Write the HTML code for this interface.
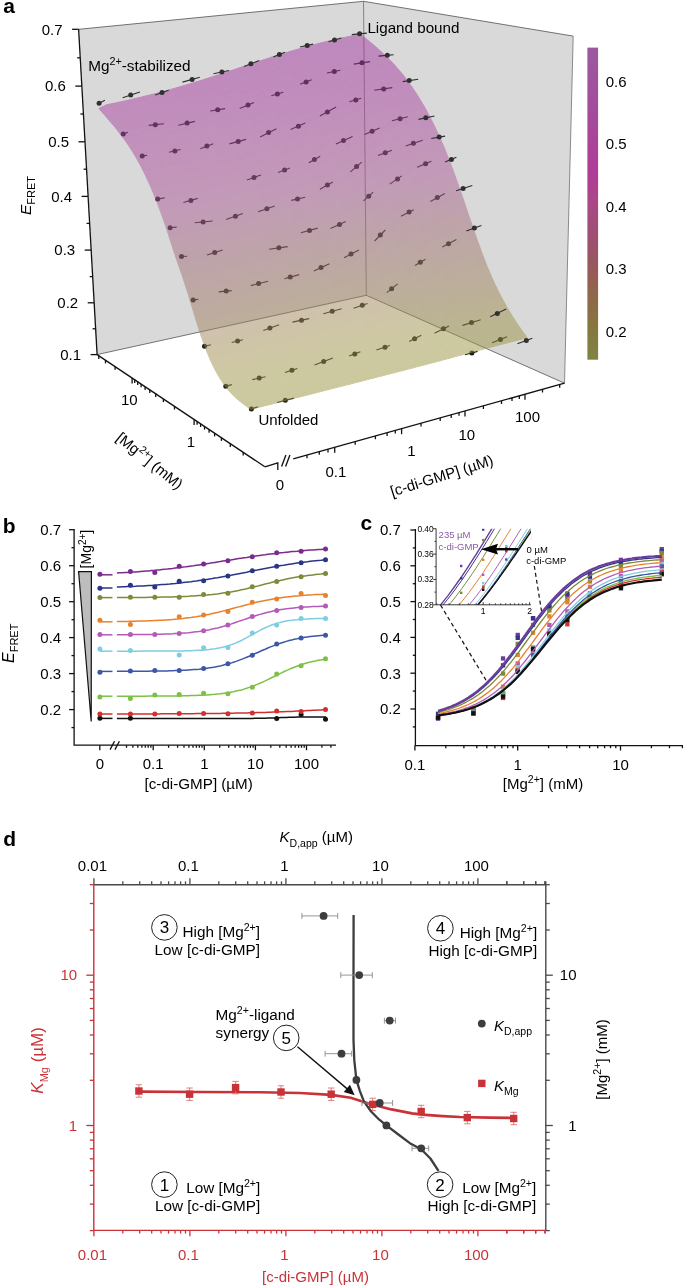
<!DOCTYPE html>
<html><head><meta charset="utf-8"><style>
html,body{margin:0;padding:0;background:#fff;}
svg{display:block;will-change:transform;}
</style></head><body>
<svg width="685" height="1286" viewBox="0 0 685 1286">
<rect width="685" height="1286" fill="#fff"/>
<polygon points="97.1,354.6 366.3,295.3 363.5,1.3 78.6,29.3" fill="#d9d9d9"/>
<polygon points="366.3,295.3 564.5,383.2 573.2,36.1 363.5,1.3" fill="#d9d9d9"/>
<polyline points="78.6,29.3 363.5,1.3 573.2,36.1" stroke="#4a4a4a" stroke-width="0.75" fill="none"/>
<polyline points="573.2,36.1 564.5,383.2" stroke="#6a6a6a" stroke-width="0.75" fill="none"/>
<polyline points="363.5,1.3 366.3,295.3" stroke="#5a5a5a" stroke-width="0.7" fill="none"/>
<polyline points="97.1,354.6 366.3,295.3 564.5,383.2" stroke="#4a4a4a" stroke-width="0.75" fill="none"/>
<line x1="97.1" y1="354.6" x2="78.6" y2="29.3" stroke="#111" stroke-width="1.3" fill="none"/>
<line x1="90.6" y1="354.6" x2="97.1" y2="354.6" stroke="#111" stroke-width="1.3" fill="none"/>
<text x="81.1" y="359.9" text-anchor="end" font-size="15" font-family="Liberation Sans, sans-serif">0.1</text>
<line x1="92.6" y1="328.8" x2="95.6" y2="328.8" stroke="#111" stroke-width="1.3" fill="none"/>
<line x1="87.7" y1="302.8" x2="94.2" y2="302.8" stroke="#111" stroke-width="1.3" fill="none"/>
<text x="78.2" y="308.1" text-anchor="end" font-size="15" font-family="Liberation Sans, sans-serif">0.2</text>
<line x1="89.7" y1="276.6" x2="92.7" y2="276.6" stroke="#111" stroke-width="1.3" fill="none"/>
<line x1="84.7" y1="250.1" x2="91.2" y2="250.1" stroke="#111" stroke-width="1.3" fill="none"/>
<text x="75.2" y="255.4" text-anchor="end" font-size="15" font-family="Liberation Sans, sans-serif">0.3</text>
<line x1="86.6" y1="223.4" x2="89.6" y2="223.4" stroke="#111" stroke-width="1.3" fill="none"/>
<line x1="81.6" y1="196.4" x2="88.1" y2="196.4" stroke="#111" stroke-width="1.3" fill="none"/>
<text x="72.1" y="201.7" text-anchor="end" font-size="15" font-family="Liberation Sans, sans-serif">0.4</text>
<line x1="83.6" y1="169.2" x2="86.6" y2="169.2" stroke="#111" stroke-width="1.3" fill="none"/>
<line x1="78.5" y1="141.8" x2="85.0" y2="141.8" stroke="#111" stroke-width="1.3" fill="none"/>
<text x="69.0" y="147.1" text-anchor="end" font-size="15" font-family="Liberation Sans, sans-serif">0.5</text>
<line x1="80.4" y1="114.0" x2="83.4" y2="114.0" stroke="#111" stroke-width="1.3" fill="none"/>
<line x1="75.3" y1="86.1" x2="81.8" y2="86.1" stroke="#111" stroke-width="1.3" fill="none"/>
<text x="65.8" y="91.4" text-anchor="end" font-size="15" font-family="Liberation Sans, sans-serif">0.6</text>
<line x1="77.2" y1="57.8" x2="80.2" y2="57.8" stroke="#111" stroke-width="1.3" fill="none"/>
<line x1="72.1" y1="29.3" x2="78.6" y2="29.3" stroke="#111" stroke-width="1.3" fill="none"/>
<text x="62.6" y="34.6" text-anchor="end" font-size="15" font-family="Liberation Sans, sans-serif">0.7</text>
<line x1="97.1" y1="354.6" x2="264.9" y2="466.8" stroke="#111" stroke-width="1.3" fill="none"/>
<line x1="243.2" y1="452.3" x2="243.2" y2="455.5" stroke="#111" stroke-width="1.3" fill="none"/>
<line x1="230.3" y1="443.7" x2="230.3" y2="446.9" stroke="#111" stroke-width="1.3" fill="none"/>
<line x1="221.4" y1="437.7" x2="221.4" y2="440.9" stroke="#111" stroke-width="1.3" fill="none"/>
<line x1="214.6" y1="433.2" x2="214.6" y2="436.4" stroke="#111" stroke-width="1.3" fill="none"/>
<line x1="209.1" y1="429.5" x2="209.1" y2="432.7" stroke="#111" stroke-width="1.3" fill="none"/>
<line x1="204.5" y1="426.4" x2="204.5" y2="429.6" stroke="#111" stroke-width="1.3" fill="none"/>
<line x1="200.6" y1="423.8" x2="200.6" y2="427.0" stroke="#111" stroke-width="1.3" fill="none"/>
<line x1="197.1" y1="421.5" x2="197.1" y2="424.7" stroke="#111" stroke-width="1.3" fill="none"/>
<line x1="194.1" y1="419.4" x2="194.1" y2="424.9" stroke="#111" stroke-width="1.3" fill="none"/>
<line x1="174.5" y1="406.3" x2="174.5" y2="409.5" stroke="#111" stroke-width="1.3" fill="none"/>
<line x1="163.4" y1="398.9" x2="163.4" y2="402.1" stroke="#111" stroke-width="1.3" fill="none"/>
<line x1="155.7" y1="393.8" x2="155.7" y2="397.0" stroke="#111" stroke-width="1.3" fill="none"/>
<line x1="149.8" y1="389.8" x2="149.8" y2="393.0" stroke="#111" stroke-width="1.3" fill="none"/>
<line x1="145.1" y1="386.7" x2="145.1" y2="389.9" stroke="#111" stroke-width="1.3" fill="none"/>
<line x1="141.1" y1="384.0" x2="141.1" y2="387.2" stroke="#111" stroke-width="1.3" fill="none"/>
<line x1="137.7" y1="381.8" x2="137.7" y2="385.0" stroke="#111" stroke-width="1.3" fill="none"/>
<line x1="134.7" y1="379.8" x2="134.7" y2="383.0" stroke="#111" stroke-width="1.3" fill="none"/>
<line x1="132.1" y1="378.0" x2="132.1" y2="383.5" stroke="#111" stroke-width="1.3" fill="none"/>
<line x1="115.1" y1="366.6" x2="115.1" y2="369.8" stroke="#111" stroke-width="1.3" fill="none"/>
<line x1="105.5" y1="360.2" x2="105.5" y2="363.4" stroke="#111" stroke-width="1.3" fill="none"/>
<line x1="98.8" y1="355.7" x2="98.8" y2="358.9" stroke="#111" stroke-width="1.3" fill="none"/>
<polyline points="264.9,466.8 277.8,462.9 277.8,470" stroke="#111" stroke-width="1.3" fill="none" stroke-linejoin="miter"/>
<polyline points="293.2,458.9 564.5,383.2" stroke="#111" stroke-width="1.3" fill="none"/>
<line x1="281.6" y1="466.4" x2="285.9" y2="455" stroke="#111" stroke-width="1.3" fill="none"/>
<line x1="285.6" y1="466.4" x2="289.9" y2="455" stroke="#111" stroke-width="1.3" fill="none"/>
<line x1="307.0" y1="455.1" x2="307.0" y2="458.3" stroke="#111" stroke-width="1.3" fill="none"/>
<line x1="319.3" y1="451.6" x2="319.3" y2="454.8" stroke="#111" stroke-width="1.3" fill="none"/>
<line x1="328.0" y1="449.2" x2="328.0" y2="452.4" stroke="#111" stroke-width="1.3" fill="none"/>
<line x1="334.7" y1="447.3" x2="334.7" y2="452.8" stroke="#111" stroke-width="1.3" fill="none"/>
<line x1="355.2" y1="441.6" x2="355.2" y2="444.8" stroke="#111" stroke-width="1.3" fill="none"/>
<line x1="375.4" y1="436.0" x2="375.4" y2="439.2" stroke="#111" stroke-width="1.3" fill="none"/>
<line x1="387.1" y1="432.7" x2="387.1" y2="435.9" stroke="#111" stroke-width="1.3" fill="none"/>
<line x1="395.3" y1="430.4" x2="395.3" y2="433.6" stroke="#111" stroke-width="1.3" fill="none"/>
<line x1="401.6" y1="428.7" x2="401.6" y2="434.2" stroke="#111" stroke-width="1.3" fill="none"/>
<line x1="421.0" y1="423.2" x2="421.0" y2="426.4" stroke="#111" stroke-width="1.3" fill="none"/>
<line x1="440.2" y1="417.9" x2="440.2" y2="421.1" stroke="#111" stroke-width="1.3" fill="none"/>
<line x1="451.2" y1="414.8" x2="451.2" y2="418.0" stroke="#111" stroke-width="1.3" fill="none"/>
<line x1="459.0" y1="412.6" x2="459.0" y2="415.8" stroke="#111" stroke-width="1.3" fill="none"/>
<line x1="465.0" y1="411.0" x2="465.0" y2="416.5" stroke="#111" stroke-width="1.3" fill="none"/>
<line x1="483.4" y1="405.8" x2="483.4" y2="409.0" stroke="#111" stroke-width="1.3" fill="none"/>
<line x1="501.5" y1="400.8" x2="501.5" y2="404.0" stroke="#111" stroke-width="1.3" fill="none"/>
<line x1="512.0" y1="397.8" x2="512.0" y2="401.0" stroke="#111" stroke-width="1.3" fill="none"/>
<line x1="519.3" y1="395.8" x2="519.3" y2="399.0" stroke="#111" stroke-width="1.3" fill="none"/>
<line x1="525.0" y1="394.2" x2="525.0" y2="399.7" stroke="#111" stroke-width="1.3" fill="none"/>
<line x1="542.5" y1="389.3" x2="542.5" y2="392.5" stroke="#111" stroke-width="1.3" fill="none"/>
<line x1="559.7" y1="384.5" x2="559.7" y2="387.7" stroke="#111" stroke-width="1.3" fill="none"/>
<text x="129.3" y="405" font-size="15" font-family="Liberation Sans, sans-serif" text-anchor="middle">10</text>
<text x="191" y="447.2" font-size="15" font-family="Liberation Sans, sans-serif" text-anchor="middle">1</text>
<text x="279.9" y="489.6" font-size="15" font-family="Liberation Sans, sans-serif" text-anchor="middle">0</text>
<text x="335.9" y="476.5" font-size="15" font-family="Liberation Sans, sans-serif" text-anchor="middle">0.1</text>
<text x="411.4" y="456.4" font-size="15" font-family="Liberation Sans, sans-serif" text-anchor="middle">1</text>
<text x="466.8" y="440" font-size="15" font-family="Liberation Sans, sans-serif" text-anchor="middle">10</text>
<text x="527.5" y="422.3" font-size="15" font-family="Liberation Sans, sans-serif" text-anchor="middle">100</text>
<text transform="translate(149.6,461) rotate(39)" text-anchor="middle" dy="5" font-size="15" font-family="Liberation Sans, sans-serif">[Mg<tspan font-size="10.6" dy="-6">2+</tspan><tspan dy="6">] (mM)</tspan></text>
<text transform="translate(441.8,475.9) rotate(-17.5)" text-anchor="middle" dy="5" font-size="15" font-family="Liberation Sans, sans-serif">[c-di-GMP] (µM)</text>
<text transform="translate(30.6,215) rotate(-90)" font-size="15.5" font-family="Liberation Sans, sans-serif"><tspan font-style="italic">E</tspan><tspan font-size="11" dy="4.2">FRET</tspan></text>
<line x1="251.4" y1="409.0" x2="257.9" y2="406.8" stroke="#1e1e1e" stroke-width="1.1"/>
<circle cx="251.4" cy="409.0" r="2.5" fill="#1e1e1e"/>
<line x1="277.1" y1="402.5" x2="293.9" y2="398.1" stroke="#1e1e1e" stroke-width="1.1"/>
<circle cx="285.3" cy="400.3" r="2.5" fill="#1e1e1e"/>
<line x1="465.0" y1="354.7" x2="477.6" y2="351.4" stroke="#1e1e1e" stroke-width="1.1"/>
<circle cx="471.9" cy="352.9" r="2.5" fill="#1e1e1e"/>
<line x1="492.1" y1="342.8" x2="507.1" y2="336.8" stroke="#1e1e1e" stroke-width="1.1"/>
<circle cx="500.4" cy="339.5" r="2.5" fill="#1e1e1e"/>
<line x1="225.8" y1="386.3" x2="231.8" y2="384.6" stroke="#1e1e1e" stroke-width="1.1"/>
<circle cx="225.8" cy="386.3" r="2.5" fill="#1e1e1e"/>
<line x1="252.3" y1="379.6" x2="265.5" y2="376.8" stroke="#1e1e1e" stroke-width="1.1"/>
<circle cx="259.2" cy="378.1" r="2.5" fill="#1e1e1e"/>
<line x1="285.0" y1="372.4" x2="297.3" y2="368.4" stroke="#1e1e1e" stroke-width="1.1"/>
<circle cx="291.9" cy="370.2" r="2.5" fill="#1e1e1e"/>
<line x1="314.5" y1="364.9" x2="332.9" y2="358.1" stroke="#1e1e1e" stroke-width="1.1"/>
<circle cx="323.7" cy="361.5" r="2.5" fill="#1e1e1e"/>
<line x1="349.1" y1="356.1" x2="360.4" y2="351.7" stroke="#1e1e1e" stroke-width="1.1"/>
<circle cx="354.8" cy="353.9" r="2.5" fill="#1e1e1e"/>
<line x1="376.4" y1="349.9" x2="389.9" y2="345.6" stroke="#1e1e1e" stroke-width="1.1"/>
<circle cx="385.0" cy="347.2" r="2.5" fill="#1e1e1e"/>
<line x1="409.2" y1="341.4" x2="421.3" y2="335.3" stroke="#1e1e1e" stroke-width="1.1"/>
<circle cx="414.6" cy="338.7" r="2.5" fill="#1e1e1e"/>
<line x1="434.5" y1="333.3" x2="449.0" y2="326.0" stroke="#1e1e1e" stroke-width="1.1"/>
<circle cx="443.4" cy="328.8" r="2.5" fill="#1e1e1e"/>
<line x1="462.5" y1="325.4" x2="480.7" y2="319.8" stroke="#1e1e1e" stroke-width="1.1"/>
<circle cx="471.5" cy="322.6" r="2.5" fill="#1e1e1e"/>
<line x1="204.5" y1="346.3" x2="210.8" y2="344.7" stroke="#1e1e1e" stroke-width="1.1"/>
<circle cx="204.5" cy="346.3" r="2.5" fill="#1e1e1e"/>
<line x1="231.7" y1="342.5" x2="242.9" y2="339.8" stroke="#1e1e1e" stroke-width="1.1"/>
<circle cx="237.6" cy="341.1" r="2.5" fill="#1e1e1e"/>
<line x1="263.3" y1="330.5" x2="279.1" y2="324.8" stroke="#1e1e1e" stroke-width="1.1"/>
<circle cx="269.9" cy="328.1" r="2.5" fill="#1e1e1e"/>
<line x1="292.4" y1="322.1" x2="309.1" y2="318.6" stroke="#1e1e1e" stroke-width="1.1"/>
<circle cx="301.5" cy="320.2" r="2.5" fill="#1e1e1e"/>
<line x1="323.3" y1="313.7" x2="341.6" y2="308.8" stroke="#1e1e1e" stroke-width="1.1"/>
<circle cx="332.2" cy="311.3" r="2.5" fill="#1e1e1e"/>
<line x1="353.5" y1="308.3" x2="367.5" y2="303.6" stroke="#1e1e1e" stroke-width="1.1"/>
<circle cx="362.3" cy="305.3" r="2.5" fill="#1e1e1e"/>
<line x1="386.8" y1="292.6" x2="397.7" y2="283.9" stroke="#1e1e1e" stroke-width="1.1"/>
<circle cx="391.6" cy="288.8" r="2.5" fill="#1e1e1e"/>
<line x1="415.0" y1="265.5" x2="425.4" y2="259.2" stroke="#1e1e1e" stroke-width="1.1"/>
<circle cx="420.3" cy="262.3" r="2.5" fill="#1e1e1e"/>
<line x1="442.3" y1="247.0" x2="456.4" y2="239.5" stroke="#1e1e1e" stroke-width="1.1"/>
<circle cx="448.5" cy="243.7" r="2.5" fill="#1e1e1e"/>
<line x1="193.1" y1="300.1" x2="198.3" y2="299.2" stroke="#1e1e1e" stroke-width="1.1"/>
<circle cx="193.1" cy="300.1" r="2.5" fill="#1e1e1e"/>
<line x1="218.8" y1="291.9" x2="231.6" y2="290.6" stroke="#1e1e1e" stroke-width="1.1"/>
<circle cx="226.2" cy="291.1" r="2.5" fill="#1e1e1e"/>
<line x1="250.8" y1="285.6" x2="268.1" y2="281.2" stroke="#1e1e1e" stroke-width="1.1"/>
<circle cx="258.6" cy="283.6" r="2.5" fill="#1e1e1e"/>
<line x1="284.4" y1="278.8" x2="299.2" y2="274.6" stroke="#1e1e1e" stroke-width="1.1"/>
<circle cx="290.2" cy="277.1" r="2.5" fill="#1e1e1e"/>
<line x1="313.8" y1="270.9" x2="329.4" y2="263.8" stroke="#1e1e1e" stroke-width="1.1"/>
<circle cx="321.0" cy="267.6" r="2.5" fill="#1e1e1e"/>
<line x1="344.1" y1="257.7" x2="359.0" y2="250.0" stroke="#1e1e1e" stroke-width="1.1"/>
<circle cx="351.0" cy="254.1" r="2.5" fill="#1e1e1e"/>
<line x1="374.6" y1="241.0" x2="385.3" y2="230.0" stroke="#1e1e1e" stroke-width="1.1"/>
<circle cx="380.3" cy="235.0" r="2.5" fill="#1e1e1e"/>
<line x1="400.9" y1="216.3" x2="413.8" y2="209.7" stroke="#1e1e1e" stroke-width="1.1"/>
<circle cx="409.1" cy="212.1" r="2.5" fill="#1e1e1e"/>
<line x1="430.4" y1="201.4" x2="444.8" y2="193.5" stroke="#1e1e1e" stroke-width="1.1"/>
<circle cx="437.3" cy="197.6" r="2.5" fill="#1e1e1e"/>
<line x1="181.5" y1="256.5" x2="187.2" y2="256.2" stroke="#1e1e1e" stroke-width="1.1"/>
<circle cx="181.5" cy="256.5" r="2.5" fill="#1e1e1e"/>
<line x1="207.0" y1="255.1" x2="222.6" y2="249.9" stroke="#1e1e1e" stroke-width="1.1"/>
<circle cx="214.7" cy="252.5" r="2.5" fill="#1e1e1e"/>
<line x1="269.1" y1="249.2" x2="287.7" y2="246.6" stroke="#1e1e1e" stroke-width="1.1"/>
<circle cx="278.9" cy="247.8" r="2.5" fill="#1e1e1e"/>
<line x1="300.9" y1="232.7" x2="317.7" y2="228.1" stroke="#1e1e1e" stroke-width="1.1"/>
<circle cx="309.5" cy="230.4" r="2.5" fill="#1e1e1e"/>
<line x1="330.5" y1="228.5" x2="345.8" y2="221.5" stroke="#1e1e1e" stroke-width="1.1"/>
<circle cx="339.5" cy="224.4" r="2.5" fill="#1e1e1e"/>
<line x1="363.6" y1="200.9" x2="373.2" y2="192.1" stroke="#1e1e1e" stroke-width="1.1"/>
<circle cx="368.7" cy="196.2" r="2.5" fill="#1e1e1e"/>
<line x1="389.8" y1="184.1" x2="401.8" y2="175.9" stroke="#1e1e1e" stroke-width="1.1"/>
<circle cx="397.5" cy="178.9" r="2.5" fill="#1e1e1e"/>
<line x1="417.1" y1="167.3" x2="431.4" y2="161.3" stroke="#1e1e1e" stroke-width="1.1"/>
<circle cx="425.6" cy="163.7" r="2.5" fill="#1e1e1e"/>
<line x1="170.1" y1="227.8" x2="176.7" y2="227.1" stroke="#1e1e1e" stroke-width="1.1"/>
<circle cx="170.1" cy="227.8" r="2.5" fill="#1e1e1e"/>
<line x1="194.8" y1="222.8" x2="212.6" y2="221.0" stroke="#1e1e1e" stroke-width="1.1"/>
<circle cx="203.1" cy="221.9" r="2.5" fill="#1e1e1e"/>
<line x1="226.1" y1="219.6" x2="242.8" y2="213.5" stroke="#1e1e1e" stroke-width="1.1"/>
<circle cx="235.4" cy="216.2" r="2.5" fill="#1e1e1e"/>
<line x1="258.1" y1="211.7" x2="274.7" y2="206.0" stroke="#1e1e1e" stroke-width="1.1"/>
<circle cx="266.9" cy="208.7" r="2.5" fill="#1e1e1e"/>
<line x1="291.3" y1="200.4" x2="305.2" y2="197.2" stroke="#1e1e1e" stroke-width="1.1"/>
<circle cx="297.5" cy="199.0" r="2.5" fill="#1e1e1e"/>
<line x1="319.9" y1="189.2" x2="332.8" y2="181.9" stroke="#1e1e1e" stroke-width="1.1"/>
<circle cx="327.4" cy="185.0" r="2.5" fill="#1e1e1e"/>
<line x1="350.4" y1="171.9" x2="361.8" y2="162.2" stroke="#1e1e1e" stroke-width="1.1"/>
<circle cx="356.6" cy="166.6" r="2.5" fill="#1e1e1e"/>
<line x1="378.0" y1="155.6" x2="391.9" y2="150.2" stroke="#1e1e1e" stroke-width="1.1"/>
<circle cx="385.3" cy="152.8" r="2.5" fill="#1e1e1e"/>
<line x1="405.7" y1="145.9" x2="422.7" y2="140.3" stroke="#1e1e1e" stroke-width="1.1"/>
<circle cx="413.4" cy="143.3" r="2.5" fill="#1e1e1e"/>
<line x1="157.7" y1="199.0" x2="164.6" y2="197.9" stroke="#1e1e1e" stroke-width="1.1"/>
<circle cx="157.7" cy="199.0" r="2.5" fill="#1e1e1e"/>
<line x1="183.4" y1="202.5" x2="197.7" y2="198.4" stroke="#1e1e1e" stroke-width="1.1"/>
<circle cx="190.9" cy="200.4" r="2.5" fill="#1e1e1e"/>
<line x1="247.0" y1="179.9" x2="261.0" y2="175.0" stroke="#1e1e1e" stroke-width="1.1"/>
<circle cx="254.0" cy="177.5" r="2.5" fill="#1e1e1e"/>
<line x1="278.0" y1="172.4" x2="289.9" y2="167.9" stroke="#1e1e1e" stroke-width="1.1"/>
<circle cx="284.6" cy="169.9" r="2.5" fill="#1e1e1e"/>
<line x1="308.8" y1="162.7" x2="320.2" y2="156.2" stroke="#1e1e1e" stroke-width="1.1"/>
<circle cx="314.4" cy="159.5" r="2.5" fill="#1e1e1e"/>
<line x1="335.9" y1="144.1" x2="352.6" y2="136.5" stroke="#1e1e1e" stroke-width="1.1"/>
<circle cx="343.5" cy="140.6" r="2.5" fill="#1e1e1e"/>
<line x1="364.6" y1="134.5" x2="379.7" y2="128.1" stroke="#1e1e1e" stroke-width="1.1"/>
<circle cx="372.1" cy="131.3" r="2.5" fill="#1e1e1e"/>
<line x1="391.9" y1="120.7" x2="407.8" y2="116.7" stroke="#1e1e1e" stroke-width="1.1"/>
<circle cx="400.1" cy="118.7" r="2.5" fill="#1e1e1e"/>
<line x1="142.2" y1="156.1" x2="147.2" y2="155.2" stroke="#1e1e1e" stroke-width="1.1"/>
<circle cx="142.2" cy="156.1" r="2.5" fill="#1e1e1e"/>
<line x1="169.0" y1="152.3" x2="180.5" y2="149.5" stroke="#1e1e1e" stroke-width="1.1"/>
<circle cx="174.9" cy="150.9" r="2.5" fill="#1e1e1e"/>
<line x1="200.3" y1="148.7" x2="213.2" y2="143.7" stroke="#1e1e1e" stroke-width="1.1"/>
<circle cx="206.9" cy="146.1" r="2.5" fill="#1e1e1e"/>
<line x1="229.4" y1="143.9" x2="246.1" y2="139.4" stroke="#1e1e1e" stroke-width="1.1"/>
<circle cx="238.2" cy="141.5" r="2.5" fill="#1e1e1e"/>
<line x1="260.1" y1="136.9" x2="276.4" y2="128.7" stroke="#1e1e1e" stroke-width="1.1"/>
<circle cx="268.6" cy="132.6" r="2.5" fill="#1e1e1e"/>
<line x1="290.6" y1="129.6" x2="305.3" y2="123.1" stroke="#1e1e1e" stroke-width="1.1"/>
<circle cx="298.4" cy="126.2" r="2.5" fill="#1e1e1e"/>
<line x1="319.9" y1="116.1" x2="336.1" y2="107.1" stroke="#1e1e1e" stroke-width="1.1"/>
<circle cx="327.4" cy="112.0" r="2.5" fill="#1e1e1e"/>
<line x1="349.4" y1="101.7" x2="361.2" y2="98.3" stroke="#1e1e1e" stroke-width="1.1"/>
<circle cx="355.8" cy="99.9" r="2.5" fill="#1e1e1e"/>
<line x1="374.2" y1="90.3" x2="392.3" y2="87.6" stroke="#1e1e1e" stroke-width="1.1"/>
<circle cx="383.7" cy="88.9" r="2.5" fill="#1e1e1e"/>
<line x1="123.2" y1="134.0" x2="127.9" y2="132.2" stroke="#1e1e1e" stroke-width="1.1"/>
<circle cx="123.2" cy="134.0" r="2.5" fill="#1e1e1e"/>
<line x1="148.7" y1="125.4" x2="163.9" y2="123.8" stroke="#1e1e1e" stroke-width="1.1"/>
<circle cx="155.3" cy="124.7" r="2.5" fill="#1e1e1e"/>
<line x1="178.3" y1="125.2" x2="194.9" y2="121.4" stroke="#1e1e1e" stroke-width="1.1"/>
<circle cx="187.1" cy="123.1" r="2.5" fill="#1e1e1e"/>
<line x1="210.3" y1="111.0" x2="225.1" y2="108.6" stroke="#1e1e1e" stroke-width="1.1"/>
<circle cx="217.7" cy="109.8" r="2.5" fill="#1e1e1e"/>
<line x1="239.7" y1="108.6" x2="254.0" y2="102.6" stroke="#1e1e1e" stroke-width="1.1"/>
<circle cx="248.0" cy="105.1" r="2.5" fill="#1e1e1e"/>
<line x1="271.3" y1="95.7" x2="283.3" y2="92.3" stroke="#1e1e1e" stroke-width="1.1"/>
<circle cx="277.4" cy="93.9" r="2.5" fill="#1e1e1e"/>
<line x1="300.1" y1="84.3" x2="311.7" y2="79.8" stroke="#1e1e1e" stroke-width="1.1"/>
<circle cx="306.1" cy="81.9" r="2.5" fill="#1e1e1e"/>
<line x1="327.0" y1="73.0" x2="340.3" y2="70.3" stroke="#1e1e1e" stroke-width="1.1"/>
<circle cx="334.3" cy="71.5" r="2.5" fill="#1e1e1e"/>
<line x1="353.7" y1="64.1" x2="370.0" y2="61.6" stroke="#1e1e1e" stroke-width="1.1"/>
<circle cx="362.0" cy="62.8" r="2.5" fill="#1e1e1e"/>
<g opacity="0.5">
<polygon points="357.9,38.8 364.5,37.5 360.4,34.1 353.8,35.5" fill="#a33ca0" stroke="#a33ca0" stroke-width="1.0" stroke-linejoin="round"/>
<polygon points="351.2,40.2 357.9,38.8 353.8,35.5 347.1,36.9" fill="#a33ca0" stroke="#a33ca0" stroke-width="1.0" stroke-linejoin="round"/>
<polygon points="362.0,42.2 368.7,40.9 364.5,37.5 357.9,38.8" fill="#a33ca0" stroke="#a33ca0" stroke-width="1.0" stroke-linejoin="round"/>
<polygon points="344.5,41.7 351.2,40.2 347.1,36.9 340.4,38.3" fill="#a33ca0" stroke="#a33ca0" stroke-width="1.0" stroke-linejoin="round"/>
<polygon points="355.4,43.7 362.0,42.2 357.9,38.8 351.2,40.2" fill="#a33ca0" stroke="#a33ca0" stroke-width="1.0" stroke-linejoin="round"/>
<polygon points="366.2,45.8 372.9,44.4 368.7,40.9 362.0,42.2" fill="#a43ca1" stroke="#a43ca1" stroke-width="1.0" stroke-linejoin="round"/>
<polygon points="337.8,43.3 344.5,41.7 340.4,38.3 333.7,39.8" fill="#a33ca0" stroke="#a33ca0" stroke-width="1.0" stroke-linejoin="round"/>
<polygon points="348.6,45.2 355.4,43.7 351.2,40.2 344.5,41.7" fill="#a33ca0" stroke="#a33ca0" stroke-width="1.0" stroke-linejoin="round"/>
<polygon points="359.5,47.2 366.2,45.8 362.0,42.2 355.4,43.7" fill="#a43ca1" stroke="#a43ca1" stroke-width="1.0" stroke-linejoin="round"/>
<polygon points="370.4,49.4 377.1,48.0 372.9,44.4 366.2,45.8" fill="#a43ca1" stroke="#a43ca1" stroke-width="1.0" stroke-linejoin="round"/>
<polygon points="331.0,44.9 337.8,43.3 333.7,39.8 326.9,41.5" fill="#a33ca0" stroke="#a33ca0" stroke-width="1.0" stroke-linejoin="round"/>
<polygon points="341.9,46.8 348.6,45.2 344.5,41.7 337.8,43.3" fill="#a43ca1" stroke="#a43ca1" stroke-width="1.0" stroke-linejoin="round"/>
<polygon points="352.8,48.8 359.5,47.2 355.4,43.7 348.6,45.2" fill="#a43ca1" stroke="#a43ca1" stroke-width="1.0" stroke-linejoin="round"/>
<polygon points="363.7,50.9 370.4,49.4 366.2,45.8 359.5,47.2" fill="#a43ca1" stroke="#a43ca1" stroke-width="1.0" stroke-linejoin="round"/>
<polygon points="324.2,46.6 331.0,44.9 326.9,41.5 320.1,43.1" fill="#a33ca0" stroke="#a33ca0" stroke-width="1.0" stroke-linejoin="round"/>
<polygon points="374.7,53.3 381.4,51.9 377.1,48.0 370.4,49.4" fill="#a53ca1" stroke="#a53ca1" stroke-width="1.0" stroke-linejoin="round"/>
<polygon points="335.1,48.4 341.9,46.8 337.8,43.3 331.0,44.9" fill="#a43ca1" stroke="#a43ca1" stroke-width="1.0" stroke-linejoin="round"/>
<polygon points="346.0,50.4 352.8,48.8 348.6,45.2 341.9,46.8" fill="#a43ca1" stroke="#a43ca1" stroke-width="1.0" stroke-linejoin="round"/>
<polygon points="317.3,48.5 324.2,46.6 320.1,43.1 313.3,44.9" fill="#a43ca1" stroke="#a43ca1" stroke-width="1.0" stroke-linejoin="round"/>
<polygon points="357.0,52.5 363.7,50.9 359.5,47.2 352.8,48.8" fill="#a43ca1" stroke="#a43ca1" stroke-width="1.0" stroke-linejoin="round"/>
<polygon points="368.0,54.8 374.7,53.3 370.4,49.4 363.7,50.9" fill="#a53ca1" stroke="#a53ca1" stroke-width="1.0" stroke-linejoin="round"/>
<polygon points="328.3,50.2 335.1,48.4 331.0,44.9 324.2,46.6" fill="#a43ca1" stroke="#a43ca1" stroke-width="1.0" stroke-linejoin="round"/>
<polygon points="379.0,57.3 385.7,55.9 381.4,51.9 374.7,53.3" fill="#a53ca1" stroke="#a53ca1" stroke-width="1.0" stroke-linejoin="round"/>
<polygon points="339.2,52.1 346.0,50.4 341.9,46.8 335.1,48.4" fill="#a43ca1" stroke="#a43ca1" stroke-width="1.0" stroke-linejoin="round"/>
<polygon points="310.5,50.3 317.3,48.5 313.3,44.9 306.4,46.8" fill="#a43ca1" stroke="#a43ca1" stroke-width="1.0" stroke-linejoin="round"/>
<polygon points="350.2,54.1 357.0,52.5 352.8,48.8 346.0,50.4" fill="#a53ca1" stroke="#a53ca1" stroke-width="1.0" stroke-linejoin="round"/>
<polygon points="361.2,56.4 368.0,54.8 363.7,50.9 357.0,52.5" fill="#a53ca1" stroke="#a53ca1" stroke-width="1.0" stroke-linejoin="round"/>
<polygon points="321.4,52.1 328.3,50.2 324.2,46.6 317.3,48.5" fill="#a43ca1" stroke="#a43ca1" stroke-width="1.0" stroke-linejoin="round"/>
<polygon points="372.2,58.9 379.0,57.3 374.7,53.3 368.0,54.8" fill="#a53ca1" stroke="#a53ca1" stroke-width="1.0" stroke-linejoin="round"/>
<polygon points="332.4,53.9 339.2,52.1 335.1,48.4 328.3,50.2" fill="#a43ca1" stroke="#a43ca1" stroke-width="1.0" stroke-linejoin="round"/>
<polygon points="383.3,61.7 390.0,60.2 385.7,55.9 379.0,57.3" fill="#a63ca1" stroke="#a63ca1" stroke-width="1.0" stroke-linejoin="round"/>
<polygon points="303.6,52.3 310.5,50.3 306.4,46.8 299.5,48.7" fill="#a43ca1" stroke="#a43ca1" stroke-width="1.0" stroke-linejoin="round"/>
<polygon points="343.4,55.8 350.2,54.1 346.0,50.4 339.2,52.1" fill="#a53ca1" stroke="#a53ca1" stroke-width="1.0" stroke-linejoin="round"/>
<polygon points="314.5,54.0 321.4,52.1 317.3,48.5 310.5,50.3" fill="#a43ca1" stroke="#a43ca1" stroke-width="1.0" stroke-linejoin="round"/>
<polygon points="354.4,58.0 361.2,56.4 357.0,52.5 350.2,54.1" fill="#a53ca1" stroke="#a53ca1" stroke-width="1.0" stroke-linejoin="round"/>
<polygon points="365.5,60.5 372.2,58.9 368.0,54.8 361.2,56.4" fill="#a63ca1" stroke="#a63ca1" stroke-width="1.0" stroke-linejoin="round"/>
<polygon points="325.5,55.8 332.4,53.9 328.3,50.2 321.4,52.1" fill="#a53ca1" stroke="#a53ca1" stroke-width="1.0" stroke-linejoin="round"/>
<polygon points="376.6,63.2 383.3,61.7 379.0,57.3 372.2,58.9" fill="#a63ca1" stroke="#a63ca1" stroke-width="1.0" stroke-linejoin="round"/>
<polygon points="296.6,54.4 303.6,52.3 299.5,48.7 292.6,50.7" fill="#a43ca1" stroke="#a43ca1" stroke-width="1.0" stroke-linejoin="round"/>
<polygon points="336.6,57.7 343.4,55.8 339.2,52.1 332.4,53.9" fill="#a53ca1" stroke="#a53ca1" stroke-width="1.0" stroke-linejoin="round"/>
<polygon points="387.6,66.3 394.4,64.8 390.0,60.2 383.3,61.7" fill="#a73ca1" stroke="#a73ca1" stroke-width="1.0" stroke-linejoin="round"/>
<polygon points="307.6,56.0 314.5,54.0 310.5,50.3 303.6,52.3" fill="#a53ca1" stroke="#a53ca1" stroke-width="1.0" stroke-linejoin="round"/>
<polygon points="347.6,59.8 354.4,58.0 350.2,54.1 343.4,55.8" fill="#a53ca1" stroke="#a53ca1" stroke-width="1.0" stroke-linejoin="round"/>
<polygon points="358.7,62.2 365.5,60.5 361.2,56.4 354.4,58.0" fill="#a63ca1" stroke="#a63ca1" stroke-width="1.0" stroke-linejoin="round"/>
<polygon points="318.6,57.7 325.5,55.8 321.4,52.1 314.5,54.0" fill="#a53ca1" stroke="#a53ca1" stroke-width="1.0" stroke-linejoin="round"/>
<polygon points="289.6,56.5 296.6,54.4 292.6,50.7 285.6,52.8" fill="#a43ca1" stroke="#a43ca1" stroke-width="1.0" stroke-linejoin="round"/>
<polygon points="369.8,64.9 376.6,63.2 372.2,58.9 365.5,60.5" fill="#a63ca1" stroke="#a63ca1" stroke-width="1.0" stroke-linejoin="round"/>
<polygon points="329.7,59.6 336.6,57.7 332.4,53.9 325.5,55.8" fill="#a53ca1" stroke="#a53ca1" stroke-width="1.0" stroke-linejoin="round"/>
<polygon points="380.9,67.9 387.6,66.3 383.3,61.7 376.6,63.2" fill="#a73ca1" stroke="#a73ca1" stroke-width="1.0" stroke-linejoin="round"/>
<polygon points="300.7,58.1 307.6,56.0 303.6,52.3 296.6,54.4" fill="#a53ca1" stroke="#a53ca1" stroke-width="1.0" stroke-linejoin="round"/>
<polygon points="340.8,61.7 347.6,59.8 343.4,55.8 336.6,57.7" fill="#a63ca1" stroke="#a63ca1" stroke-width="1.0" stroke-linejoin="round"/>
<polygon points="392.0,71.3 398.7,69.8 394.4,64.8 387.6,66.3" fill="#a73da1" stroke="#a73da1" stroke-width="1.0" stroke-linejoin="round"/>
<polygon points="311.7,59.8 318.6,57.7 314.5,54.0 307.6,56.0" fill="#a53ca1" stroke="#a53ca1" stroke-width="1.0" stroke-linejoin="round"/>
<polygon points="351.8,64.0 358.7,62.2 354.4,58.0 347.6,59.8" fill="#a63ca1" stroke="#a63ca1" stroke-width="1.0" stroke-linejoin="round"/>
<polygon points="282.6,58.7 289.6,56.5 285.6,52.8 278.6,55.0" fill="#a53ca1" stroke="#a53ca1" stroke-width="1.0" stroke-linejoin="round"/>
<polygon points="363.0,66.6 369.8,64.9 365.5,60.5 358.7,62.2" fill="#a63ca1" stroke="#a63ca1" stroke-width="1.0" stroke-linejoin="round"/>
<polygon points="322.8,61.6 329.7,59.6 325.5,55.8 318.6,57.7" fill="#a53ca1" stroke="#a53ca1" stroke-width="1.0" stroke-linejoin="round"/>
<polygon points="374.1,69.6 380.9,67.9 376.6,63.2 369.8,64.9" fill="#a73ca1" stroke="#a73ca1" stroke-width="1.0" stroke-linejoin="round"/>
<polygon points="293.7,60.3 300.7,58.1 296.6,54.4 289.6,56.5" fill="#a53ca1" stroke="#a53ca1" stroke-width="1.0" stroke-linejoin="round"/>
<polygon points="333.9,63.6 340.8,61.7 336.6,57.7 329.7,59.6" fill="#a63ca1" stroke="#a63ca1" stroke-width="1.0" stroke-linejoin="round"/>
<polygon points="385.2,72.9 392.0,71.3 387.6,66.3 380.9,67.9" fill="#a73da1" stroke="#a73da1" stroke-width="1.0" stroke-linejoin="round"/>
<polygon points="304.7,62.0 311.7,59.8 307.6,56.0 300.7,58.1" fill="#a53ca1" stroke="#a53ca1" stroke-width="1.0" stroke-linejoin="round"/>
<polygon points="345.0,65.9 351.8,64.0 347.6,59.8 340.8,61.7" fill="#a63ca1" stroke="#a63ca1" stroke-width="1.0" stroke-linejoin="round"/>
<polygon points="396.4,76.7 403.2,75.1 398.7,69.8 392.0,71.3" fill="#a83ea1" stroke="#a83ea1" stroke-width="1.0" stroke-linejoin="round"/>
<polygon points="275.6,61.0 282.6,58.7 278.6,55.0 271.6,57.2" fill="#a53ca1" stroke="#a53ca1" stroke-width="1.0" stroke-linejoin="round"/>
<polygon points="356.1,68.4 363.0,66.6 358.7,62.2 351.8,64.0" fill="#a73ca1" stroke="#a73ca1" stroke-width="1.0" stroke-linejoin="round"/>
<polygon points="315.8,63.8 322.8,61.6 318.6,57.7 311.7,59.8" fill="#a63ca1" stroke="#a63ca1" stroke-width="1.0" stroke-linejoin="round"/>
<polygon points="367.3,71.3 374.1,69.6 369.8,64.9 363.0,66.6" fill="#a73ca1" stroke="#a73ca1" stroke-width="1.0" stroke-linejoin="round"/>
<polygon points="286.6,62.6 293.7,60.3 289.6,56.5 282.6,58.7" fill="#a53ca1" stroke="#a53ca1" stroke-width="1.0" stroke-linejoin="round"/>
<polygon points="326.9,65.7 333.9,63.6 329.7,59.6 322.8,61.6" fill="#a63ca1" stroke="#a63ca1" stroke-width="1.0" stroke-linejoin="round"/>
<polygon points="378.4,74.6 385.2,72.9 380.9,67.9 374.1,69.6" fill="#a73da1" stroke="#a73da1" stroke-width="1.0" stroke-linejoin="round"/>
<polygon points="297.7,64.2 304.7,62.0 300.7,58.1 293.7,60.3" fill="#a63ca1" stroke="#a63ca1" stroke-width="1.0" stroke-linejoin="round"/>
<polygon points="338.1,67.9 345.0,65.9 340.8,61.7 333.9,63.6" fill="#a63ca1" stroke="#a63ca1" stroke-width="1.0" stroke-linejoin="round"/>
<polygon points="389.6,78.3 396.4,76.7 392.0,71.3 385.2,72.9" fill="#a83ea1" stroke="#a83ea1" stroke-width="1.0" stroke-linejoin="round"/>
<polygon points="268.5,63.4 275.6,61.0 271.6,57.2 264.5,59.5" fill="#a53ca1" stroke="#a53ca1" stroke-width="1.0" stroke-linejoin="round"/>
<polygon points="349.2,70.4 356.1,68.4 351.8,64.0 345.0,65.9" fill="#a73ca1" stroke="#a73ca1" stroke-width="1.0" stroke-linejoin="round"/>
<polygon points="400.9,82.5 407.6,80.9 403.2,75.1 396.4,76.7" fill="#a840a0" stroke="#a840a0" stroke-width="1.0" stroke-linejoin="round"/>
<polygon points="308.8,66.0 315.8,63.8 311.7,59.8 304.7,62.0" fill="#a63ca1" stroke="#a63ca1" stroke-width="1.0" stroke-linejoin="round"/>
<polygon points="279.6,64.9 286.6,62.6 282.6,58.7 275.6,61.0" fill="#a63ca1" stroke="#a63ca1" stroke-width="1.0" stroke-linejoin="round"/>
<polygon points="360.4,73.2 367.3,71.3 363.0,66.6 356.1,68.4" fill="#a73ca1" stroke="#a73ca1" stroke-width="1.0" stroke-linejoin="round"/>
<polygon points="320.0,67.9 326.9,65.7 322.8,61.6 315.8,63.8" fill="#a63ca1" stroke="#a63ca1" stroke-width="1.0" stroke-linejoin="round"/>
<polygon points="371.6,76.4 378.4,74.6 374.1,69.6 367.3,71.3" fill="#a73da1" stroke="#a73da1" stroke-width="1.0" stroke-linejoin="round"/>
<polygon points="290.7,66.6 297.7,64.2 293.7,60.3 286.6,62.6" fill="#a63ca1" stroke="#a63ca1" stroke-width="1.0" stroke-linejoin="round"/>
<polygon points="331.1,70.0 338.1,67.9 333.9,63.6 326.9,65.7" fill="#a73ca1" stroke="#a73ca1" stroke-width="1.0" stroke-linejoin="round"/>
<polygon points="382.8,80.0 389.6,78.3 385.2,72.9 378.4,74.6" fill="#a83ea1" stroke="#a83ea1" stroke-width="1.0" stroke-linejoin="round"/>
<polygon points="261.4,65.8 268.5,63.4 264.5,59.5 257.4,61.8" fill="#a63ca1" stroke="#a63ca1" stroke-width="1.0" stroke-linejoin="round"/>
<polygon points="301.8,68.3 308.8,66.0 304.7,62.0 297.7,64.2" fill="#a63ca1" stroke="#a63ca1" stroke-width="1.0" stroke-linejoin="round"/>
<polygon points="342.3,72.5 349.2,70.4 345.0,65.9 338.1,67.9" fill="#a73ca1" stroke="#a73ca1" stroke-width="1.0" stroke-linejoin="round"/>
<polygon points="394.1,84.1 400.9,82.5 396.4,76.7 389.6,78.3" fill="#a840a0" stroke="#a840a0" stroke-width="1.0" stroke-linejoin="round"/>
<polygon points="405.3,88.8 412.1,87.2 407.6,80.9 400.9,82.5" fill="#a841a0" stroke="#a841a0" stroke-width="1.0" stroke-linejoin="round"/>
<polygon points="272.5,67.3 279.6,64.9 275.6,61.0 268.5,63.4" fill="#a63ca1" stroke="#a63ca1" stroke-width="1.0" stroke-linejoin="round"/>
<polygon points="353.5,75.2 360.4,73.2 356.1,68.4 349.2,70.4" fill="#a73da1" stroke="#a73da1" stroke-width="1.0" stroke-linejoin="round"/>
<polygon points="313.0,70.2 320.0,67.9 315.8,63.8 308.8,66.0" fill="#a63ca1" stroke="#a63ca1" stroke-width="1.0" stroke-linejoin="round"/>
<polygon points="364.7,78.4 371.6,76.4 367.3,71.3 360.4,73.2" fill="#a73ea1" stroke="#a73ea1" stroke-width="1.0" stroke-linejoin="round"/>
<polygon points="283.6,69.0 290.7,66.6 286.6,62.6 279.6,64.9" fill="#a63ca1" stroke="#a63ca1" stroke-width="1.0" stroke-linejoin="round"/>
<polygon points="324.1,72.3 331.1,70.0 326.9,65.7 320.0,67.9" fill="#a73ca1" stroke="#a73ca1" stroke-width="1.0" stroke-linejoin="round"/>
<polygon points="376.0,81.9 382.8,80.0 378.4,74.6 371.6,76.4" fill="#a83fa1" stroke="#a83fa1" stroke-width="1.0" stroke-linejoin="round"/>
<polygon points="254.2,68.2 261.4,65.8 257.4,61.8 250.3,64.2" fill="#a63ca1" stroke="#a63ca1" stroke-width="1.0" stroke-linejoin="round"/>
<polygon points="294.7,70.7 301.8,68.3 297.7,64.2 290.7,66.6" fill="#a63ca1" stroke="#a63ca1" stroke-width="1.0" stroke-linejoin="round"/>
<polygon points="335.4,74.7 342.3,72.5 338.1,67.9 331.1,70.0" fill="#a73ca1" stroke="#a73ca1" stroke-width="1.0" stroke-linejoin="round"/>
<polygon points="387.2,85.9 394.1,84.1 389.6,78.3 382.8,80.0" fill="#a840a0" stroke="#a840a0" stroke-width="1.0" stroke-linejoin="round"/>
<polygon points="265.3,69.8 272.5,67.3 268.5,63.4 261.4,65.8" fill="#a63ca1" stroke="#a63ca1" stroke-width="1.0" stroke-linejoin="round"/>
<polygon points="398.5,90.5 405.3,88.8 400.9,82.5 394.1,84.1" fill="#a941a0" stroke="#a941a0" stroke-width="1.0" stroke-linejoin="round"/>
<polygon points="346.6,77.4 353.5,75.2 349.2,70.4 342.3,72.5" fill="#a73da1" stroke="#a73da1" stroke-width="1.0" stroke-linejoin="round"/>
<polygon points="305.9,72.5 313.0,70.2 308.8,66.0 301.8,68.3" fill="#a73ca1" stroke="#a73ca1" stroke-width="1.0" stroke-linejoin="round"/>
<polygon points="409.8,95.5 416.6,93.9 412.1,87.2 405.3,88.8" fill="#a943a0" stroke="#a943a0" stroke-width="1.0" stroke-linejoin="round"/>
<polygon points="357.8,80.4 364.7,78.4 360.4,73.2 353.5,75.2" fill="#a83ea1" stroke="#a83ea1" stroke-width="1.0" stroke-linejoin="round"/>
<polygon points="276.5,71.4 283.6,69.0 279.6,64.9 272.5,67.3" fill="#a63ca1" stroke="#a63ca1" stroke-width="1.0" stroke-linejoin="round"/>
<polygon points="317.1,74.6 324.1,72.3 320.0,67.9 313.0,70.2" fill="#a73ca1" stroke="#a73ca1" stroke-width="1.0" stroke-linejoin="round"/>
<polygon points="247.0,70.7 254.2,68.2 250.3,64.2 243.1,66.6" fill="#a63ca1" stroke="#a63ca1" stroke-width="1.0" stroke-linejoin="round"/>
<polygon points="369.1,83.9 376.0,81.9 371.6,76.4 364.7,78.4" fill="#a83fa0" stroke="#a83fa0" stroke-width="1.0" stroke-linejoin="round"/>
<polygon points="287.7,73.1 294.7,70.7 290.7,66.6 283.6,69.0" fill="#a73ca1" stroke="#a73ca1" stroke-width="1.0" stroke-linejoin="round"/>
<polygon points="328.4,77.0 335.4,74.7 331.1,70.0 324.1,72.3" fill="#a73da1" stroke="#a73da1" stroke-width="1.0" stroke-linejoin="round"/>
<polygon points="380.4,87.8 387.2,85.9 382.8,80.0 376.0,81.9" fill="#a840a0" stroke="#a840a0" stroke-width="1.0" stroke-linejoin="round"/>
<polygon points="258.2,72.3 265.3,69.8 261.4,65.8 254.2,68.2" fill="#a63ca1" stroke="#a63ca1" stroke-width="1.0" stroke-linejoin="round"/>
<polygon points="391.7,92.3 398.5,90.5 394.1,84.1 387.2,85.9" fill="#a942a0" stroke="#a942a0" stroke-width="1.0" stroke-linejoin="round"/>
<polygon points="339.6,79.6 346.6,77.4 342.3,72.5 335.4,74.7" fill="#a73ea1" stroke="#a73ea1" stroke-width="1.0" stroke-linejoin="round"/>
<polygon points="298.9,75.0 305.9,72.5 301.8,68.3 294.7,70.7" fill="#a73ca1" stroke="#a73ca1" stroke-width="1.0" stroke-linejoin="round"/>
<polygon points="403.0,97.3 409.8,95.5 405.3,88.8 398.5,90.5" fill="#a943a0" stroke="#a943a0" stroke-width="1.0" stroke-linejoin="round"/>
<polygon points="269.3,73.9 276.5,71.4 272.5,67.3 265.3,69.8" fill="#a73ca1" stroke="#a73ca1" stroke-width="1.0" stroke-linejoin="round"/>
<polygon points="414.3,102.9 421.1,101.2 416.6,93.9 409.8,95.5" fill="#a945a0" stroke="#a945a0" stroke-width="1.0" stroke-linejoin="round"/>
<polygon points="350.9,82.6 357.8,80.4 353.5,75.2 346.6,77.4" fill="#a83ea1" stroke="#a83ea1" stroke-width="1.0" stroke-linejoin="round"/>
<polygon points="310.1,77.1 317.1,74.6 313.0,70.2 305.9,72.5" fill="#a73da1" stroke="#a73da1" stroke-width="1.0" stroke-linejoin="round"/>
<polygon points="239.8,73.1 247.0,70.7 243.1,66.6 235.9,69.0" fill="#a63ca1" stroke="#a63ca1" stroke-width="1.0" stroke-linejoin="round"/>
<polygon points="362.2,86.0 369.1,83.9 364.7,78.4 357.8,80.4" fill="#a83fa0" stroke="#a83fa0" stroke-width="1.0" stroke-linejoin="round"/>
<polygon points="280.5,75.7 287.7,73.1 283.6,69.0 276.5,71.4" fill="#a73ca1" stroke="#a73ca1" stroke-width="1.0" stroke-linejoin="round"/>
<polygon points="321.3,79.4 328.4,77.0 324.1,72.3 317.1,74.6" fill="#a73da1" stroke="#a73da1" stroke-width="1.0" stroke-linejoin="round"/>
<polygon points="373.5,89.9 380.4,87.8 376.0,81.9 369.1,83.9" fill="#a841a0" stroke="#a841a0" stroke-width="1.0" stroke-linejoin="round"/>
<polygon points="250.9,74.8 258.2,72.3 254.2,68.2 247.0,70.7" fill="#a73ca1" stroke="#a73ca1" stroke-width="1.0" stroke-linejoin="round"/>
<polygon points="291.8,77.5 298.9,75.0 294.7,70.7 287.7,73.1" fill="#a73ca1" stroke="#a73ca1" stroke-width="1.0" stroke-linejoin="round"/>
<polygon points="384.8,94.3 391.7,92.3 387.2,85.9 380.4,87.8" fill="#a942a0" stroke="#a942a0" stroke-width="1.0" stroke-linejoin="round"/>
<polygon points="332.6,82.0 339.6,79.6 335.4,74.7 328.4,77.0" fill="#a83ea1" stroke="#a83ea1" stroke-width="1.0" stroke-linejoin="round"/>
<polygon points="396.2,99.2 403.0,97.3 398.5,90.5 391.7,92.3" fill="#a944a0" stroke="#a944a0" stroke-width="1.0" stroke-linejoin="round"/>
<polygon points="262.1,76.5 269.3,73.9 265.3,69.8 258.2,72.3" fill="#a73ca1" stroke="#a73ca1" stroke-width="1.0" stroke-linejoin="round"/>
<polygon points="343.9,84.9 350.9,82.6 346.6,77.4 339.6,79.6" fill="#a83fa1" stroke="#a83fa1" stroke-width="1.0" stroke-linejoin="round"/>
<polygon points="407.5,104.7 414.3,102.9 409.8,95.5 403.0,97.3" fill="#aa459f" stroke="#aa459f" stroke-width="1.0" stroke-linejoin="round"/>
<polygon points="303.0,79.6 310.1,77.1 305.9,72.5 298.9,75.0" fill="#a73da1" stroke="#a73da1" stroke-width="1.0" stroke-linejoin="round"/>
<polygon points="418.9,110.9 425.7,109.1 421.1,101.2 414.3,102.9" fill="#aa479f" stroke="#aa479f" stroke-width="1.0" stroke-linejoin="round"/>
<polygon points="232.5,75.6 239.8,73.1 235.9,69.0 228.6,71.4" fill="#a73ca1" stroke="#a73ca1" stroke-width="1.0" stroke-linejoin="round"/>
<polygon points="355.2,88.3 362.2,86.0 357.8,80.4 350.9,82.6" fill="#a840a0" stroke="#a840a0" stroke-width="1.0" stroke-linejoin="round"/>
<polygon points="273.4,78.2 280.5,75.7 276.5,71.4 269.3,73.9" fill="#a73ca1" stroke="#a73ca1" stroke-width="1.0" stroke-linejoin="round"/>
<polygon points="314.3,81.9 321.3,79.4 317.1,74.6 310.1,77.1" fill="#a73ea1" stroke="#a73ea1" stroke-width="1.0" stroke-linejoin="round"/>
<polygon points="366.6,92.1 373.5,89.9 369.1,83.9 362.2,86.0" fill="#a841a0" stroke="#a841a0" stroke-width="1.0" stroke-linejoin="round"/>
<polygon points="243.7,77.3 250.9,74.8 247.0,70.7 239.8,73.1" fill="#a73ca1" stroke="#a73ca1" stroke-width="1.0" stroke-linejoin="round"/>
<polygon points="284.6,80.1 291.8,77.5 287.7,73.1 280.5,75.7" fill="#a73da1" stroke="#a73da1" stroke-width="1.0" stroke-linejoin="round"/>
<polygon points="325.6,84.5 332.6,82.0 328.4,77.0 321.3,79.4" fill="#a83ea1" stroke="#a83ea1" stroke-width="1.0" stroke-linejoin="round"/>
<polygon points="377.9,96.4 384.8,94.3 380.4,87.8 373.5,89.9" fill="#a942a0" stroke="#a942a0" stroke-width="1.0" stroke-linejoin="round"/>
<polygon points="389.3,101.2 396.2,99.2 391.7,92.3 384.8,94.3" fill="#a944a0" stroke="#a944a0" stroke-width="1.0" stroke-linejoin="round"/>
<polygon points="254.9,79.1 262.1,76.5 258.2,72.3 250.9,74.8" fill="#a73ca1" stroke="#a73ca1" stroke-width="1.0" stroke-linejoin="round"/>
<polygon points="336.9,87.4 343.9,84.9 339.6,79.6 332.6,82.0" fill="#a83fa0" stroke="#a83fa0" stroke-width="1.0" stroke-linejoin="round"/>
<polygon points="295.9,82.2 303.0,79.6 298.9,75.0 291.8,77.5" fill="#a73ea1" stroke="#a73ea1" stroke-width="1.0" stroke-linejoin="round"/>
<polygon points="400.7,106.6 407.5,104.7 403.0,97.3 396.2,99.2" fill="#aa469f" stroke="#aa469f" stroke-width="1.0" stroke-linejoin="round"/>
<polygon points="412.1,112.7 418.9,110.9 414.3,102.9 407.5,104.7" fill="#aa479f" stroke="#aa479f" stroke-width="1.0" stroke-linejoin="round"/>
<polygon points="225.2,78.1 232.5,75.6 228.6,71.4 221.3,73.9" fill="#a73ca1" stroke="#a73ca1" stroke-width="1.0" stroke-linejoin="round"/>
<polygon points="423.5,119.5 430.3,117.7 425.7,109.1 418.9,110.9" fill="#ab499f" stroke="#ab499f" stroke-width="1.0" stroke-linejoin="round"/>
<polygon points="348.2,90.7 355.2,88.3 350.9,82.6 343.9,84.9" fill="#a840a0" stroke="#a840a0" stroke-width="1.0" stroke-linejoin="round"/>
<polygon points="266.2,80.9 273.4,78.2 269.3,73.9 262.1,76.5" fill="#a73da1" stroke="#a73da1" stroke-width="1.0" stroke-linejoin="round"/>
<polygon points="307.2,84.5 314.3,81.9 310.1,77.1 303.0,79.6" fill="#a83ea1" stroke="#a83ea1" stroke-width="1.0" stroke-linejoin="round"/>
<polygon points="359.6,94.4 366.6,92.1 362.2,86.0 355.2,88.3" fill="#a941a0" stroke="#a941a0" stroke-width="1.0" stroke-linejoin="round"/>
<polygon points="236.4,79.9 243.7,77.3 239.8,73.1 232.5,75.6" fill="#a73ca1" stroke="#a73ca1" stroke-width="1.0" stroke-linejoin="round"/>
<polygon points="277.4,82.8 284.6,80.1 280.5,75.7 273.4,78.2" fill="#a73ea1" stroke="#a73ea1" stroke-width="1.0" stroke-linejoin="round"/>
<polygon points="318.5,87.1 325.6,84.5 321.3,79.4 314.3,81.9" fill="#a83fa1" stroke="#a83fa1" stroke-width="1.0" stroke-linejoin="round"/>
<polygon points="371.0,98.7 377.9,96.4 373.5,89.9 366.6,92.1" fill="#a943a0" stroke="#a943a0" stroke-width="1.0" stroke-linejoin="round"/>
<polygon points="382.4,103.4 389.3,101.2 384.8,94.3 377.9,96.4" fill="#a944a0" stroke="#a944a0" stroke-width="1.0" stroke-linejoin="round"/>
<polygon points="247.7,81.6 254.9,79.1 250.9,74.8 243.7,77.3" fill="#a73da1" stroke="#a73da1" stroke-width="1.0" stroke-linejoin="round"/>
<polygon points="329.8,90.0 336.9,87.4 332.6,82.0 325.6,84.5" fill="#a840a0" stroke="#a840a0" stroke-width="1.0" stroke-linejoin="round"/>
<polygon points="288.7,84.9 295.9,82.2 291.8,77.5 284.6,80.1" fill="#a83ea1" stroke="#a83ea1" stroke-width="1.0" stroke-linejoin="round"/>
<polygon points="393.8,108.8 400.7,106.6 396.2,99.2 389.3,101.2" fill="#aa469f" stroke="#aa469f" stroke-width="1.0" stroke-linejoin="round"/>
<polygon points="405.2,114.7 412.1,112.7 407.5,104.7 400.7,106.6" fill="#aa489f" stroke="#aa489f" stroke-width="1.0" stroke-linejoin="round"/>
<polygon points="217.8,80.5 225.2,78.1 221.3,73.9 214.0,76.3" fill="#a73ca1" stroke="#a73ca1" stroke-width="1.0" stroke-linejoin="round"/>
<polygon points="416.6,121.4 423.5,119.5 418.9,110.9 412.1,112.7" fill="#ab4a9f" stroke="#ab4a9f" stroke-width="1.0" stroke-linejoin="round"/>
<polygon points="341.2,93.2 348.2,90.7 343.9,84.9 336.9,87.4" fill="#a841a0" stroke="#a841a0" stroke-width="1.0" stroke-linejoin="round"/>
<polygon points="428.1,128.7 434.9,126.9 430.3,117.7 423.5,119.5" fill="#ab4c9e" stroke="#ab4c9e" stroke-width="1.0" stroke-linejoin="round"/>
<polygon points="258.9,83.5 266.2,80.9 262.1,76.5 254.9,79.1" fill="#a73da1" stroke="#a73da1" stroke-width="1.0" stroke-linejoin="round"/>
<polygon points="300.0,87.2 307.2,84.5 303.0,79.6 295.9,82.2" fill="#a83fa1" stroke="#a83fa1" stroke-width="1.0" stroke-linejoin="round"/>
<polygon points="352.6,96.9 359.6,94.4 355.2,88.3 348.2,90.7" fill="#a942a0" stroke="#a942a0" stroke-width="1.0" stroke-linejoin="round"/>
<polygon points="229.1,82.4 236.4,79.9 232.5,75.6 225.2,78.1" fill="#a73da1" stroke="#a73da1" stroke-width="1.0" stroke-linejoin="round"/>
<polygon points="270.2,85.4 277.4,82.8 273.4,78.2 266.2,80.9" fill="#a83ea1" stroke="#a83ea1" stroke-width="1.0" stroke-linejoin="round"/>
<polygon points="311.4,89.7 318.5,87.1 314.3,81.9 307.2,84.5" fill="#a840a0" stroke="#a840a0" stroke-width="1.0" stroke-linejoin="round"/>
<polygon points="364.0,101.1 371.0,98.7 366.6,92.1 359.6,94.4" fill="#a943a0" stroke="#a943a0" stroke-width="1.0" stroke-linejoin="round"/>
<polygon points="240.4,84.2 247.7,81.6 243.7,77.3 236.4,79.9" fill="#a73da1" stroke="#a73da1" stroke-width="1.0" stroke-linejoin="round"/>
<polygon points="375.4,105.8 382.4,103.4 377.9,96.4 371.0,98.7" fill="#a945a0" stroke="#a945a0" stroke-width="1.0" stroke-linejoin="round"/>
<polygon points="322.8,92.6 329.8,90.0 325.6,84.5 318.5,87.1" fill="#a840a0" stroke="#a840a0" stroke-width="1.0" stroke-linejoin="round"/>
<polygon points="281.5,87.6 288.7,84.9 284.6,80.1 277.4,82.8" fill="#a83fa1" stroke="#a83fa1" stroke-width="1.0" stroke-linejoin="round"/>
<polygon points="386.9,111.0 393.8,108.8 389.3,101.2 382.4,103.4" fill="#aa469f" stroke="#aa469f" stroke-width="1.0" stroke-linejoin="round"/>
<polygon points="210.4,82.9 217.8,80.5 214.0,76.3 206.6,78.6" fill="#a73da1" stroke="#a73da1" stroke-width="1.0" stroke-linejoin="round"/>
<polygon points="398.3,116.9 405.2,114.7 400.7,106.6 393.8,108.8" fill="#aa489f" stroke="#aa489f" stroke-width="1.0" stroke-linejoin="round"/>
<polygon points="334.2,95.9 341.2,93.2 336.9,87.4 329.8,90.0" fill="#a841a0" stroke="#a841a0" stroke-width="1.0" stroke-linejoin="round"/>
<polygon points="251.6,86.1 258.9,83.5 254.9,79.1 247.7,81.6" fill="#a83ea1" stroke="#a83ea1" stroke-width="1.0" stroke-linejoin="round"/>
<polygon points="409.8,123.5 416.6,121.4 412.1,112.7 405.2,114.7" fill="#ab4a9f" stroke="#ab4a9f" stroke-width="1.0" stroke-linejoin="round"/>
<polygon points="432.7,138.8 439.5,136.9 434.9,126.9 428.1,128.7" fill="#ac4f9e" stroke="#ac4f9e" stroke-width="1.0" stroke-linejoin="round"/>
<polygon points="421.2,130.7 428.1,128.7 423.5,119.5 416.6,121.4" fill="#ac4c9e" stroke="#ac4c9e" stroke-width="1.0" stroke-linejoin="round"/>
<polygon points="292.9,89.9 300.0,87.2 295.9,82.2 288.7,84.9" fill="#a83fa0" stroke="#a83fa0" stroke-width="1.0" stroke-linejoin="round"/>
<polygon points="345.6,99.6 352.6,96.9 348.2,90.7 341.2,93.2" fill="#a942a0" stroke="#a942a0" stroke-width="1.0" stroke-linejoin="round"/>
<polygon points="221.7,84.8 229.1,82.4 225.2,78.1 217.8,80.5" fill="#a73da1" stroke="#a73da1" stroke-width="1.0" stroke-linejoin="round"/>
<polygon points="263.0,88.1 270.2,85.4 266.2,80.9 258.9,83.5" fill="#a83fa1" stroke="#a83fa1" stroke-width="1.0" stroke-linejoin="round"/>
<polygon points="304.2,92.5 311.4,89.7 307.2,84.5 300.0,87.2" fill="#a840a0" stroke="#a840a0" stroke-width="1.0" stroke-linejoin="round"/>
<polygon points="357.0,103.7 364.0,101.1 359.6,94.4 352.6,96.9" fill="#a944a0" stroke="#a944a0" stroke-width="1.0" stroke-linejoin="round"/>
<polygon points="233.0,86.8 240.4,84.2 236.4,79.9 229.1,82.4" fill="#a83ea1" stroke="#a83ea1" stroke-width="1.0" stroke-linejoin="round"/>
<polygon points="368.5,108.3 375.4,105.8 371.0,98.7 364.0,101.1" fill="#aa459f" stroke="#aa459f" stroke-width="1.0" stroke-linejoin="round"/>
<polygon points="315.6,95.4 322.8,92.6 318.5,87.1 311.4,89.7" fill="#a841a0" stroke="#a841a0" stroke-width="1.0" stroke-linejoin="round"/>
<polygon points="274.3,90.3 281.5,87.6 277.4,82.8 270.2,85.4" fill="#a83fa0" stroke="#a83fa0" stroke-width="1.0" stroke-linejoin="round"/>
<polygon points="379.9,113.5 386.9,111.0 382.4,103.4 375.4,105.8" fill="#aa479f" stroke="#aa479f" stroke-width="1.0" stroke-linejoin="round"/>
<polygon points="203.0,85.3 210.4,82.9 206.6,78.6 199.2,81.0" fill="#a73da1" stroke="#a73da1" stroke-width="1.0" stroke-linejoin="round"/>
<polygon points="391.4,119.3 398.3,116.9 393.8,108.8 386.9,111.0" fill="#aa489f" stroke="#aa489f" stroke-width="1.0" stroke-linejoin="round"/>
<polygon points="327.1,98.7 334.2,95.9 329.8,90.0 322.8,92.6" fill="#a942a0" stroke="#a942a0" stroke-width="1.0" stroke-linejoin="round"/>
<polygon points="244.3,88.7 251.6,86.1 247.7,81.6 240.4,84.2" fill="#a83fa1" stroke="#a83fa1" stroke-width="1.0" stroke-linejoin="round"/>
<polygon points="437.4,149.5 444.2,147.6 439.5,136.9 432.7,138.8" fill="#ac539c" stroke="#ac539c" stroke-width="1.0" stroke-linejoin="round"/>
<polygon points="402.9,125.7 409.8,123.5 405.2,114.7 398.3,116.9" fill="#ab4a9f" stroke="#ab4a9f" stroke-width="1.0" stroke-linejoin="round"/>
<polygon points="285.7,92.7 292.9,89.9 288.7,84.9 281.5,87.6" fill="#a840a0" stroke="#a840a0" stroke-width="1.0" stroke-linejoin="round"/>
<polygon points="425.9,140.8 432.7,138.8 428.1,128.7 421.2,130.7" fill="#ac4f9d" stroke="#ac4f9d" stroke-width="1.0" stroke-linejoin="round"/>
<polygon points="414.4,132.9 421.2,130.7 416.6,121.4 409.8,123.5" fill="#ac4d9e" stroke="#ac4d9e" stroke-width="1.0" stroke-linejoin="round"/>
<polygon points="338.5,102.4 345.6,99.6 341.2,93.2 334.2,95.9" fill="#a943a0" stroke="#a943a0" stroke-width="1.0" stroke-linejoin="round"/>
<polygon points="214.3,87.3 221.7,84.8 217.8,80.5 210.4,82.9" fill="#a83ea1" stroke="#a83ea1" stroke-width="1.0" stroke-linejoin="round"/>
<polygon points="255.7,90.8 263.0,88.1 258.9,83.5 251.6,86.1" fill="#a83fa0" stroke="#a83fa0" stroke-width="1.0" stroke-linejoin="round"/>
<polygon points="297.1,95.3 304.2,92.5 300.0,87.2 292.9,89.9" fill="#a841a0" stroke="#a841a0" stroke-width="1.0" stroke-linejoin="round"/>
<polygon points="350.0,106.5 357.0,103.7 352.6,96.9 345.6,99.6" fill="#a944a0" stroke="#a944a0" stroke-width="1.0" stroke-linejoin="round"/>
<polygon points="225.6,89.3 233.0,86.8 229.1,82.4 221.7,84.8" fill="#a83fa1" stroke="#a83fa1" stroke-width="1.0" stroke-linejoin="round"/>
<polygon points="361.4,111.1 368.5,108.3 364.0,101.1 357.0,103.7" fill="#aa469f" stroke="#aa469f" stroke-width="1.0" stroke-linejoin="round"/>
<polygon points="308.5,98.3 315.6,95.4 311.4,89.7 304.2,92.5" fill="#a942a0" stroke="#a942a0" stroke-width="1.0" stroke-linejoin="round"/>
<polygon points="267.0,93.1 274.3,90.3 270.2,85.4 263.0,88.1" fill="#a840a0" stroke="#a840a0" stroke-width="1.0" stroke-linejoin="round"/>
<polygon points="372.9,116.2 379.9,113.5 375.4,105.8 368.5,108.3" fill="#aa479f" stroke="#aa479f" stroke-width="1.0" stroke-linejoin="round"/>
<polygon points="195.5,87.6 203.0,85.3 199.2,81.0 191.7,83.3" fill="#a83ea1" stroke="#a83ea1" stroke-width="1.0" stroke-linejoin="round"/>
<polygon points="319.9,101.6 327.1,98.7 322.8,92.6 315.6,95.4" fill="#a943a0" stroke="#a943a0" stroke-width="1.0" stroke-linejoin="round"/>
<polygon points="442.0,161.1 448.8,159.2 444.2,147.6 437.4,149.5" fill="#ac569a" stroke="#ac569a" stroke-width="1.0" stroke-linejoin="round"/>
<polygon points="384.4,121.9 391.4,119.3 386.9,111.0 379.9,113.5" fill="#ab499f" stroke="#ab499f" stroke-width="1.0" stroke-linejoin="round"/>
<polygon points="237.0,91.3 244.3,88.7 240.4,84.2 233.0,86.8" fill="#a83fa0" stroke="#a83fa0" stroke-width="1.0" stroke-linejoin="round"/>
<polygon points="278.4,95.5 285.7,92.7 281.5,87.6 274.3,90.3" fill="#a841a0" stroke="#a841a0" stroke-width="1.0" stroke-linejoin="round"/>
<polygon points="395.9,128.3 402.9,125.7 398.3,116.9 391.4,119.3" fill="#ab4b9f" stroke="#ab4b9f" stroke-width="1.0" stroke-linejoin="round"/>
<polygon points="430.5,151.7 437.4,149.5 432.7,138.8 425.9,140.8" fill="#ac539c" stroke="#ac539c" stroke-width="1.0" stroke-linejoin="round"/>
<polygon points="407.5,135.3 414.4,132.9 409.8,123.5 402.9,125.7" fill="#ac4d9e" stroke="#ac4d9e" stroke-width="1.0" stroke-linejoin="round"/>
<polygon points="419.0,143.1 425.9,140.8 421.2,130.7 414.4,132.9" fill="#ac509d" stroke="#ac509d" stroke-width="1.0" stroke-linejoin="round"/>
<polygon points="331.4,105.3 338.5,102.4 334.2,95.9 327.1,98.7" fill="#a944a0" stroke="#a944a0" stroke-width="1.0" stroke-linejoin="round"/>
<polygon points="206.9,89.7 214.3,87.3 210.4,82.9 203.0,85.3" fill="#a83ea1" stroke="#a83ea1" stroke-width="1.0" stroke-linejoin="round"/>
<polygon points="248.3,93.5 255.7,90.8 251.6,86.1 244.3,88.7" fill="#a840a0" stroke="#a840a0" stroke-width="1.0" stroke-linejoin="round"/>
<polygon points="289.9,98.2 297.1,95.3 292.9,89.9 285.7,92.7" fill="#a841a0" stroke="#a841a0" stroke-width="1.0" stroke-linejoin="round"/>
<polygon points="342.9,109.4 350.0,106.5 345.6,99.6 338.5,102.4" fill="#a945a0" stroke="#a945a0" stroke-width="1.0" stroke-linejoin="round"/>
<polygon points="218.2,91.7 225.6,89.3 221.7,84.8 214.3,87.3" fill="#a83fa0" stroke="#a83fa0" stroke-width="1.0" stroke-linejoin="round"/>
<polygon points="301.3,101.2 308.5,98.3 304.2,92.5 297.1,95.3" fill="#a942a0" stroke="#a942a0" stroke-width="1.0" stroke-linejoin="round"/>
<polygon points="354.4,114.0 361.4,111.1 357.0,103.7 350.0,106.5" fill="#aa469f" stroke="#aa469f" stroke-width="1.0" stroke-linejoin="round"/>
<polygon points="259.7,95.8 267.0,93.1 263.0,88.1 255.7,90.8" fill="#a840a0" stroke="#a840a0" stroke-width="1.0" stroke-linejoin="round"/>
<polygon points="365.9,119.1 372.9,116.2 368.5,108.3 361.4,111.1" fill="#aa489f" stroke="#aa489f" stroke-width="1.0" stroke-linejoin="round"/>
<polygon points="446.7,173.5 453.5,171.5 448.8,159.2 442.0,161.1" fill="#ac5a98" stroke="#ac5a98" stroke-width="1.0" stroke-linejoin="round"/>
<polygon points="312.8,104.6 319.9,101.6 315.6,95.4 308.5,98.3" fill="#a943a0" stroke="#a943a0" stroke-width="1.0" stroke-linejoin="round"/>
<polygon points="188.0,89.9 195.5,87.6 191.7,83.3 184.2,85.5" fill="#a83ea1" stroke="#a83ea1" stroke-width="1.0" stroke-linejoin="round"/>
<polygon points="377.4,124.7 384.4,121.9 379.9,113.5 372.9,116.2" fill="#ab499f" stroke="#ab499f" stroke-width="1.0" stroke-linejoin="round"/>
<polygon points="229.6,93.9 237.0,91.3 233.0,86.8 225.6,89.3" fill="#a840a0" stroke="#a840a0" stroke-width="1.0" stroke-linejoin="round"/>
<polygon points="435.2,163.3 442.0,161.1 437.4,149.5 430.5,151.7" fill="#ac579a" stroke="#ac579a" stroke-width="1.0" stroke-linejoin="round"/>
<polygon points="271.2,98.3 278.4,95.5 274.3,90.3 267.0,93.1" fill="#a841a0" stroke="#a841a0" stroke-width="1.0" stroke-linejoin="round"/>
<polygon points="389.0,131.0 395.9,128.3 391.4,119.3 384.4,121.9" fill="#ab4b9e" stroke="#ab4b9e" stroke-width="1.0" stroke-linejoin="round"/>
<polygon points="423.6,154.0 430.5,151.7 425.9,140.8 419.0,143.1" fill="#ac539c" stroke="#ac539c" stroke-width="1.0" stroke-linejoin="round"/>
<polygon points="400.5,137.9 407.5,135.3 402.9,125.7 395.9,128.3" fill="#ac4e9e" stroke="#ac4e9e" stroke-width="1.0" stroke-linejoin="round"/>
<polygon points="412.1,145.6 419.0,143.1 414.4,132.9 407.5,135.3" fill="#ac509d" stroke="#ac509d" stroke-width="1.0" stroke-linejoin="round"/>
<polygon points="324.2,108.3 331.4,105.3 327.1,98.7 319.9,101.6" fill="#a944a0" stroke="#a944a0" stroke-width="1.0" stroke-linejoin="round"/>
<polygon points="199.4,92.0 206.9,89.7 203.0,85.3 195.5,87.6" fill="#a83fa1" stroke="#a83fa1" stroke-width="1.0" stroke-linejoin="round"/>
<polygon points="282.6,101.1 289.9,98.2 285.7,92.7 278.4,95.5" fill="#a942a0" stroke="#a942a0" stroke-width="1.0" stroke-linejoin="round"/>
<polygon points="241.0,96.1 248.3,93.5 244.3,88.7 237.0,91.3" fill="#a840a0" stroke="#a840a0" stroke-width="1.0" stroke-linejoin="round"/>
<polygon points="335.8,112.4 342.9,109.4 338.5,102.4 331.4,105.3" fill="#aa459f" stroke="#aa459f" stroke-width="1.0" stroke-linejoin="round"/>
<polygon points="294.1,104.2 301.3,101.2 297.1,95.3 289.9,98.2" fill="#a943a0" stroke="#a943a0" stroke-width="1.0" stroke-linejoin="round"/>
<polygon points="347.3,117.0 354.4,114.0 350.0,106.5 342.9,109.4" fill="#aa479f" stroke="#aa479f" stroke-width="1.0" stroke-linejoin="round"/>
<polygon points="210.7,94.2 218.2,91.7 214.3,87.3 206.9,89.7" fill="#a840a0" stroke="#a840a0" stroke-width="1.0" stroke-linejoin="round"/>
<polygon points="252.4,98.5 259.7,95.8 255.7,90.8 248.3,93.5" fill="#a841a0" stroke="#a841a0" stroke-width="1.0" stroke-linejoin="round"/>
<polygon points="451.4,186.7 458.2,184.7 453.5,171.5 446.7,173.5" fill="#ac5f96" stroke="#ac5f96" stroke-width="1.0" stroke-linejoin="round"/>
<polygon points="358.8,122.1 365.9,119.1 361.4,111.1 354.4,114.0" fill="#aa489f" stroke="#aa489f" stroke-width="1.0" stroke-linejoin="round"/>
<polygon points="439.9,175.7 446.7,173.5 442.0,161.1 435.2,163.3" fill="#ac5b98" stroke="#ac5b98" stroke-width="1.0" stroke-linejoin="round"/>
<polygon points="305.6,107.6 312.8,104.6 308.5,98.3 301.3,101.2" fill="#a944a0" stroke="#a944a0" stroke-width="1.0" stroke-linejoin="round"/>
<polygon points="370.4,127.7 377.4,124.7 372.9,116.2 365.9,119.1" fill="#ab4a9f" stroke="#ab4a9f" stroke-width="1.0" stroke-linejoin="round"/>
<polygon points="180.5,92.1 188.0,89.9 184.2,85.5 176.7,87.7" fill="#a83fa1" stroke="#a83fa1" stroke-width="1.0" stroke-linejoin="round"/>
<polygon points="222.1,96.4 229.6,93.9 225.6,89.3 218.2,91.7" fill="#a840a0" stroke="#a840a0" stroke-width="1.0" stroke-linejoin="round"/>
<polygon points="263.8,101.1 271.2,98.3 267.0,93.1 259.7,95.8" fill="#a942a0" stroke="#a942a0" stroke-width="1.0" stroke-linejoin="round"/>
<polygon points="428.3,165.7 435.2,163.3 430.5,151.7 423.6,154.0" fill="#ac579a" stroke="#ac579a" stroke-width="1.0" stroke-linejoin="round"/>
<polygon points="382.0,134.0 389.0,131.0 384.4,121.9 377.4,124.7" fill="#ab4c9e" stroke="#ab4c9e" stroke-width="1.0" stroke-linejoin="round"/>
<polygon points="416.7,156.7 423.6,154.0 419.0,143.1 412.1,145.6" fill="#ac549b" stroke="#ac549b" stroke-width="1.0" stroke-linejoin="round"/>
<polygon points="393.5,140.8 400.5,137.9 395.9,128.3 389.0,131.0" fill="#ac4e9e" stroke="#ac4e9e" stroke-width="1.0" stroke-linejoin="round"/>
<polygon points="405.1,148.4 412.1,145.6 407.5,135.3 400.5,137.9" fill="#ac519d" stroke="#ac519d" stroke-width="1.0" stroke-linejoin="round"/>
<polygon points="317.1,111.4 324.2,108.3 319.9,101.6 312.8,104.6" fill="#a945a0" stroke="#a945a0" stroke-width="1.0" stroke-linejoin="round"/>
<polygon points="191.8,94.3 199.4,92.0 195.5,87.6 188.0,89.9" fill="#a83fa0" stroke="#a83fa0" stroke-width="1.0" stroke-linejoin="round"/>
<polygon points="275.3,104.0 282.6,101.1 278.4,95.5 271.2,98.3" fill="#a943a0" stroke="#a943a0" stroke-width="1.0" stroke-linejoin="round"/>
<polygon points="233.6,98.7 241.0,96.1 237.0,91.3 229.6,93.9" fill="#a841a0" stroke="#a841a0" stroke-width="1.0" stroke-linejoin="round"/>
<polygon points="328.6,115.6 335.8,112.4 331.4,105.3 324.2,108.3" fill="#aa469f" stroke="#aa469f" stroke-width="1.0" stroke-linejoin="round"/>
<polygon points="456.2,200.4 463.0,198.4 458.2,184.7 451.4,186.7" fill="#aa648e" stroke="#aa648e" stroke-width="1.0" stroke-linejoin="round"/>
<polygon points="340.2,120.2 347.3,117.0 342.9,109.4 335.8,112.4" fill="#aa479f" stroke="#aa479f" stroke-width="1.0" stroke-linejoin="round"/>
<polygon points="286.8,107.1 294.1,104.2 289.9,98.2 282.6,101.1" fill="#a943a0" stroke="#a943a0" stroke-width="1.0" stroke-linejoin="round"/>
<polygon points="203.2,96.5 210.7,94.2 206.9,89.7 199.4,92.0" fill="#a840a0" stroke="#a840a0" stroke-width="1.0" stroke-linejoin="round"/>
<polygon points="245.0,101.2 252.4,98.5 248.3,93.5 241.0,96.1" fill="#a942a0" stroke="#a942a0" stroke-width="1.0" stroke-linejoin="round"/>
<polygon points="444.6,188.9 451.4,186.7 446.7,173.5 439.9,175.7" fill="#ac5f96" stroke="#ac5f96" stroke-width="1.0" stroke-linejoin="round"/>
<polygon points="351.7,125.3 358.8,122.1 354.4,114.0 347.3,117.0" fill="#ab499f" stroke="#ab499f" stroke-width="1.0" stroke-linejoin="round"/>
<polygon points="298.3,110.6 305.6,107.6 301.3,101.2 294.1,104.2" fill="#a944a0" stroke="#a944a0" stroke-width="1.0" stroke-linejoin="round"/>
<polygon points="363.3,131.0 370.4,127.7 365.9,119.1 358.8,122.1" fill="#ab4b9f" stroke="#ab4b9f" stroke-width="1.0" stroke-linejoin="round"/>
<polygon points="433.0,178.1 439.9,175.7 435.2,163.3 428.3,165.7" fill="#ac5b98" stroke="#ac5b98" stroke-width="1.0" stroke-linejoin="round"/>
<polygon points="172.9,94.3 180.5,92.1 176.7,87.7 169.1,89.9" fill="#a83fa0" stroke="#a83fa0" stroke-width="1.0" stroke-linejoin="round"/>
<polygon points="256.5,103.9 263.8,101.1 259.7,95.8 252.4,98.5" fill="#a942a0" stroke="#a942a0" stroke-width="1.0" stroke-linejoin="round"/>
<polygon points="214.7,98.8 222.1,96.4 218.2,91.7 210.7,94.2" fill="#a841a0" stroke="#a841a0" stroke-width="1.0" stroke-linejoin="round"/>
<polygon points="374.9,137.2 382.0,134.0 377.4,124.7 370.4,127.7" fill="#ac4d9e" stroke="#ac4d9e" stroke-width="1.0" stroke-linejoin="round"/>
<polygon points="421.4,168.4 428.3,165.7 423.6,154.0 416.7,156.7" fill="#ac5899" stroke="#ac5899" stroke-width="1.0" stroke-linejoin="round"/>
<polygon points="386.5,144.0 393.5,140.8 389.0,131.0 382.0,134.0" fill="#ac4f9e" stroke="#ac4f9e" stroke-width="1.0" stroke-linejoin="round"/>
<polygon points="409.8,159.6 416.7,156.7 412.1,145.6 405.1,148.4" fill="#ac549b" stroke="#ac549b" stroke-width="1.0" stroke-linejoin="round"/>
<polygon points="398.1,151.5 405.1,148.4 400.5,137.9 393.5,140.8" fill="#ac519c" stroke="#ac519c" stroke-width="1.0" stroke-linejoin="round"/>
<polygon points="309.9,114.5 317.1,111.4 312.8,104.6 305.6,107.6" fill="#aa469f" stroke="#aa469f" stroke-width="1.0" stroke-linejoin="round"/>
<polygon points="460.9,214.5 467.7,212.4 463.0,198.4 456.2,200.4" fill="#a76985" stroke="#a76985" stroke-width="1.0" stroke-linejoin="round"/>
<polygon points="268.0,106.8 275.3,104.0 271.2,98.3 263.8,101.1" fill="#a943a0" stroke="#a943a0" stroke-width="1.0" stroke-linejoin="round"/>
<polygon points="184.3,96.5 191.8,94.3 188.0,89.9 180.5,92.1" fill="#a840a0" stroke="#a840a0" stroke-width="1.0" stroke-linejoin="round"/>
<polygon points="226.1,101.2 233.6,98.7 229.6,93.9 222.1,96.4" fill="#a841a0" stroke="#a841a0" stroke-width="1.0" stroke-linejoin="round"/>
<polygon points="321.4,118.8 328.6,115.6 324.2,108.3 317.1,111.4" fill="#aa479f" stroke="#aa479f" stroke-width="1.0" stroke-linejoin="round"/>
<polygon points="449.3,202.6 456.2,200.4 451.4,186.7 444.6,188.9" fill="#a9648d" stroke="#a9648d" stroke-width="1.0" stroke-linejoin="round"/>
<polygon points="333.0,123.5 340.2,120.2 335.8,112.4 328.6,115.6" fill="#aa489f" stroke="#aa489f" stroke-width="1.0" stroke-linejoin="round"/>
<polygon points="279.5,110.1 286.8,107.1 282.6,101.1 275.3,104.0" fill="#a944a0" stroke="#a944a0" stroke-width="1.0" stroke-linejoin="round"/>
<polygon points="237.6,103.8 245.0,101.2 241.0,96.1 233.6,98.7" fill="#a942a0" stroke="#a942a0" stroke-width="1.0" stroke-linejoin="round"/>
<polygon points="195.7,98.8 203.2,96.5 199.4,92.0 191.8,94.3" fill="#a840a0" stroke="#a840a0" stroke-width="1.0" stroke-linejoin="round"/>
<polygon points="344.6,128.7 351.7,125.3 347.3,117.0 340.2,120.2" fill="#ab4a9f" stroke="#ab4a9f" stroke-width="1.0" stroke-linejoin="round"/>
<polygon points="437.7,191.3 444.6,188.9 439.9,175.7 433.0,178.1" fill="#ac6095" stroke="#ac6095" stroke-width="1.0" stroke-linejoin="round"/>
<polygon points="291.0,113.7 298.3,110.6 294.1,104.2 286.8,107.1" fill="#aa459f" stroke="#aa459f" stroke-width="1.0" stroke-linejoin="round"/>
<polygon points="356.2,134.4 363.3,131.0 358.8,122.1 351.7,125.3" fill="#ab4b9e" stroke="#ab4b9e" stroke-width="1.0" stroke-linejoin="round"/>
<polygon points="426.1,180.9 433.0,178.1 428.3,165.7 421.4,168.4" fill="#ac5c98" stroke="#ac5c98" stroke-width="1.0" stroke-linejoin="round"/>
<polygon points="249.1,106.6 256.5,103.9 252.4,98.5 245.0,101.2" fill="#a943a0" stroke="#a943a0" stroke-width="1.0" stroke-linejoin="round"/>
<polygon points="367.8,140.6 374.9,137.2 370.4,127.7 363.3,131.0" fill="#ac4d9e" stroke="#ac4d9e" stroke-width="1.0" stroke-linejoin="round"/>
<polygon points="207.1,101.2 214.7,98.8 210.7,94.2 203.2,96.5" fill="#a841a0" stroke="#a841a0" stroke-width="1.0" stroke-linejoin="round"/>
<polygon points="165.2,96.3 172.9,94.3 169.1,89.9 161.5,92.0" fill="#a83fa0" stroke="#a83fa0" stroke-width="1.0" stroke-linejoin="round"/>
<polygon points="414.4,171.4 421.4,168.4 416.7,156.7 409.8,159.6" fill="#ac5899" stroke="#ac5899" stroke-width="1.0" stroke-linejoin="round"/>
<polygon points="465.7,228.6 472.5,226.4 467.7,212.4 460.9,214.5" fill="#a46e7c" stroke="#a46e7c" stroke-width="1.0" stroke-linejoin="round"/>
<polygon points="379.5,147.4 386.5,144.0 382.0,134.0 374.9,137.2" fill="#ac509d" stroke="#ac509d" stroke-width="1.0" stroke-linejoin="round"/>
<polygon points="402.8,162.9 409.8,159.6 405.1,148.4 398.1,151.5" fill="#ac559b" stroke="#ac559b" stroke-width="1.0" stroke-linejoin="round"/>
<polygon points="391.1,154.9 398.1,151.5 393.5,140.8 386.5,144.0" fill="#ac529c" stroke="#ac529c" stroke-width="1.0" stroke-linejoin="round"/>
<polygon points="302.6,117.7 309.9,114.5 305.6,107.6 298.3,110.6" fill="#aa469f" stroke="#aa469f" stroke-width="1.0" stroke-linejoin="round"/>
<polygon points="260.6,109.6 268.0,106.8 263.8,101.1 256.5,103.9" fill="#a944a0" stroke="#a944a0" stroke-width="1.0" stroke-linejoin="round"/>
<polygon points="454.1,216.8 460.9,214.5 456.2,200.4 449.3,202.6" fill="#a76984" stroke="#a76984" stroke-width="1.0" stroke-linejoin="round"/>
<polygon points="314.2,122.1 321.4,118.8 317.1,111.4 309.9,114.5" fill="#aa479f" stroke="#aa479f" stroke-width="1.0" stroke-linejoin="round"/>
<polygon points="218.6,103.6 226.1,101.2 222.1,96.4 214.7,98.8" fill="#a942a0" stroke="#a942a0" stroke-width="1.0" stroke-linejoin="round"/>
<polygon points="176.6,98.7 184.3,96.5 180.5,92.1 172.9,94.3" fill="#a840a0" stroke="#a840a0" stroke-width="1.0" stroke-linejoin="round"/>
<polygon points="325.8,126.9 333.0,123.5 328.6,115.6 321.4,118.8" fill="#ab499f" stroke="#ab499f" stroke-width="1.0" stroke-linejoin="round"/>
<polygon points="272.1,113.0 279.5,110.1 275.3,104.0 268.0,106.8" fill="#a945a0" stroke="#a945a0" stroke-width="1.0" stroke-linejoin="round"/>
<polygon points="442.4,205.1 449.3,202.6 444.6,188.9 437.7,191.3" fill="#a9658c" stroke="#a9658c" stroke-width="1.0" stroke-linejoin="round"/>
<polygon points="230.1,106.3 237.6,103.8 233.6,98.7 226.1,101.2" fill="#a943a0" stroke="#a943a0" stroke-width="1.0" stroke-linejoin="round"/>
<polygon points="188.1,101.0 195.7,98.8 191.8,94.3 184.3,96.5" fill="#a841a0" stroke="#a841a0" stroke-width="1.0" stroke-linejoin="round"/>
<polygon points="337.4,132.2 344.6,128.7 340.2,120.2 333.0,123.5" fill="#ab4a9f" stroke="#ab4a9f" stroke-width="1.0" stroke-linejoin="round"/>
<polygon points="430.8,194.2 437.7,191.3 433.0,178.1 426.1,180.9" fill="#ab6094" stroke="#ab6094" stroke-width="1.0" stroke-linejoin="round"/>
<polygon points="283.7,116.7 291.0,113.7 286.8,107.1 279.5,110.1" fill="#aa469f" stroke="#aa469f" stroke-width="1.0" stroke-linejoin="round"/>
<polygon points="349.1,138.0 356.2,134.4 351.7,125.3 344.6,128.7" fill="#ab4c9e" stroke="#ab4c9e" stroke-width="1.0" stroke-linejoin="round"/>
<polygon points="470.5,242.4 477.3,240.2 472.5,226.4 465.7,228.6" fill="#a37374" stroke="#a37374" stroke-width="1.0" stroke-linejoin="round"/>
<polygon points="419.1,184.0 426.1,180.9 421.4,168.4 414.4,171.4" fill="#ac5c97" stroke="#ac5c97" stroke-width="1.0" stroke-linejoin="round"/>
<polygon points="360.7,144.3 367.8,140.6 363.3,131.0 356.2,134.4" fill="#ac4e9e" stroke="#ac4e9e" stroke-width="1.0" stroke-linejoin="round"/>
<polygon points="241.6,109.2 249.1,106.6 245.0,101.2 237.6,103.8" fill="#a943a0" stroke="#a943a0" stroke-width="1.0" stroke-linejoin="round"/>
<polygon points="407.4,174.8 414.4,171.4 409.8,159.6 402.8,162.9" fill="#ac5999" stroke="#ac5999" stroke-width="1.0" stroke-linejoin="round"/>
<polygon points="372.4,151.1 379.5,147.4 374.9,137.2 367.8,140.6" fill="#ac509d" stroke="#ac509d" stroke-width="1.0" stroke-linejoin="round"/>
<polygon points="199.6,103.4 207.1,101.2 203.2,96.5 195.7,98.8" fill="#a942a0" stroke="#a942a0" stroke-width="1.0" stroke-linejoin="round"/>
<polygon points="395.8,166.5 402.8,162.9 398.1,151.5 391.1,154.9" fill="#ac569a" stroke="#ac569a" stroke-width="1.0" stroke-linejoin="round"/>
<polygon points="157.5,98.3 165.2,96.3 161.5,92.0 153.8,94.0" fill="#a840a0" stroke="#a840a0" stroke-width="1.0" stroke-linejoin="round"/>
<polygon points="384.1,158.6 391.1,154.9 386.5,144.0 379.5,147.4" fill="#ac539c" stroke="#ac539c" stroke-width="1.0" stroke-linejoin="round"/>
<polygon points="295.3,120.8 302.6,117.7 298.3,110.6 291.0,113.7" fill="#aa479f" stroke="#aa479f" stroke-width="1.0" stroke-linejoin="round"/>
<polygon points="458.8,231.0 465.7,228.6 460.9,214.5 454.1,216.8" fill="#a46e7b" stroke="#a46e7b" stroke-width="1.0" stroke-linejoin="round"/>
<polygon points="253.2,112.4 260.6,109.6 256.5,103.9 249.1,106.6" fill="#a944a0" stroke="#a944a0" stroke-width="1.0" stroke-linejoin="round"/>
<polygon points="306.9,125.4 314.2,122.1 309.9,114.5 302.6,117.7" fill="#aa489f" stroke="#aa489f" stroke-width="1.0" stroke-linejoin="round"/>
<polygon points="211.1,106.0 218.6,103.6 214.7,98.8 207.1,101.2" fill="#a942a0" stroke="#a942a0" stroke-width="1.0" stroke-linejoin="round"/>
<polygon points="447.2,219.4 454.1,216.8 449.3,202.6 442.4,205.1" fill="#a76a84" stroke="#a76a84" stroke-width="1.0" stroke-linejoin="round"/>
<polygon points="169.0,100.7 176.6,98.7 172.9,94.3 165.2,96.3" fill="#a841a0" stroke="#a841a0" stroke-width="1.0" stroke-linejoin="round"/>
<polygon points="318.6,130.3 325.8,126.9 321.4,118.8 314.2,122.1" fill="#ab4a9f" stroke="#ab4a9f" stroke-width="1.0" stroke-linejoin="round"/>
<polygon points="264.8,115.8 272.1,113.0 268.0,106.8 260.6,109.6" fill="#aa459f" stroke="#aa459f" stroke-width="1.0" stroke-linejoin="round"/>
<polygon points="435.5,208.0 442.4,205.1 437.7,191.3 430.8,194.2" fill="#a9658b" stroke="#a9658b" stroke-width="1.0" stroke-linejoin="round"/>
<polygon points="330.2,135.8 337.4,132.2 333.0,123.5 325.8,126.9" fill="#ab4b9e" stroke="#ab4b9e" stroke-width="1.0" stroke-linejoin="round"/>
<polygon points="475.3,255.7 482.1,253.4 477.3,240.2 470.5,242.4" fill="#a2786e" stroke="#a2786e" stroke-width="1.0" stroke-linejoin="round"/>
<polygon points="222.6,108.7 230.1,106.3 226.1,101.2 218.6,103.6" fill="#a943a0" stroke="#a943a0" stroke-width="1.0" stroke-linejoin="round"/>
<polygon points="180.5,103.1 188.1,101.0 184.3,96.5 176.6,98.7" fill="#a841a0" stroke="#a841a0" stroke-width="1.0" stroke-linejoin="round"/>
<polygon points="423.8,197.4 430.8,194.2 426.1,180.9 419.1,184.0" fill="#ab6193" stroke="#ab6193" stroke-width="1.0" stroke-linejoin="round"/>
<polygon points="341.9,141.7 349.1,138.0 344.6,128.7 337.4,132.2" fill="#ac4d9e" stroke="#ac4d9e" stroke-width="1.0" stroke-linejoin="round"/>
<polygon points="276.4,119.7 283.7,116.7 279.5,110.1 272.1,113.0" fill="#aa469f" stroke="#aa469f" stroke-width="1.0" stroke-linejoin="round"/>
<polygon points="463.6,244.9 470.5,242.4 465.7,228.6 458.8,231.0" fill="#a37474" stroke="#a37474" stroke-width="1.0" stroke-linejoin="round"/>
<polygon points="353.6,148.1 360.7,144.3 356.2,134.4 349.1,138.0" fill="#ac4f9e" stroke="#ac4f9e" stroke-width="1.0" stroke-linejoin="round"/>
<polygon points="412.1,187.5 419.1,184.0 414.4,171.4 407.4,174.8" fill="#ac5d97" stroke="#ac5d97" stroke-width="1.0" stroke-linejoin="round"/>
<polygon points="365.3,155.1 372.4,151.1 367.8,140.6 360.7,144.3" fill="#ac519c" stroke="#ac519c" stroke-width="1.0" stroke-linejoin="round"/>
<polygon points="400.4,178.6 407.4,174.8 402.8,162.9 395.8,166.5" fill="#ac5a98" stroke="#ac5a98" stroke-width="1.0" stroke-linejoin="round"/>
<polygon points="234.1,111.7 241.6,109.2 237.6,103.8 230.1,106.3" fill="#a944a0" stroke="#a944a0" stroke-width="1.0" stroke-linejoin="round"/>
<polygon points="377.0,162.6 384.1,158.6 379.5,147.4 372.4,151.1" fill="#ac549b" stroke="#ac549b" stroke-width="1.0" stroke-linejoin="round"/>
<polygon points="388.7,170.5 395.8,166.5 391.1,154.9 384.1,158.6" fill="#ac579a" stroke="#ac579a" stroke-width="1.0" stroke-linejoin="round"/>
<polygon points="192.0,105.6 199.6,103.4 195.7,98.8 188.1,101.0" fill="#a942a0" stroke="#a942a0" stroke-width="1.0" stroke-linejoin="round"/>
<polygon points="288.0,124.0 295.3,120.8 291.0,113.7 283.7,116.7" fill="#aa489f" stroke="#aa489f" stroke-width="1.0" stroke-linejoin="round"/>
<polygon points="149.8,100.3 157.5,98.3 153.8,94.0 146.1,95.9" fill="#a840a0" stroke="#a840a0" stroke-width="1.0" stroke-linejoin="round"/>
<polygon points="451.9,233.8 458.8,231.0 454.1,216.8 447.2,219.4" fill="#a46f7b" stroke="#a46f7b" stroke-width="1.0" stroke-linejoin="round"/>
<polygon points="299.6,128.6 306.9,125.4 302.6,117.7 295.3,120.8" fill="#ab499f" stroke="#ab499f" stroke-width="1.0" stroke-linejoin="round"/>
<polygon points="245.7,115.0 253.2,112.4 249.1,106.6 241.6,109.2" fill="#a945a0" stroke="#a945a0" stroke-width="1.0" stroke-linejoin="round"/>
<polygon points="440.2,222.5 447.2,219.4 442.4,205.1 435.5,208.0" fill="#a66a83" stroke="#a66a83" stroke-width="1.0" stroke-linejoin="round"/>
<polygon points="203.5,108.3 211.1,106.0 207.1,101.2 199.6,103.4" fill="#a943a0" stroke="#a943a0" stroke-width="1.0" stroke-linejoin="round"/>
<polygon points="161.3,102.7 169.0,100.7 165.2,96.3 157.5,98.3" fill="#a841a0" stroke="#a841a0" stroke-width="1.0" stroke-linejoin="round"/>
<polygon points="311.3,133.8 318.6,130.3 314.2,122.1 306.9,125.4" fill="#ab4a9f" stroke="#ab4a9f" stroke-width="1.0" stroke-linejoin="round"/>
<polygon points="480.1,268.1 486.9,265.9 482.1,253.4 475.3,255.7" fill="#a17d68" stroke="#a17d68" stroke-width="1.0" stroke-linejoin="round"/>
<polygon points="257.3,118.6 264.8,115.8 260.6,109.6 253.2,112.4" fill="#aa469f" stroke="#aa469f" stroke-width="1.0" stroke-linejoin="round"/>
<polygon points="428.5,211.3 435.5,208.0 430.8,194.2 423.8,197.4" fill="#a9668a" stroke="#a9668a" stroke-width="1.0" stroke-linejoin="round"/>
<polygon points="323.0,139.4 330.2,135.8 325.8,126.9 318.6,130.3" fill="#ab4c9e" stroke="#ab4c9e" stroke-width="1.0" stroke-linejoin="round"/>
<polygon points="215.0,111.1 222.6,108.7 218.6,103.6 211.1,106.0" fill="#a943a0" stroke="#a943a0" stroke-width="1.0" stroke-linejoin="round"/>
<polygon points="468.4,258.2 475.3,255.7 470.5,242.4 463.6,244.9" fill="#a2796d" stroke="#a2796d" stroke-width="1.0" stroke-linejoin="round"/>
<polygon points="334.7,145.5 341.9,141.7 337.4,132.2 330.2,135.8" fill="#ac4e9e" stroke="#ac4e9e" stroke-width="1.0" stroke-linejoin="round"/>
<polygon points="416.8,201.0 423.8,197.4 419.1,184.0 412.1,187.5" fill="#ab6291" stroke="#ab6291" stroke-width="1.0" stroke-linejoin="round"/>
<polygon points="172.8,105.2 180.5,103.1 176.6,98.7 169.0,100.7" fill="#a942a0" stroke="#a942a0" stroke-width="1.0" stroke-linejoin="round"/>
<polygon points="269.0,122.6 276.4,119.7 272.1,113.0 264.8,115.8" fill="#aa479f" stroke="#aa479f" stroke-width="1.0" stroke-linejoin="round"/>
<polygon points="346.4,152.1 353.6,148.1 349.1,138.0 341.9,141.7" fill="#ac509d" stroke="#ac509d" stroke-width="1.0" stroke-linejoin="round"/>
<polygon points="405.1,191.4 412.1,187.5 407.4,174.8 400.4,178.6" fill="#ac5e96" stroke="#ac5e96" stroke-width="1.0" stroke-linejoin="round"/>
<polygon points="358.1,159.2 365.3,155.1 360.7,144.3 353.6,148.1" fill="#ac529c" stroke="#ac529c" stroke-width="1.0" stroke-linejoin="round"/>
<polygon points="393.3,182.8 400.4,178.6 395.8,166.5 388.7,170.5" fill="#ac5b98" stroke="#ac5b98" stroke-width="1.0" stroke-linejoin="round"/>
<polygon points="456.7,247.7 463.6,244.9 458.8,231.0 451.9,233.8" fill="#a27473" stroke="#a27473" stroke-width="1.0" stroke-linejoin="round"/>
<polygon points="369.9,166.8 377.0,162.6 372.4,151.1 365.3,155.1" fill="#ac559b" stroke="#ac559b" stroke-width="1.0" stroke-linejoin="round"/>
<polygon points="381.6,174.8 388.7,170.5 384.1,158.6 377.0,162.6" fill="#ac5899" stroke="#ac5899" stroke-width="1.0" stroke-linejoin="round"/>
<polygon points="226.6,114.2 234.1,111.7 230.1,106.3 222.6,108.7" fill="#a944a0" stroke="#a944a0" stroke-width="1.0" stroke-linejoin="round"/>
<polygon points="280.6,127.0 288.0,124.0 283.7,116.7 276.4,119.7" fill="#aa489f" stroke="#aa489f" stroke-width="1.0" stroke-linejoin="round"/>
<polygon points="184.3,107.8 192.0,105.6 188.1,101.0 180.5,103.1" fill="#a942a0" stroke="#a942a0" stroke-width="1.0" stroke-linejoin="round"/>
<polygon points="445.0,236.9 451.9,233.8 447.2,219.4 440.2,222.5" fill="#a4707a" stroke="#a4707a" stroke-width="1.0" stroke-linejoin="round"/>
<polygon points="142.0,102.2 149.8,100.3 146.1,95.9 138.3,97.8" fill="#a840a0" stroke="#a840a0" stroke-width="1.0" stroke-linejoin="round"/>
<polygon points="292.3,131.8 299.6,128.6 295.3,120.8 288.0,124.0" fill="#ab4a9f" stroke="#ab4a9f" stroke-width="1.0" stroke-linejoin="round"/>
<polygon points="238.2,117.6 245.7,115.0 241.6,109.2 234.1,111.7" fill="#aa459f" stroke="#aa459f" stroke-width="1.0" stroke-linejoin="round"/>
<polygon points="433.3,225.9 440.2,222.5 435.5,208.0 428.5,211.3" fill="#a66b81" stroke="#a66b81" stroke-width="1.0" stroke-linejoin="round"/>
<polygon points="195.9,110.5 203.5,108.3 199.6,103.4 192.0,105.6" fill="#a943a0" stroke="#a943a0" stroke-width="1.0" stroke-linejoin="round"/>
<polygon points="304.0,137.2 311.3,133.8 306.9,125.4 299.6,128.6" fill="#ab4b9e" stroke="#ab4b9e" stroke-width="1.0" stroke-linejoin="round"/>
<polygon points="485.0,279.5 491.8,277.4 486.9,265.9 480.1,268.1" fill="#a08262" stroke="#a08262" stroke-width="1.0" stroke-linejoin="round"/>
<polygon points="153.5,104.7 161.3,102.7 157.5,98.3 149.8,100.3" fill="#a841a0" stroke="#a841a0" stroke-width="1.0" stroke-linejoin="round"/>
<polygon points="421.5,215.1 428.5,211.3 423.8,197.4 416.8,201.0" fill="#a86789" stroke="#a86789" stroke-width="1.0" stroke-linejoin="round"/>
<polygon points="249.9,121.3 257.3,118.6 253.2,112.4 245.7,115.0" fill="#aa469f" stroke="#aa469f" stroke-width="1.0" stroke-linejoin="round"/>
<polygon points="315.7,142.9 323.0,139.4 318.6,130.3 311.3,133.8" fill="#ac4d9e" stroke="#ac4d9e" stroke-width="1.0" stroke-linejoin="round"/>
<polygon points="473.3,270.5 480.1,268.1 475.3,255.7 468.4,258.2" fill="#a17e67" stroke="#a17e67" stroke-width="1.0" stroke-linejoin="round"/>
<polygon points="327.4,149.3 334.7,145.5 330.2,135.8 323.0,139.4" fill="#ac4f9e" stroke="#ac4f9e" stroke-width="1.0" stroke-linejoin="round"/>
<polygon points="409.8,205.1 416.8,201.0 412.1,187.5 405.1,191.4" fill="#aa638f" stroke="#aa638f" stroke-width="1.0" stroke-linejoin="round"/>
<polygon points="207.4,113.4 215.0,111.1 211.1,106.0 203.5,108.3" fill="#a944a0" stroke="#a944a0" stroke-width="1.0" stroke-linejoin="round"/>
<polygon points="461.5,261.0 468.4,258.2 463.6,244.9 456.7,247.7" fill="#a2796d" stroke="#a2796d" stroke-width="1.0" stroke-linejoin="round"/>
<polygon points="339.2,156.1 346.4,152.1 341.9,141.7 334.7,145.5" fill="#ac519d" stroke="#ac519d" stroke-width="1.0" stroke-linejoin="round"/>
<polygon points="398.0,195.8 405.1,191.4 400.4,178.6 393.3,182.8" fill="#ac5f96" stroke="#ac5f96" stroke-width="1.0" stroke-linejoin="round"/>
<polygon points="165.0,107.2 172.8,105.2 169.0,100.7 161.3,102.7" fill="#a942a0" stroke="#a942a0" stroke-width="1.0" stroke-linejoin="round"/>
<polygon points="261.5,125.4 269.0,122.6 264.8,115.8 257.3,118.6" fill="#aa489f" stroke="#aa489f" stroke-width="1.0" stroke-linejoin="round"/>
<polygon points="351.0,163.4 358.1,159.2 353.6,148.1 346.4,152.1" fill="#ac549b" stroke="#ac549b" stroke-width="1.0" stroke-linejoin="round"/>
<polygon points="386.2,187.3 393.3,182.8 388.7,170.5 381.6,174.8" fill="#ac5c97" stroke="#ac5c97" stroke-width="1.0" stroke-linejoin="round"/>
<polygon points="374.5,179.3 381.6,174.8 377.0,162.6 369.9,166.8" fill="#ac5999" stroke="#ac5999" stroke-width="1.0" stroke-linejoin="round"/>
<polygon points="362.7,171.2 369.9,166.8 365.3,155.1 358.1,159.2" fill="#ac569a" stroke="#ac569a" stroke-width="1.0" stroke-linejoin="round"/>
<polygon points="449.8,251.0 456.7,247.7 451.9,233.8 445.0,236.9" fill="#a27572" stroke="#a27572" stroke-width="1.0" stroke-linejoin="round"/>
<polygon points="219.0,116.6 226.6,114.2 222.6,108.7 215.0,111.1" fill="#a945a0" stroke="#a945a0" stroke-width="1.0" stroke-linejoin="round"/>
<polygon points="273.2,130.0 280.6,127.0 276.4,119.7 269.0,122.6" fill="#ab499f" stroke="#ab499f" stroke-width="1.0" stroke-linejoin="round"/>
<polygon points="438.0,240.5 445.0,236.9 440.2,222.5 433.3,225.9" fill="#a37078" stroke="#a37078" stroke-width="1.0" stroke-linejoin="round"/>
<polygon points="176.6,109.8 184.3,107.8 180.5,103.1 172.8,105.2" fill="#a943a0" stroke="#a943a0" stroke-width="1.0" stroke-linejoin="round"/>
<polygon points="134.1,104.0 142.0,102.2 138.3,97.8 130.5,99.6" fill="#a841a0" stroke="#a841a0" stroke-width="1.0" stroke-linejoin="round"/>
<polygon points="284.9,135.0 292.3,131.8 288.0,124.0 280.6,127.0" fill="#ab4a9f" stroke="#ab4a9f" stroke-width="1.0" stroke-linejoin="round"/>
<polygon points="230.7,120.0 238.2,117.6 234.1,111.7 226.6,114.2" fill="#aa469f" stroke="#aa469f" stroke-width="1.0" stroke-linejoin="round"/>
<polygon points="426.3,229.9 433.3,225.9 428.5,211.3 421.5,215.1" fill="#a56c80" stroke="#a56c80" stroke-width="1.0" stroke-linejoin="round"/>
<polygon points="296.7,140.5 304.0,137.2 299.6,128.6 292.3,131.8" fill="#ab4c9e" stroke="#ab4c9e" stroke-width="1.0" stroke-linejoin="round"/>
<polygon points="188.2,112.6 195.9,110.5 192.0,105.6 184.3,107.8" fill="#a943a0" stroke="#a943a0" stroke-width="1.0" stroke-linejoin="round"/>
<polygon points="489.9,290.1 496.8,288.0 491.8,277.4 485.0,279.5" fill="#a0865c" stroke="#a0865c" stroke-width="1.0" stroke-linejoin="round"/>
<polygon points="414.5,219.5 421.5,215.1 416.8,201.0 409.8,205.1" fill="#a86887" stroke="#a86887" stroke-width="1.0" stroke-linejoin="round"/>
<polygon points="478.1,281.9 485.0,279.5 480.1,268.1 473.3,270.5" fill="#a08262" stroke="#a08262" stroke-width="1.0" stroke-linejoin="round"/>
<polygon points="308.4,146.5 315.7,142.9 311.3,133.8 304.0,137.2" fill="#ac4e9e" stroke="#ac4e9e" stroke-width="1.0" stroke-linejoin="round"/>
<polygon points="145.7,106.5 153.5,104.7 149.8,100.3 142.0,102.2" fill="#a941a0" stroke="#a941a0" stroke-width="1.0" stroke-linejoin="round"/>
<polygon points="242.3,123.9 249.9,121.3 245.7,115.0 238.2,117.6" fill="#aa479f" stroke="#aa479f" stroke-width="1.0" stroke-linejoin="round"/>
<polygon points="466.4,273.3 473.3,270.5 468.4,258.2 461.5,261.0" fill="#a17e66" stroke="#a17e66" stroke-width="1.0" stroke-linejoin="round"/>
<polygon points="402.7,209.7 409.8,205.1 405.1,191.4 398.0,195.8" fill="#a9648d" stroke="#a9648d" stroke-width="1.0" stroke-linejoin="round"/>
<polygon points="320.2,153.0 327.4,149.3 323.0,139.4 315.7,142.9" fill="#ac509d" stroke="#ac509d" stroke-width="1.0" stroke-linejoin="round"/>
<polygon points="390.9,200.5 398.0,195.8 393.3,182.8 386.2,187.3" fill="#ab6193" stroke="#ab6193" stroke-width="1.0" stroke-linejoin="round"/>
<polygon points="331.9,160.1 339.2,156.1 334.7,145.5 327.4,149.3" fill="#ac529c" stroke="#ac529c" stroke-width="1.0" stroke-linejoin="round"/>
<polygon points="379.1,192.1 386.2,187.3 381.6,174.8 374.5,179.3" fill="#ac5d97" stroke="#ac5d97" stroke-width="1.0" stroke-linejoin="round"/>
<polygon points="367.3,184.1 374.5,179.3 369.9,166.8 362.7,171.2" fill="#ac5a98" stroke="#ac5a98" stroke-width="1.0" stroke-linejoin="round"/>
<polygon points="454.6,264.2 461.5,261.0 456.7,247.7 449.8,251.0" fill="#a27a6c" stroke="#a27a6c" stroke-width="1.0" stroke-linejoin="round"/>
<polygon points="343.7,167.7 351.0,163.4 346.4,152.1 339.2,156.1" fill="#ac559b" stroke="#ac559b" stroke-width="1.0" stroke-linejoin="round"/>
<polygon points="355.5,175.8 362.7,171.2 358.1,159.2 351.0,163.4" fill="#ac589a" stroke="#ac589a" stroke-width="1.0" stroke-linejoin="round"/>
<polygon points="199.8,115.6 207.4,113.4 203.5,108.3 195.9,110.5" fill="#a944a0" stroke="#a944a0" stroke-width="1.0" stroke-linejoin="round"/>
<polygon points="254.0,128.1 261.5,125.4 257.3,118.6 249.9,121.3" fill="#aa489f" stroke="#aa489f" stroke-width="1.0" stroke-linejoin="round"/>
<polygon points="157.3,109.1 165.0,107.2 161.3,102.7 153.5,104.7" fill="#a942a0" stroke="#a942a0" stroke-width="1.0" stroke-linejoin="round"/>
<polygon points="442.8,254.7 449.8,251.0 445.0,236.9 438.0,240.5" fill="#a27671" stroke="#a27671" stroke-width="1.0" stroke-linejoin="round"/>
<polygon points="265.8,132.8 273.2,130.0 269.0,122.6 261.5,125.4" fill="#ab499f" stroke="#ab499f" stroke-width="1.0" stroke-linejoin="round"/>
<polygon points="211.4,118.8 219.0,116.6 215.0,111.1 207.4,113.4" fill="#aa459f" stroke="#aa459f" stroke-width="1.0" stroke-linejoin="round"/>
<polygon points="431.0,244.7 438.0,240.5 433.3,225.9 426.3,229.9" fill="#a37177" stroke="#a37177" stroke-width="1.0" stroke-linejoin="round"/>
<polygon points="168.8,111.8 176.6,109.8 172.8,105.2 165.0,107.2" fill="#a943a0" stroke="#a943a0" stroke-width="1.0" stroke-linejoin="round"/>
<polygon points="277.5,138.0 284.9,135.0 280.6,127.0 273.2,130.0" fill="#ab4b9f" stroke="#ab4b9f" stroke-width="1.0" stroke-linejoin="round"/>
<polygon points="419.2,234.4 426.3,229.9 421.5,215.1 414.5,219.5" fill="#a56d7e" stroke="#a56d7e" stroke-width="1.0" stroke-linejoin="round"/>
<polygon points="126.3,105.7 134.1,104.0 130.5,99.6 122.6,101.4" fill="#a841a0" stroke="#a841a0" stroke-width="1.0" stroke-linejoin="round"/>
<polygon points="223.1,122.4 230.7,120.0 226.6,114.2 219.0,116.6" fill="#aa469f" stroke="#aa469f" stroke-width="1.0" stroke-linejoin="round"/>
<polygon points="289.3,143.7 296.7,140.5 292.3,131.8 284.9,135.0" fill="#ac4c9e" stroke="#ac4c9e" stroke-width="1.0" stroke-linejoin="round"/>
<polygon points="407.4,224.3 414.5,219.5 409.8,205.1 402.7,209.7" fill="#a76984" stroke="#a76984" stroke-width="1.0" stroke-linejoin="round"/>
<polygon points="301.0,149.9 308.4,146.5 304.0,137.2 296.7,140.5" fill="#ac4e9e" stroke="#ac4e9e" stroke-width="1.0" stroke-linejoin="round"/>
<polygon points="180.5,114.6 188.2,112.6 184.3,107.8 176.6,109.8" fill="#a944a0" stroke="#a944a0" stroke-width="1.0" stroke-linejoin="round"/>
<polygon points="494.9,299.8 501.7,297.7 496.8,288.0 489.9,290.1" fill="#9f8957" stroke="#9f8957" stroke-width="1.0" stroke-linejoin="round"/>
<polygon points="395.6,214.7 402.7,209.7 398.0,195.8 390.9,200.5" fill="#a9658b" stroke="#a9658b" stroke-width="1.0" stroke-linejoin="round"/>
<polygon points="483.1,292.4 489.9,290.1 485.0,279.5 478.1,281.9" fill="#a0865c" stroke="#a0865c" stroke-width="1.0" stroke-linejoin="round"/>
<polygon points="471.2,284.5 478.1,281.9 473.3,270.5 466.4,273.3" fill="#a08261" stroke="#a08261" stroke-width="1.0" stroke-linejoin="round"/>
<polygon points="383.8,205.5 390.9,200.5 386.2,187.3 379.1,192.1" fill="#ab6291" stroke="#ab6291" stroke-width="1.0" stroke-linejoin="round"/>
<polygon points="312.8,156.7 320.2,153.0 315.7,142.9 308.4,146.5" fill="#ac519d" stroke="#ac519d" stroke-width="1.0" stroke-linejoin="round"/>
<polygon points="137.8,108.3 145.7,106.5 142.0,102.2 134.1,104.0" fill="#a942a0" stroke="#a942a0" stroke-width="1.0" stroke-linejoin="round"/>
<polygon points="234.8,126.4 242.3,123.9 238.2,117.6 230.7,120.0" fill="#aa479f" stroke="#aa479f" stroke-width="1.0" stroke-linejoin="round"/>
<polygon points="371.9,197.1 379.1,192.1 374.5,179.3 367.3,184.1" fill="#ac5f96" stroke="#ac5f96" stroke-width="1.0" stroke-linejoin="round"/>
<polygon points="459.4,276.3 466.4,273.3 461.5,261.0 454.6,264.2" fill="#a17f66" stroke="#a17f66" stroke-width="1.0" stroke-linejoin="round"/>
<polygon points="360.1,188.9 367.3,184.1 362.7,171.2 355.5,175.8" fill="#ac5c98" stroke="#ac5c98" stroke-width="1.0" stroke-linejoin="round"/>
<polygon points="324.7,164.0 331.9,160.1 327.4,149.3 320.2,153.0" fill="#ac539c" stroke="#ac539c" stroke-width="1.0" stroke-linejoin="round"/>
<polygon points="348.3,180.3 355.5,175.8 351.0,163.4 343.7,167.7" fill="#ac5999" stroke="#ac5999" stroke-width="1.0" stroke-linejoin="round"/>
<polygon points="336.5,171.9 343.7,167.7 339.2,156.1 331.9,160.1" fill="#ac569a" stroke="#ac569a" stroke-width="1.0" stroke-linejoin="round"/>
<polygon points="447.6,267.8 454.6,264.2 449.8,251.0 442.8,254.7" fill="#a17b6b" stroke="#a17b6b" stroke-width="1.0" stroke-linejoin="round"/>
<polygon points="192.1,117.7 199.8,115.6 195.9,110.5 188.2,112.6" fill="#a945a0" stroke="#a945a0" stroke-width="1.0" stroke-linejoin="round"/>
<polygon points="246.5,130.7 254.0,128.1 249.9,121.3 242.3,123.9" fill="#aa499f" stroke="#aa499f" stroke-width="1.0" stroke-linejoin="round"/>
<polygon points="435.8,258.9 442.8,254.7 438.0,240.5 431.0,244.7" fill="#a27770" stroke="#a27770" stroke-width="1.0" stroke-linejoin="round"/>
<polygon points="149.4,111.0 157.3,109.1 153.5,104.7 145.7,106.5" fill="#a942a0" stroke="#a942a0" stroke-width="1.0" stroke-linejoin="round"/>
<polygon points="424.0,249.3 431.0,244.7 426.3,229.9 419.2,234.4" fill="#a37375" stroke="#a37375" stroke-width="1.0" stroke-linejoin="round"/>
<polygon points="258.3,135.5 265.8,132.8 261.5,125.4 254.0,128.1" fill="#ab4a9f" stroke="#ab4a9f" stroke-width="1.0" stroke-linejoin="round"/>
<polygon points="203.8,121.0 211.4,118.8 207.4,113.4 199.8,115.6" fill="#aa469f" stroke="#aa469f" stroke-width="1.0" stroke-linejoin="round"/>
<polygon points="412.1,239.5 419.2,234.4 414.5,219.5 407.4,224.3" fill="#a46f7b" stroke="#a46f7b" stroke-width="1.0" stroke-linejoin="round"/>
<polygon points="270.0,140.9 277.5,138.0 273.2,130.0 265.8,132.8" fill="#ab4b9e" stroke="#ab4b9e" stroke-width="1.0" stroke-linejoin="round"/>
<polygon points="161.0,113.7 168.8,111.8 165.0,107.2 157.3,109.1" fill="#a943a0" stroke="#a943a0" stroke-width="1.0" stroke-linejoin="round"/>
<polygon points="400.3,229.6 407.4,224.3 402.7,209.7 395.6,214.7" fill="#a66b82" stroke="#a66b82" stroke-width="1.0" stroke-linejoin="round"/>
<polygon points="118.3,107.4 126.3,105.7 122.6,101.4 114.7,103.1" fill="#a841a0" stroke="#a841a0" stroke-width="1.0" stroke-linejoin="round"/>
<polygon points="281.8,146.7 289.3,143.7 284.9,135.0 277.5,138.0" fill="#ac4d9e" stroke="#ac4d9e" stroke-width="1.0" stroke-linejoin="round"/>
<polygon points="215.5,124.7 223.1,122.4 219.0,116.6 211.4,118.8" fill="#aa479f" stroke="#aa479f" stroke-width="1.0" stroke-linejoin="round"/>
<polygon points="388.5,219.9 395.6,214.7 390.9,200.5 383.8,205.5" fill="#a86788" stroke="#a86788" stroke-width="1.0" stroke-linejoin="round"/>
<polygon points="376.6,210.7 383.8,205.5 379.1,192.1 371.9,197.1" fill="#aa638e" stroke="#aa638e" stroke-width="1.0" stroke-linejoin="round"/>
<polygon points="293.6,153.2 301.0,149.9 296.7,140.5 289.3,143.7" fill="#ac4f9d" stroke="#ac4f9d" stroke-width="1.0" stroke-linejoin="round"/>
<polygon points="364.8,202.2 371.9,197.1 367.3,184.1 360.1,188.9" fill="#ab6094" stroke="#ab6094" stroke-width="1.0" stroke-linejoin="round"/>
<polygon points="352.9,193.8 360.1,188.9 355.5,175.8 348.3,180.3" fill="#ac5d97" stroke="#ac5d97" stroke-width="1.0" stroke-linejoin="round"/>
<polygon points="172.7,116.6 180.5,114.6 176.6,109.8 168.8,111.8" fill="#a944a0" stroke="#a944a0" stroke-width="1.0" stroke-linejoin="round"/>
<polygon points="305.5,160.2 312.8,156.7 308.4,146.5 301.0,149.9" fill="#ac529c" stroke="#ac529c" stroke-width="1.0" stroke-linejoin="round"/>
<polygon points="476.2,294.9 483.1,292.4 478.1,281.9 471.2,284.5" fill="#a0865b" stroke="#a0865b" stroke-width="1.0" stroke-linejoin="round"/>
<polygon points="341.0,184.8 348.3,180.3 343.7,167.7 336.5,171.9" fill="#ac5a98" stroke="#ac5a98" stroke-width="1.0" stroke-linejoin="round"/>
<polygon points="488.0,302.0 494.9,299.8 489.9,290.1 483.1,292.4" fill="#9f8956" stroke="#9f8956" stroke-width="1.0" stroke-linejoin="round"/>
<polygon points="464.3,287.5 471.2,284.5 466.4,273.3 459.4,276.3" fill="#a08360" stroke="#a08360" stroke-width="1.0" stroke-linejoin="round"/>
<polygon points="317.3,167.8 324.7,164.0 320.2,153.0 312.8,156.7" fill="#ac549b" stroke="#ac549b" stroke-width="1.0" stroke-linejoin="round"/>
<polygon points="329.2,176.0 336.5,171.9 331.9,160.1 324.7,164.0" fill="#ac579a" stroke="#ac579a" stroke-width="1.0" stroke-linejoin="round"/>
<polygon points="227.2,128.7 234.8,126.4 230.7,120.0 223.1,122.4" fill="#aa489f" stroke="#aa489f" stroke-width="1.0" stroke-linejoin="round"/>
<polygon points="499.9,308.8 506.7,306.8 501.7,297.7 494.9,299.8" fill="#9e8c52" stroke="#9e8c52" stroke-width="1.0" stroke-linejoin="round"/>
<polygon points="452.4,279.8 459.4,276.3 454.6,264.2 447.6,267.8" fill="#a17f65" stroke="#a17f65" stroke-width="1.0" stroke-linejoin="round"/>
<polygon points="129.9,110.0 137.8,108.3 134.1,104.0 126.3,105.7" fill="#a942a0" stroke="#a942a0" stroke-width="1.0" stroke-linejoin="round"/>
<polygon points="440.6,271.9 447.6,267.8 442.8,254.7 435.8,258.9" fill="#a17c69" stroke="#a17c69" stroke-width="1.0" stroke-linejoin="round"/>
<polygon points="428.7,263.6 435.8,258.9 431.0,244.7 424.0,249.3" fill="#a2786e" stroke="#a2786e" stroke-width="1.0" stroke-linejoin="round"/>
<polygon points="238.9,133.2 246.5,130.7 242.3,123.9 234.8,126.4" fill="#ab499f" stroke="#ab499f" stroke-width="1.0" stroke-linejoin="round"/>
<polygon points="184.3,119.7 192.1,117.7 188.2,112.6 180.5,114.6" fill="#a945a0" stroke="#a945a0" stroke-width="1.0" stroke-linejoin="round"/>
<polygon points="416.9,254.4 424.0,249.3 419.2,234.4 412.1,239.5" fill="#a37473" stroke="#a37473" stroke-width="1.0" stroke-linejoin="round"/>
<polygon points="141.5,112.7 149.4,111.0 145.7,106.5 137.8,108.3" fill="#a943a0" stroke="#a943a0" stroke-width="1.0" stroke-linejoin="round"/>
<polygon points="405.0,244.9 412.1,239.5 407.4,224.3 400.3,229.6" fill="#a37079" stroke="#a37079" stroke-width="1.0" stroke-linejoin="round"/>
<polygon points="250.7,138.1 258.3,135.5 254.0,128.1 246.5,130.7" fill="#ab4a9f" stroke="#ab4a9f" stroke-width="1.0" stroke-linejoin="round"/>
<polygon points="196.0,123.1 203.8,121.0 199.8,115.6 192.1,117.7" fill="#aa469f" stroke="#aa469f" stroke-width="1.0" stroke-linejoin="round"/>
<polygon points="393.2,235.2 400.3,229.6 395.6,214.7 388.5,219.9" fill="#a56c7f" stroke="#a56c7f" stroke-width="1.0" stroke-linejoin="round"/>
<polygon points="262.5,143.6 270.0,140.9 265.8,132.8 258.3,135.5" fill="#ab4c9e" stroke="#ab4c9e" stroke-width="1.0" stroke-linejoin="round"/>
<polygon points="381.3,225.4 388.5,219.9 383.8,205.5 376.6,210.7" fill="#a76886" stroke="#a76886" stroke-width="1.0" stroke-linejoin="round"/>
<polygon points="153.2,115.5 161.0,113.7 157.3,109.1 149.4,111.0" fill="#a944a0" stroke="#a944a0" stroke-width="1.0" stroke-linejoin="round"/>
<polygon points="369.4,215.9 376.6,210.7 371.9,197.1 364.8,202.2" fill="#a9658c" stroke="#a9658c" stroke-width="1.0" stroke-linejoin="round"/>
<polygon points="274.4,149.7 281.8,146.7 277.5,138.0 270.0,140.9" fill="#ac4e9e" stroke="#ac4e9e" stroke-width="1.0" stroke-linejoin="round"/>
<polygon points="357.5,207.2 364.8,202.2 360.1,188.9 352.9,193.8" fill="#ab6291" stroke="#ab6291" stroke-width="1.0" stroke-linejoin="round"/>
<polygon points="110.3,109.0 118.3,107.4 114.7,103.1 106.8,104.7" fill="#a841a0" stroke="#a841a0" stroke-width="1.0" stroke-linejoin="round"/>
<polygon points="207.8,126.8 215.5,124.7 211.4,118.8 203.8,121.0" fill="#aa479f" stroke="#aa479f" stroke-width="1.0" stroke-linejoin="round"/>
<polygon points="345.6,198.5 352.9,193.8 348.3,180.3 341.0,184.8" fill="#ac5e96" stroke="#ac5e96" stroke-width="1.0" stroke-linejoin="round"/>
<polygon points="286.2,156.3 293.6,153.2 289.3,143.7 281.8,146.7" fill="#ac509d" stroke="#ac509d" stroke-width="1.0" stroke-linejoin="round"/>
<polygon points="333.7,189.2 341.0,184.8 336.5,171.9 329.2,176.0" fill="#ac5b98" stroke="#ac5b98" stroke-width="1.0" stroke-linejoin="round"/>
<polygon points="298.1,163.6 305.5,160.2 301.0,149.9 293.6,153.2" fill="#ac529c" stroke="#ac529c" stroke-width="1.0" stroke-linejoin="round"/>
<polygon points="321.8,180.0 329.2,176.0 324.7,164.0 317.3,167.8" fill="#ac5899" stroke="#ac5899" stroke-width="1.0" stroke-linejoin="round"/>
<polygon points="310.0,171.5 317.3,167.8 312.8,156.7 305.5,160.2" fill="#ac559b" stroke="#ac559b" stroke-width="1.0" stroke-linejoin="round"/>
<polygon points="445.4,283.7 452.4,279.8 447.6,267.8 440.6,271.9" fill="#a18063" stroke="#a18063" stroke-width="1.0" stroke-linejoin="round"/>
<polygon points="457.3,290.8 464.3,287.5 459.4,276.3 452.4,279.8" fill="#a0845f" stroke="#a0845f" stroke-width="1.0" stroke-linejoin="round"/>
<polygon points="164.9,118.5 172.7,116.6 168.8,111.8 161.0,113.7" fill="#a944a0" stroke="#a944a0" stroke-width="1.0" stroke-linejoin="round"/>
<polygon points="469.2,297.7 476.2,294.9 471.2,284.5 464.3,287.5" fill="#9f875b" stroke="#9f875b" stroke-width="1.0" stroke-linejoin="round"/>
<polygon points="433.5,276.5 440.6,271.9 435.8,258.9 428.7,263.6" fill="#a17d68" stroke="#a17d68" stroke-width="1.0" stroke-linejoin="round"/>
<polygon points="481.1,304.4 488.0,302.0 483.1,292.4 476.2,294.9" fill="#9f8a56" stroke="#9f8a56" stroke-width="1.0" stroke-linejoin="round"/>
<polygon points="219.5,131.0 227.2,128.7 223.1,122.4 215.5,124.7" fill="#aa489f" stroke="#aa489f" stroke-width="1.0" stroke-linejoin="round"/>
<polygon points="421.7,268.7 428.7,263.6 424.0,249.3 416.9,254.4" fill="#a27a6c" stroke="#a27a6c" stroke-width="1.0" stroke-linejoin="round"/>
<polygon points="493.0,310.9 499.9,308.8 494.9,299.8 488.0,302.0" fill="#9e8c51" stroke="#9e8c51" stroke-width="1.0" stroke-linejoin="round"/>
<polygon points="122.0,111.7 129.9,110.0 126.3,105.7 118.3,107.4" fill="#a942a0" stroke="#a942a0" stroke-width="1.0" stroke-linejoin="round"/>
<polygon points="409.8,259.9 416.9,254.4 412.1,239.5 405.0,244.9" fill="#a27671" stroke="#a27671" stroke-width="1.0" stroke-linejoin="round"/>
<polygon points="504.9,317.1 511.8,315.2 506.7,306.8 499.9,308.8" fill="#9e8f4d" stroke="#9e8f4d" stroke-width="1.0" stroke-linejoin="round"/>
<polygon points="231.3,135.5 238.9,133.2 234.8,126.4 227.2,128.7" fill="#ab499f" stroke="#ab499f" stroke-width="1.0" stroke-linejoin="round"/>
<polygon points="397.9,250.6 405.0,244.9 400.3,229.6 393.2,235.2" fill="#a37276" stroke="#a37276" stroke-width="1.0" stroke-linejoin="round"/>
<polygon points="176.6,121.6 184.3,119.7 180.5,114.6 172.7,116.6" fill="#aa459f" stroke="#aa459f" stroke-width="1.0" stroke-linejoin="round"/>
<polygon points="386.0,240.9 393.2,235.2 388.5,219.9 381.3,225.4" fill="#a56e7c" stroke="#a56e7c" stroke-width="1.0" stroke-linejoin="round"/>
<polygon points="133.6,114.4 141.5,112.7 137.8,108.3 129.9,110.0" fill="#a943a0" stroke="#a943a0" stroke-width="1.0" stroke-linejoin="round"/>
<polygon points="243.1,140.6 250.7,138.1 246.5,130.7 238.9,133.2" fill="#ab4b9f" stroke="#ab4b9f" stroke-width="1.0" stroke-linejoin="round"/>
<polygon points="374.1,230.8 381.3,225.4 376.6,210.7 369.4,215.9" fill="#a66a83" stroke="#a66a83" stroke-width="1.0" stroke-linejoin="round"/>
<polygon points="188.3,125.1 196.0,123.1 192.1,117.7 184.3,119.7" fill="#aa469f" stroke="#aa469f" stroke-width="1.0" stroke-linejoin="round"/>
<polygon points="362.2,221.1 369.4,215.9 364.8,202.2 357.5,207.2" fill="#a86789" stroke="#a86789" stroke-width="1.0" stroke-linejoin="round"/>
<polygon points="255.0,146.2 262.5,143.6 258.3,135.5 250.7,138.1" fill="#ac4c9e" stroke="#ac4c9e" stroke-width="1.0" stroke-linejoin="round"/>
<polygon points="350.3,212.1 357.5,207.2 352.9,193.8 345.6,198.5" fill="#aa638f" stroke="#aa638f" stroke-width="1.0" stroke-linejoin="round"/>
<polygon points="338.3,203.1 345.6,198.5 341.0,184.8 333.7,189.2" fill="#ac6095" stroke="#ac6095" stroke-width="1.0" stroke-linejoin="round"/>
<polygon points="266.8,152.4 274.4,149.7 270.0,140.9 262.5,143.6" fill="#ac4e9e" stroke="#ac4e9e" stroke-width="1.0" stroke-linejoin="round"/>
<polygon points="145.3,117.3 153.2,115.5 149.4,111.0 141.5,112.7" fill="#a944a0" stroke="#a944a0" stroke-width="1.0" stroke-linejoin="round"/>
<polygon points="102.4,112.6 110.3,109.0 106.8,104.7 98.9,108.4" fill="#a942a0" stroke="#a942a0" stroke-width="1.0" stroke-linejoin="round"/>
<polygon points="326.4,193.3 333.7,189.2 329.2,176.0 321.8,180.0" fill="#ac5c97" stroke="#ac5c97" stroke-width="1.0" stroke-linejoin="round"/>
<polygon points="278.7,159.3 286.2,156.3 281.8,146.7 274.4,149.7" fill="#ac519d" stroke="#ac519d" stroke-width="1.0" stroke-linejoin="round"/>
<polygon points="200.0,128.9 207.8,126.8 203.8,121.0 196.0,123.1" fill="#aa479f" stroke="#aa479f" stroke-width="1.0" stroke-linejoin="round"/>
<polygon points="314.5,183.8 321.8,180.0 317.3,167.8 310.0,171.5" fill="#ac5999" stroke="#ac5999" stroke-width="1.0" stroke-linejoin="round"/>
<polygon points="290.6,166.8 298.1,163.6 293.6,153.2 286.2,156.3" fill="#ac539c" stroke="#ac539c" stroke-width="1.0" stroke-linejoin="round"/>
<polygon points="426.5,281.4 433.5,276.5 428.7,263.6 421.7,268.7" fill="#a17f66" stroke="#a17f66" stroke-width="1.0" stroke-linejoin="round"/>
<polygon points="302.5,174.9 310.0,171.5 305.5,160.2 298.1,163.6" fill="#ac569a" stroke="#ac569a" stroke-width="1.0" stroke-linejoin="round"/>
<polygon points="438.4,288.0 445.4,283.7 440.6,271.9 433.5,276.5" fill="#a08262" stroke="#a08262" stroke-width="1.0" stroke-linejoin="round"/>
<polygon points="414.5,274.1 421.7,268.7 416.9,254.4 409.8,259.9" fill="#a17b6a" stroke="#a17b6a" stroke-width="1.0" stroke-linejoin="round"/>
<polygon points="450.3,294.4 457.3,290.8 452.4,279.8 445.4,283.7" fill="#a0855e" stroke="#a0855e" stroke-width="1.0" stroke-linejoin="round"/>
<polygon points="402.6,265.6 409.8,259.9 405.0,244.9 397.9,250.6" fill="#a2776f" stroke="#a2776f" stroke-width="1.0" stroke-linejoin="round"/>
<polygon points="462.2,300.7 469.2,297.7 464.3,287.5 457.3,290.8" fill="#9f875a" stroke="#9f875a" stroke-width="1.0" stroke-linejoin="round"/>
<polygon points="157.0,120.3 164.9,118.5 161.0,113.7 153.2,115.5" fill="#a945a0" stroke="#a945a0" stroke-width="1.0" stroke-linejoin="round"/>
<polygon points="211.8,133.1 219.5,131.0 215.5,124.7 207.8,126.8" fill="#aa499f" stroke="#aa499f" stroke-width="1.0" stroke-linejoin="round"/>
<polygon points="474.1,307.0 481.1,304.4 476.2,294.9 469.2,297.7" fill="#9f8a55" stroke="#9f8a55" stroke-width="1.0" stroke-linejoin="round"/>
<polygon points="390.7,256.4 397.9,250.6 393.2,235.2 386.0,240.9" fill="#a37474" stroke="#a37474" stroke-width="1.0" stroke-linejoin="round"/>
<polygon points="486.1,313.2 493.0,310.9 488.0,302.0 481.1,304.4" fill="#9e8d51" stroke="#9e8d51" stroke-width="1.0" stroke-linejoin="round"/>
<polygon points="114.0,113.3 122.0,111.7 118.3,107.4 110.3,109.0" fill="#a942a0" stroke="#a942a0" stroke-width="1.0" stroke-linejoin="round"/>
<polygon points="378.8,246.5 386.0,240.9 381.3,225.4 374.1,230.8" fill="#a4707a" stroke="#a4707a" stroke-width="1.0" stroke-linejoin="round"/>
<polygon points="498.0,319.2 504.9,317.1 499.9,308.8 493.0,310.9" fill="#9e8f4d" stroke="#9e8f4d" stroke-width="1.0" stroke-linejoin="round"/>
<polygon points="223.6,137.8 231.3,135.5 227.2,128.7 219.5,131.0" fill="#ab4a9f" stroke="#ab4a9f" stroke-width="1.0" stroke-linejoin="round"/>
<polygon points="168.7,123.5 176.6,121.6 172.7,116.6 164.9,118.5" fill="#aa469f" stroke="#aa469f" stroke-width="1.0" stroke-linejoin="round"/>
<polygon points="510.0,325.0 516.8,323.1 511.8,315.2 504.9,317.1" fill="#9d9249" stroke="#9d9249" stroke-width="1.0" stroke-linejoin="round"/>
<polygon points="366.8,236.0 374.1,230.8 369.4,215.9 362.2,221.1" fill="#a66c80" stroke="#a66c80" stroke-width="1.0" stroke-linejoin="round"/>
<polygon points="354.9,226.0 362.2,221.1 357.5,207.2 350.3,212.1" fill="#a76886" stroke="#a76886" stroke-width="1.0" stroke-linejoin="round"/>
<polygon points="235.5,143.0 243.1,140.6 238.9,133.2 231.3,135.5" fill="#ab4b9e" stroke="#ab4b9e" stroke-width="1.0" stroke-linejoin="round"/>
<polygon points="125.6,116.1 133.6,114.4 129.9,110.0 122.0,111.7" fill="#a943a0" stroke="#a943a0" stroke-width="1.0" stroke-linejoin="round"/>
<polygon points="343.0,216.7 350.3,212.1 345.6,198.5 338.3,203.1" fill="#a9658d" stroke="#a9658d" stroke-width="1.0" stroke-linejoin="round"/>
<polygon points="180.5,127.0 188.3,125.1 184.3,119.7 176.6,121.6" fill="#aa479f" stroke="#aa479f" stroke-width="1.0" stroke-linejoin="round"/>
<polygon points="247.4,148.7 255.0,146.2 250.7,138.1 243.1,140.6" fill="#ac4d9e" stroke="#ac4d9e" stroke-width="1.0" stroke-linejoin="round"/>
<polygon points="331.0,207.4 338.3,203.1 333.7,189.2 326.4,193.3" fill="#ab6193" stroke="#ab6193" stroke-width="1.0" stroke-linejoin="round"/>
<polygon points="319.0,197.2 326.4,193.3 321.8,180.0 314.5,183.8" fill="#ac5d97" stroke="#ac5d97" stroke-width="1.0" stroke-linejoin="round"/>
<polygon points="259.3,155.1 266.8,152.4 262.5,143.6 255.0,146.2" fill="#ac4f9e" stroke="#ac4f9e" stroke-width="1.0" stroke-linejoin="round"/>
<polygon points="419.3,286.6 426.5,281.4 421.7,268.7 414.5,274.1" fill="#a18064" stroke="#a18064" stroke-width="1.0" stroke-linejoin="round"/>
<polygon points="407.4,279.6 414.5,274.1 409.8,259.9 402.6,265.6" fill="#a17d68" stroke="#a17d68" stroke-width="1.0" stroke-linejoin="round"/>
<polygon points="137.3,119.0 145.3,117.3 141.5,112.7 133.6,114.4" fill="#a944a0" stroke="#a944a0" stroke-width="1.0" stroke-linejoin="round"/>
<polygon points="271.2,162.1 278.7,159.3 274.4,149.7 266.8,152.4" fill="#ac519c" stroke="#ac519c" stroke-width="1.0" stroke-linejoin="round"/>
<polygon points="307.1,187.3 314.5,183.8 310.0,171.5 302.5,174.9" fill="#ac5a98" stroke="#ac5a98" stroke-width="1.0" stroke-linejoin="round"/>
<polygon points="431.3,292.6 438.4,288.0 433.5,276.5 426.5,281.4" fill="#a08360" stroke="#a08360" stroke-width="1.0" stroke-linejoin="round"/>
<polygon points="395.5,271.3 402.6,265.6 397.9,250.6 390.7,256.4" fill="#a2796d" stroke="#a2796d" stroke-width="1.0" stroke-linejoin="round"/>
<polygon points="283.1,169.8 290.6,166.8 286.2,156.3 278.7,159.3" fill="#ac549b" stroke="#ac549b" stroke-width="1.0" stroke-linejoin="round"/>
<polygon points="295.1,178.2 302.5,174.9 298.1,163.6 290.6,166.8" fill="#ac579a" stroke="#ac579a" stroke-width="1.0" stroke-linejoin="round"/>
<polygon points="192.3,130.9 200.0,128.9 196.0,123.1 188.3,125.1" fill="#aa489f" stroke="#aa489f" stroke-width="1.0" stroke-linejoin="round"/>
<polygon points="443.2,298.4 450.3,294.4 445.4,283.7 438.4,288.0" fill="#a0865d" stroke="#a0865d" stroke-width="1.0" stroke-linejoin="round"/>
<polygon points="383.5,262.0 390.7,256.4 386.0,240.9 378.8,246.5" fill="#a27572" stroke="#a27572" stroke-width="1.0" stroke-linejoin="round"/>
<polygon points="455.2,304.2 462.2,300.7 457.3,290.8 450.3,294.4" fill="#9f8858" stroke="#9f8858" stroke-width="1.0" stroke-linejoin="round"/>
<polygon points="371.6,251.9 378.8,246.5 374.1,230.8 366.8,236.0" fill="#a37177" stroke="#a37177" stroke-width="1.0" stroke-linejoin="round"/>
<polygon points="467.1,309.9 474.1,307.0 469.2,297.7 462.2,300.7" fill="#9f8b54" stroke="#9f8b54" stroke-width="1.0" stroke-linejoin="round"/>
<polygon points="149.1,122.0 157.0,120.3 153.2,115.5 145.3,117.3" fill="#a945a0" stroke="#a945a0" stroke-width="1.0" stroke-linejoin="round"/>
<polygon points="204.1,135.2 211.8,133.1 207.8,126.8 200.0,128.9" fill="#ab499f" stroke="#ab499f" stroke-width="1.0" stroke-linejoin="round"/>
<polygon points="106.0,116.7 114.0,113.3 110.3,109.0 102.4,112.6" fill="#a943a0" stroke="#a943a0" stroke-width="1.0" stroke-linejoin="round"/>
<polygon points="479.1,315.6 486.1,313.2 481.1,304.4 474.1,307.0" fill="#9e8d50" stroke="#9e8d50" stroke-width="1.0" stroke-linejoin="round"/>
<polygon points="359.6,241.0 366.8,236.0 362.2,221.1 354.9,226.0" fill="#a56d7e" stroke="#a56d7e" stroke-width="1.0" stroke-linejoin="round"/>
<polygon points="491.1,321.3 498.0,319.2 493.0,310.9 486.1,313.2" fill="#9e8f4c" stroke="#9e8f4c" stroke-width="1.0" stroke-linejoin="round"/>
<polygon points="215.9,139.9 223.6,137.8 219.5,131.0 211.8,133.1" fill="#ab4a9f" stroke="#ab4a9f" stroke-width="1.0" stroke-linejoin="round"/>
<polygon points="347.6,230.6 354.9,226.0 350.3,212.1 343.0,216.7" fill="#a76984" stroke="#a76984" stroke-width="1.0" stroke-linejoin="round"/>
<polygon points="160.8,125.3 168.7,123.5 164.9,118.5 157.0,120.3" fill="#aa469f" stroke="#aa469f" stroke-width="1.0" stroke-linejoin="round"/>
<polygon points="503.1,326.9 510.0,325.0 504.9,317.1 498.0,319.2" fill="#9d9248" stroke="#9d9248" stroke-width="1.0" stroke-linejoin="round"/>
<polygon points="335.6,221.0 343.0,216.7 338.3,203.1 331.0,207.4" fill="#a9668a" stroke="#a9668a" stroke-width="1.0" stroke-linejoin="round"/>
<polygon points="227.8,145.2 235.5,143.0 231.3,135.5 223.6,137.8" fill="#ab4c9e" stroke="#ab4c9e" stroke-width="1.0" stroke-linejoin="round"/>
<polygon points="117.6,117.7 125.6,116.1 122.0,111.7 114.0,113.3" fill="#a943a0" stroke="#a943a0" stroke-width="1.0" stroke-linejoin="round"/>
<polygon points="323.6,211.3 331.0,207.4 326.4,193.3 319.0,197.2" fill="#ab6291" stroke="#ab6291" stroke-width="1.0" stroke-linejoin="round"/>
<polygon points="515.1,332.4 522.0,330.6 516.8,323.1 510.0,325.0" fill="#9c9245" stroke="#9c9245" stroke-width="1.0" stroke-linejoin="round"/>
<polygon points="400.2,285.1 407.4,279.6 402.6,265.6 395.5,271.3" fill="#a17f66" stroke="#a17f66" stroke-width="1.0" stroke-linejoin="round"/>
<polygon points="412.2,291.9 419.3,286.6 414.5,274.1 407.4,279.6" fill="#a08262" stroke="#a08262" stroke-width="1.0" stroke-linejoin="round"/>
<polygon points="239.7,151.0 247.4,148.7 243.1,140.6 235.5,143.0" fill="#ac4d9e" stroke="#ac4d9e" stroke-width="1.0" stroke-linejoin="round"/>
<polygon points="172.6,128.8 180.5,127.0 176.6,121.6 168.7,123.5" fill="#aa479f" stroke="#aa479f" stroke-width="1.0" stroke-linejoin="round"/>
<polygon points="388.2,276.8 395.5,271.3 390.7,256.4 383.5,262.0" fill="#a17b6a" stroke="#a17b6a" stroke-width="1.0" stroke-linejoin="round"/>
<polygon points="311.6,200.8 319.0,197.2 314.5,183.8 307.1,187.3" fill="#ac5e96" stroke="#ac5e96" stroke-width="1.0" stroke-linejoin="round"/>
<polygon points="424.1,297.5 431.3,292.6 426.5,281.4 419.3,286.6" fill="#a0845e" stroke="#a0845e" stroke-width="1.0" stroke-linejoin="round"/>
<polygon points="251.7,157.5 259.3,155.1 255.0,146.2 247.4,148.7" fill="#ac4f9d" stroke="#ac4f9d" stroke-width="1.0" stroke-linejoin="round"/>
<polygon points="376.3,267.3 383.5,262.0 378.8,246.5 371.6,251.9" fill="#a2776f" stroke="#a2776f" stroke-width="1.0" stroke-linejoin="round"/>
<polygon points="299.6,190.6 307.1,187.3 302.5,174.9 295.1,178.2" fill="#ac5b98" stroke="#ac5b98" stroke-width="1.0" stroke-linejoin="round"/>
<polygon points="263.6,164.7 271.2,162.1 266.8,152.4 259.3,155.1" fill="#ac529c" stroke="#ac529c" stroke-width="1.0" stroke-linejoin="round"/>
<polygon points="436.1,302.7 443.2,298.4 438.4,288.0 431.3,292.6" fill="#9f875b" stroke="#9f875b" stroke-width="1.0" stroke-linejoin="round"/>
<polygon points="287.6,181.2 295.1,178.2 290.6,166.8 283.1,169.8" fill="#ac579a" stroke="#ac579a" stroke-width="1.0" stroke-linejoin="round"/>
<polygon points="129.3,120.6 137.3,119.0 133.6,114.4 125.6,116.1" fill="#a944a0" stroke="#a944a0" stroke-width="1.0" stroke-linejoin="round"/>
<polygon points="275.6,172.6 283.1,169.8 278.7,159.3 271.2,162.1" fill="#ac549b" stroke="#ac549b" stroke-width="1.0" stroke-linejoin="round"/>
<polygon points="184.4,132.8 192.3,130.9 188.3,125.1 180.5,127.0" fill="#aa489f" stroke="#aa489f" stroke-width="1.0" stroke-linejoin="round"/>
<polygon points="364.3,256.9 371.6,251.9 366.8,236.0 359.6,241.0" fill="#a37375" stroke="#a37375" stroke-width="1.0" stroke-linejoin="round"/>
<polygon points="448.1,307.9 455.2,304.2 450.3,294.4 443.2,298.4" fill="#9f8957" stroke="#9f8957" stroke-width="1.0" stroke-linejoin="round"/>
<polygon points="460.1,313.0 467.1,309.9 462.2,300.7 455.2,304.2" fill="#9e8b53" stroke="#9e8b53" stroke-width="1.0" stroke-linejoin="round"/>
<polygon points="352.3,245.5 359.6,241.0 354.9,226.0 347.6,230.6" fill="#a46e7b" stroke="#a46e7b" stroke-width="1.0" stroke-linejoin="round"/>
<polygon points="196.3,137.1 204.1,135.2 200.0,128.9 192.3,130.9" fill="#ab499f" stroke="#ab499f" stroke-width="1.0" stroke-linejoin="round"/>
<polygon points="141.1,123.7 149.1,122.0 145.3,117.3 137.3,119.0" fill="#aa459f" stroke="#aa459f" stroke-width="1.0" stroke-linejoin="round"/>
<polygon points="472.1,318.3 479.1,315.6 474.1,307.0 467.1,309.9" fill="#9e8d50" stroke="#9e8d50" stroke-width="1.0" stroke-linejoin="round"/>
<polygon points="340.2,234.8 347.6,230.6 343.0,216.7 335.6,221.0" fill="#a66b82" stroke="#a66b82" stroke-width="1.0" stroke-linejoin="round"/>
<polygon points="208.2,141.9 215.9,139.9 211.8,133.1 204.1,135.2" fill="#ab4a9f" stroke="#ab4a9f" stroke-width="1.0" stroke-linejoin="round"/>
<polygon points="328.2,224.9 335.6,221.0 331.0,207.4 323.6,211.3" fill="#a86788" stroke="#a86788" stroke-width="1.0" stroke-linejoin="round"/>
<polygon points="484.1,323.6 491.1,321.3 486.1,313.2 479.1,315.6" fill="#9e904c" stroke="#9e904c" stroke-width="1.0" stroke-linejoin="round"/>
<polygon points="152.9,127.0 160.8,125.3 157.0,120.3 149.1,122.0" fill="#aa469f" stroke="#aa469f" stroke-width="1.0" stroke-linejoin="round"/>
<polygon points="393.0,290.4 400.2,285.1 395.5,271.3 388.2,276.8" fill="#a18064" stroke="#a18064" stroke-width="1.0" stroke-linejoin="round"/>
<polygon points="405.0,297.1 412.2,291.9 407.4,279.6 400.2,285.1" fill="#a08360" stroke="#a08360" stroke-width="1.0" stroke-linejoin="round"/>
<polygon points="316.2,215.0 323.6,211.3 319.0,197.2 311.6,200.8" fill="#aa638f" stroke="#aa638f" stroke-width="1.0" stroke-linejoin="round"/>
<polygon points="496.2,329.0 503.1,326.9 498.0,319.2 491.1,321.3" fill="#9d9248" stroke="#9d9248" stroke-width="1.0" stroke-linejoin="round"/>
<polygon points="381.0,282.0 388.2,276.8 383.5,262.0 376.3,267.3" fill="#a17d68" stroke="#a17d68" stroke-width="1.0" stroke-linejoin="round"/>
<polygon points="220.1,147.3 227.8,145.2 223.6,137.8 215.9,139.9" fill="#ab4c9e" stroke="#ab4c9e" stroke-width="1.0" stroke-linejoin="round"/>
<polygon points="109.6,120.9 117.6,117.7 114.0,113.3 106.0,116.7" fill="#a944a0" stroke="#a944a0" stroke-width="1.0" stroke-linejoin="round"/>
<polygon points="417.0,302.5 424.1,297.5 419.3,286.6 412.2,291.9" fill="#a0865c" stroke="#a0865c" stroke-width="1.0" stroke-linejoin="round"/>
<polygon points="304.1,204.2 311.6,200.8 307.1,187.3 299.6,190.6" fill="#ac5f96" stroke="#ac5f96" stroke-width="1.0" stroke-linejoin="round"/>
<polygon points="369.0,272.2 376.3,267.3 371.6,251.9 364.3,256.9" fill="#a2796d" stroke="#a2796d" stroke-width="1.0" stroke-linejoin="round"/>
<polygon points="508.2,334.3 515.1,332.4 510.0,325.0 503.1,326.9" fill="#9c9245" stroke="#9c9245" stroke-width="1.0" stroke-linejoin="round"/>
<polygon points="232.0,153.3 239.7,151.0 235.5,143.0 227.8,145.2" fill="#ac4e9e" stroke="#ac4e9e" stroke-width="1.0" stroke-linejoin="round"/>
<polygon points="164.7,130.6 172.6,128.8 168.7,123.5 160.8,125.3" fill="#aa479f" stroke="#aa479f" stroke-width="1.0" stroke-linejoin="round"/>
<polygon points="429.0,307.3 436.1,302.7 431.3,292.6 424.1,297.5" fill="#9f8859" stroke="#9f8859" stroke-width="1.0" stroke-linejoin="round"/>
<polygon points="292.1,193.7 299.6,190.6 295.1,178.2 287.6,181.2" fill="#ac5b98" stroke="#ac5b98" stroke-width="1.0" stroke-linejoin="round"/>
<polygon points="244.0,159.9 251.7,157.5 247.4,148.7 239.7,151.0" fill="#ac509d" stroke="#ac509d" stroke-width="1.0" stroke-linejoin="round"/>
<polygon points="520.3,339.5 527.1,337.7 522.0,330.6 515.1,332.4" fill="#9b9342" stroke="#9b9342" stroke-width="1.0" stroke-linejoin="round"/>
<polygon points="357.0,261.4 364.3,256.9 359.6,241.0 352.3,245.5" fill="#a37473" stroke="#a37473" stroke-width="1.0" stroke-linejoin="round"/>
<polygon points="280.0,184.0 287.6,181.2 283.1,169.8 275.6,172.6" fill="#ac5899" stroke="#ac5899" stroke-width="1.0" stroke-linejoin="round"/>
<polygon points="256.0,167.2 263.6,164.7 259.3,155.1 251.7,157.5" fill="#ac529c" stroke="#ac529c" stroke-width="1.0" stroke-linejoin="round"/>
<polygon points="268.0,175.2 275.6,172.6 271.2,162.1 263.6,164.7" fill="#ac559b" stroke="#ac559b" stroke-width="1.0" stroke-linejoin="round"/>
<polygon points="441.0,311.8 448.1,307.9 443.2,298.4 436.1,302.7" fill="#9f8a55" stroke="#9f8a55" stroke-width="1.0" stroke-linejoin="round"/>
<polygon points="121.3,122.2 129.3,120.6 125.6,116.1 117.6,117.7" fill="#a944a0" stroke="#a944a0" stroke-width="1.0" stroke-linejoin="round"/>
<polygon points="176.6,134.6 184.4,132.8 180.5,127.0 172.6,128.8" fill="#aa489f" stroke="#aa489f" stroke-width="1.0" stroke-linejoin="round"/>
<polygon points="344.9,249.7 352.3,245.5 347.6,230.6 340.2,234.8" fill="#a47079" stroke="#a47079" stroke-width="1.0" stroke-linejoin="round"/>
<polygon points="453.0,316.4 460.1,313.0 455.2,304.2 448.1,307.9" fill="#9e8c52" stroke="#9e8c52" stroke-width="1.0" stroke-linejoin="round"/>
<polygon points="332.8,238.6 340.2,234.8 335.6,221.0 328.2,224.9" fill="#a66c80" stroke="#a66c80" stroke-width="1.0" stroke-linejoin="round"/>
<polygon points="188.4,139.0 196.3,137.1 192.3,130.9 184.4,132.8" fill="#ab499f" stroke="#ab499f" stroke-width="1.0" stroke-linejoin="round"/>
<polygon points="133.1,125.3 141.1,123.7 137.3,119.0 129.3,120.6" fill="#aa459f" stroke="#aa459f" stroke-width="1.0" stroke-linejoin="round"/>
<polygon points="465.1,321.2 472.1,318.3 467.1,309.9 460.1,313.0" fill="#9e8e4f" stroke="#9e8e4f" stroke-width="1.0" stroke-linejoin="round"/>
<polygon points="320.8,228.5 328.2,224.9 323.6,211.3 316.2,215.0" fill="#a86887" stroke="#a86887" stroke-width="1.0" stroke-linejoin="round"/>
<polygon points="385.7,295.3 393.0,290.4 388.2,276.8 381.0,282.0" fill="#a08262" stroke="#a08262" stroke-width="1.0" stroke-linejoin="round"/>
<polygon points="397.8,302.1 405.0,297.1 400.2,285.1 393.0,290.4" fill="#a0855d" stroke="#a0855d" stroke-width="1.0" stroke-linejoin="round"/>
<polygon points="200.4,143.9 208.2,141.9 204.1,135.2 196.3,137.1" fill="#ab4b9f" stroke="#ab4b9f" stroke-width="1.0" stroke-linejoin="round"/>
<polygon points="373.7,286.7 381.0,282.0 376.3,267.3 369.0,272.2" fill="#a17e66" stroke="#a17e66" stroke-width="1.0" stroke-linejoin="round"/>
<polygon points="477.1,326.1 484.1,323.6 479.1,315.6 472.1,318.3" fill="#9d904b" stroke="#9d904b" stroke-width="1.0" stroke-linejoin="round"/>
<polygon points="308.7,218.3 316.2,215.0 311.6,200.8 304.1,204.2" fill="#aa648e" stroke="#aa648e" stroke-width="1.0" stroke-linejoin="round"/>
<polygon points="409.8,307.3 417.0,302.5 412.2,291.9 405.0,297.1" fill="#9f875a" stroke="#9f875a" stroke-width="1.0" stroke-linejoin="round"/>
<polygon points="144.9,128.6 152.9,127.0 149.1,122.0 141.1,123.7" fill="#aa469f" stroke="#aa469f" stroke-width="1.0" stroke-linejoin="round"/>
<polygon points="361.7,276.6 369.0,272.2 364.3,256.9 357.0,261.4" fill="#a27a6c" stroke="#a27a6c" stroke-width="1.0" stroke-linejoin="round"/>
<polygon points="212.3,149.3 220.1,147.3 215.9,139.9 208.2,141.9" fill="#ac4c9e" stroke="#ac4c9e" stroke-width="1.0" stroke-linejoin="round"/>
<polygon points="489.2,331.1 496.2,329.0 491.1,321.3 484.1,323.6" fill="#9d9248" stroke="#9d9248" stroke-width="1.0" stroke-linejoin="round"/>
<polygon points="296.6,207.2 304.1,204.2 299.6,190.6 292.1,193.7" fill="#ac6095" stroke="#ac6095" stroke-width="1.0" stroke-linejoin="round"/>
<polygon points="421.8,311.9 429.0,307.3 424.1,297.5 417.0,302.5" fill="#9f8956" stroke="#9f8956" stroke-width="1.0" stroke-linejoin="round"/>
<polygon points="224.3,155.3 232.0,153.3 227.8,145.2 220.1,147.3" fill="#ac4e9e" stroke="#ac4e9e" stroke-width="1.0" stroke-linejoin="round"/>
<polygon points="501.3,336.2 508.2,334.3 503.1,326.9 496.2,329.0" fill="#9c9245" stroke="#9c9245" stroke-width="1.0" stroke-linejoin="round"/>
<polygon points="349.6,265.4 357.0,261.4 352.3,245.5 344.9,249.7" fill="#a27572" stroke="#a27572" stroke-width="1.0" stroke-linejoin="round"/>
<polygon points="284.5,196.5 292.1,193.7 287.6,181.2 280.0,184.0" fill="#ac5c97" stroke="#ac5c97" stroke-width="1.0" stroke-linejoin="round"/>
<polygon points="156.8,132.3 164.7,130.6 160.8,125.3 152.9,127.0" fill="#aa479f" stroke="#aa479f" stroke-width="1.0" stroke-linejoin="round"/>
<polygon points="236.3,162.0 244.0,159.9 239.7,151.0 232.0,153.3" fill="#ac509d" stroke="#ac509d" stroke-width="1.0" stroke-linejoin="round"/>
<polygon points="433.9,316.0 441.0,311.8 436.1,302.7 429.0,307.3" fill="#9e8b53" stroke="#9e8b53" stroke-width="1.0" stroke-linejoin="round"/>
<polygon points="272.4,186.6 280.0,184.0 275.6,172.6 268.0,175.2" fill="#ac5999" stroke="#ac5999" stroke-width="1.0" stroke-linejoin="round"/>
<polygon points="248.3,169.5 256.0,167.2 251.7,157.5 244.0,159.9" fill="#ac539c" stroke="#ac539c" stroke-width="1.0" stroke-linejoin="round"/>
<polygon points="260.4,177.6 268.0,175.2 263.6,164.7 256.0,167.2" fill="#ac569a" stroke="#ac569a" stroke-width="1.0" stroke-linejoin="round"/>
<polygon points="513.4,341.3 520.3,339.5 515.1,332.4 508.2,334.3" fill="#9b9342" stroke="#9b9342" stroke-width="1.0" stroke-linejoin="round"/>
<polygon points="113.3,125.2 121.3,122.2 117.6,117.7 109.6,120.9" fill="#a945a0" stroke="#a945a0" stroke-width="1.0" stroke-linejoin="round"/>
<polygon points="337.5,253.4 344.9,249.7 340.2,234.8 332.8,238.6" fill="#a37178" stroke="#a37178" stroke-width="1.0" stroke-linejoin="round"/>
<polygon points="168.6,136.3 176.6,134.6 172.6,128.8 164.7,130.6" fill="#aa489f" stroke="#aa489f" stroke-width="1.0" stroke-linejoin="round"/>
<polygon points="445.9,320.1 453.0,316.4 448.1,307.9 441.0,311.8" fill="#9e8d51" stroke="#9e8d51" stroke-width="1.0" stroke-linejoin="round"/>
<polygon points="325.4,242.1 332.8,238.6 328.2,224.9 320.8,228.5" fill="#a56d7f" stroke="#a56d7f" stroke-width="1.0" stroke-linejoin="round"/>
<polygon points="378.4,299.7 385.7,295.3 381.0,282.0 373.7,286.7" fill="#a08360" stroke="#a08360" stroke-width="1.0" stroke-linejoin="round"/>
<polygon points="390.5,306.7 397.8,302.1 393.0,290.4 385.7,295.3" fill="#a0865b" stroke="#a0865b" stroke-width="1.0" stroke-linejoin="round"/>
<polygon points="180.5,140.8 188.4,139.0 184.4,132.8 176.6,134.6" fill="#ab4a9f" stroke="#ab4a9f" stroke-width="1.0" stroke-linejoin="round"/>
<polygon points="458.0,324.3 465.1,321.2 460.1,313.0 453.0,316.4" fill="#9e8f4e" stroke="#9e8f4e" stroke-width="1.0" stroke-linejoin="round"/>
<polygon points="313.3,231.8 320.8,228.5 316.2,215.0 308.7,218.3" fill="#a76985" stroke="#a76985" stroke-width="1.0" stroke-linejoin="round"/>
<polygon points="125.0,126.9 133.1,125.3 129.3,120.6 121.3,122.2" fill="#aa459f" stroke="#aa459f" stroke-width="1.0" stroke-linejoin="round"/>
<polygon points="366.4,290.9 373.7,286.7 369.0,272.2 361.7,276.6" fill="#a17f65" stroke="#a17f65" stroke-width="1.0" stroke-linejoin="round"/>
<polygon points="402.5,312.0 409.8,307.3 405.0,297.1 397.8,302.1" fill="#9f8957" stroke="#9f8957" stroke-width="1.0" stroke-linejoin="round"/>
<polygon points="301.2,221.4 308.7,218.3 304.1,204.2 296.6,207.2" fill="#a9658c" stroke="#a9658c" stroke-width="1.0" stroke-linejoin="round"/>
<polygon points="192.5,145.7 200.4,143.9 196.3,137.1 188.4,139.0" fill="#ab4b9f" stroke="#ab4b9f" stroke-width="1.0" stroke-linejoin="round"/>
<polygon points="470.1,328.7 477.1,326.1 472.1,318.3 465.1,321.2" fill="#9d904b" stroke="#9d904b" stroke-width="1.0" stroke-linejoin="round"/>
<polygon points="354.3,280.5 361.7,276.6 357.0,261.4 349.6,265.4" fill="#a17b6a" stroke="#a17b6a" stroke-width="1.0" stroke-linejoin="round"/>
<polygon points="414.6,316.4 421.8,311.9 417.0,302.5 409.8,307.3" fill="#9f8b54" stroke="#9f8b54" stroke-width="1.0" stroke-linejoin="round"/>
<polygon points="136.9,130.2 144.9,128.6 141.1,123.7 133.1,125.3" fill="#aa469f" stroke="#aa469f" stroke-width="1.0" stroke-linejoin="round"/>
<polygon points="204.5,151.2 212.3,149.3 208.2,141.9 200.4,143.9" fill="#ac4d9e" stroke="#ac4d9e" stroke-width="1.0" stroke-linejoin="round"/>
<polygon points="289.1,210.0 296.6,207.2 292.1,193.7 284.5,196.5" fill="#ab6094" stroke="#ab6094" stroke-width="1.0" stroke-linejoin="round"/>
<polygon points="482.2,333.3 489.2,331.1 484.1,323.6 477.1,326.1" fill="#9d9248" stroke="#9d9248" stroke-width="1.0" stroke-linejoin="round"/>
<polygon points="342.2,269.0 349.6,265.4 344.9,249.7 337.5,253.4" fill="#a27670" stroke="#a27670" stroke-width="1.0" stroke-linejoin="round"/>
<polygon points="216.5,157.3 224.3,155.3 220.1,147.3 212.3,149.3" fill="#ac4e9e" stroke="#ac4e9e" stroke-width="1.0" stroke-linejoin="round"/>
<polygon points="426.7,320.3 433.9,316.0 429.0,307.3 421.8,311.9" fill="#9e8c52" stroke="#9e8c52" stroke-width="1.0" stroke-linejoin="round"/>
<polygon points="276.9,199.1 284.5,196.5 280.0,184.0 272.4,186.6" fill="#ac5c97" stroke="#ac5c97" stroke-width="1.0" stroke-linejoin="round"/>
<polygon points="494.3,338.2 501.3,336.2 496.2,329.0 489.2,331.1" fill="#9c9245" stroke="#9c9245" stroke-width="1.0" stroke-linejoin="round"/>
<polygon points="148.7,133.9 156.8,132.3 152.9,127.0 144.9,128.6" fill="#aa479f" stroke="#aa479f" stroke-width="1.0" stroke-linejoin="round"/>
<polygon points="228.5,164.1 236.3,162.0 232.0,153.3 224.3,155.3" fill="#ac519d" stroke="#ac519d" stroke-width="1.0" stroke-linejoin="round"/>
<polygon points="264.8,189.1 272.4,186.6 268.0,175.2 260.4,177.6" fill="#ac5999" stroke="#ac5999" stroke-width="1.0" stroke-linejoin="round"/>
<polygon points="240.6,171.6 248.3,169.5 244.0,159.9 236.3,162.0" fill="#ac539c" stroke="#ac539c" stroke-width="1.0" stroke-linejoin="round"/>
<polygon points="252.7,179.9 260.4,177.6 256.0,167.2 248.3,169.5" fill="#ac569a" stroke="#ac569a" stroke-width="1.0" stroke-linejoin="round"/>
<polygon points="330.1,256.7 337.5,253.4 332.8,238.6 325.4,242.1" fill="#a37276" stroke="#a37276" stroke-width="1.0" stroke-linejoin="round"/>
<polygon points="506.4,343.1 513.4,341.3 508.2,334.3 501.3,336.2" fill="#9a9342" stroke="#9a9342" stroke-width="1.0" stroke-linejoin="round"/>
<polygon points="438.8,323.9 445.9,320.1 441.0,311.8 433.9,316.0" fill="#9e8e4f" stroke="#9e8e4f" stroke-width="1.0" stroke-linejoin="round"/>
<polygon points="160.7,138.0 168.6,136.3 164.7,130.6 156.8,132.3" fill="#aa499f" stroke="#aa499f" stroke-width="1.0" stroke-linejoin="round"/>
<polygon points="317.9,245.2 325.4,242.1 320.8,228.5 313.3,231.8" fill="#a56d7d" stroke="#a56d7d" stroke-width="1.0" stroke-linejoin="round"/>
<polygon points="371.1,303.7 378.4,299.7 373.7,286.7 366.4,290.9" fill="#a0845e" stroke="#a0845e" stroke-width="1.0" stroke-linejoin="round"/>
<polygon points="383.2,310.9 390.5,306.7 385.7,295.3 378.4,299.7" fill="#9f8859" stroke="#9f8859" stroke-width="1.0" stroke-linejoin="round"/>
<polygon points="450.9,327.6 458.0,324.3 453.0,316.4 445.9,320.1" fill="#9e8f4d" stroke="#9e8f4d" stroke-width="1.0" stroke-linejoin="round"/>
<polygon points="359.0,294.6 366.4,290.9 361.7,276.6 354.3,280.5" fill="#a18063" stroke="#a18063" stroke-width="1.0" stroke-linejoin="round"/>
<polygon points="395.3,316.4 402.5,312.0 397.8,302.1 390.5,306.7" fill="#9f8a55" stroke="#9f8a55" stroke-width="1.0" stroke-linejoin="round"/>
<polygon points="305.8,234.7 313.3,231.8 308.7,218.3 301.2,221.4" fill="#a76984" stroke="#a76984" stroke-width="1.0" stroke-linejoin="round"/>
<polygon points="117.0,129.8 125.0,126.9 121.3,122.2 113.3,125.2" fill="#aa469f" stroke="#aa469f" stroke-width="1.0" stroke-linejoin="round"/>
<polygon points="172.6,142.5 180.5,140.8 176.6,134.6 168.6,136.3" fill="#ab4a9f" stroke="#ab4a9f" stroke-width="1.0" stroke-linejoin="round"/>
<polygon points="346.9,283.9 354.3,280.5 349.6,265.4 342.2,269.0" fill="#a17c69" stroke="#a17c69" stroke-width="1.0" stroke-linejoin="round"/>
<polygon points="293.6,224.1 301.2,221.4 296.6,207.2 289.1,210.0" fill="#a9658b" stroke="#a9658b" stroke-width="1.0" stroke-linejoin="round"/>
<polygon points="407.3,320.8 414.6,316.4 409.8,307.3 402.5,312.0" fill="#9e8c52" stroke="#9e8c52" stroke-width="1.0" stroke-linejoin="round"/>
<polygon points="463.0,331.5 470.1,328.7 465.1,321.2 458.0,324.3" fill="#9d914a" stroke="#9d914a" stroke-width="1.0" stroke-linejoin="round"/>
<polygon points="184.6,147.5 192.5,145.7 188.4,139.0 180.5,140.8" fill="#ab4b9e" stroke="#ab4b9e" stroke-width="1.0" stroke-linejoin="round"/>
<polygon points="128.8,131.8 136.9,130.2 133.1,125.3 125.0,126.9" fill="#aa469f" stroke="#aa469f" stroke-width="1.0" stroke-linejoin="round"/>
<polygon points="281.5,212.6 289.1,210.0 284.5,196.5 276.9,199.1" fill="#ab6193" stroke="#ab6193" stroke-width="1.0" stroke-linejoin="round"/>
<polygon points="196.6,153.0 204.5,151.2 200.4,143.9 192.5,145.7" fill="#ac4d9e" stroke="#ac4d9e" stroke-width="1.0" stroke-linejoin="round"/>
<polygon points="334.7,272.1 342.2,269.0 337.5,253.4 330.1,256.7" fill="#a2776f" stroke="#a2776f" stroke-width="1.0" stroke-linejoin="round"/>
<polygon points="475.1,335.7 482.2,333.3 477.1,326.1 470.1,328.7" fill="#9d9247" stroke="#9d9247" stroke-width="1.0" stroke-linejoin="round"/>
<polygon points="419.4,324.4 426.7,320.3 421.8,311.9 414.6,316.4" fill="#9e8d50" stroke="#9e8d50" stroke-width="1.0" stroke-linejoin="round"/>
<polygon points="269.3,201.5 276.9,199.1 272.4,186.6 264.8,189.1" fill="#ac5d97" stroke="#ac5d97" stroke-width="1.0" stroke-linejoin="round"/>
<polygon points="208.6,159.2 216.5,157.3 212.3,149.3 204.5,151.2" fill="#ac4f9e" stroke="#ac4f9e" stroke-width="1.0" stroke-linejoin="round"/>
<polygon points="487.3,340.2 494.3,338.2 489.2,331.1 482.2,333.3" fill="#9c9245" stroke="#9c9245" stroke-width="1.0" stroke-linejoin="round"/>
<polygon points="220.7,166.1 228.5,164.1 224.3,155.3 216.5,157.3" fill="#ac519d" stroke="#ac519d" stroke-width="1.0" stroke-linejoin="round"/>
<polygon points="257.1,191.4 264.8,189.1 260.4,177.6 252.7,179.9" fill="#ac5999" stroke="#ac5999" stroke-width="1.0" stroke-linejoin="round"/>
<polygon points="140.7,135.5 148.7,133.9 144.9,128.6 136.9,130.2" fill="#aa489f" stroke="#aa489f" stroke-width="1.0" stroke-linejoin="round"/>
<polygon points="322.6,259.6 330.1,256.7 325.4,242.1 317.9,245.2" fill="#a37275" stroke="#a37275" stroke-width="1.0" stroke-linejoin="round"/>
<polygon points="232.8,173.7 240.6,171.6 236.3,162.0 228.5,164.1" fill="#ac539b" stroke="#ac539b" stroke-width="1.0" stroke-linejoin="round"/>
<polygon points="244.9,182.1 252.7,179.9 248.3,169.5 240.6,171.6" fill="#ac569a" stroke="#ac569a" stroke-width="1.0" stroke-linejoin="round"/>
<polygon points="431.6,327.7 438.8,323.9 433.9,316.0 426.7,320.3" fill="#9e8f4d" stroke="#9e8f4d" stroke-width="1.0" stroke-linejoin="round"/>
<polygon points="499.4,344.9 506.4,343.1 501.3,336.2 494.3,338.2" fill="#9a9342" stroke="#9a9342" stroke-width="1.0" stroke-linejoin="round"/>
<polygon points="375.8,314.7 383.2,310.9 378.4,299.7 371.1,303.7" fill="#9f8958" stroke="#9f8958" stroke-width="1.0" stroke-linejoin="round"/>
<polygon points="363.7,307.3 371.1,303.7 366.4,290.9 359.0,294.6" fill="#a0855d" stroke="#a0855d" stroke-width="1.0" stroke-linejoin="round"/>
<polygon points="310.4,248.0 317.9,245.2 313.3,231.8 305.8,234.7" fill="#a56e7c" stroke="#a56e7c" stroke-width="1.0" stroke-linejoin="round"/>
<polygon points="152.6,139.6 160.7,138.0 156.8,132.3 148.7,133.9" fill="#ab499f" stroke="#ab499f" stroke-width="1.0" stroke-linejoin="round"/>
<polygon points="387.9,320.4 395.3,316.4 390.5,306.7 383.2,310.9" fill="#9e8b53" stroke="#9e8b53" stroke-width="1.0" stroke-linejoin="round"/>
<polygon points="351.6,298.0 359.0,294.6 354.3,280.5 346.9,283.9" fill="#a08162" stroke="#a08162" stroke-width="1.0" stroke-linejoin="round"/>
<polygon points="443.7,331.0 450.9,327.6 445.9,320.1 438.8,323.9" fill="#9d904b" stroke="#9d904b" stroke-width="1.0" stroke-linejoin="round"/>
<polygon points="298.2,237.4 305.8,234.7 301.2,221.4 293.6,224.1" fill="#a76a83" stroke="#a76a83" stroke-width="1.0" stroke-linejoin="round"/>
<polygon points="164.6,144.1 172.6,142.5 168.6,136.3 160.7,138.0" fill="#ab4a9f" stroke="#ab4a9f" stroke-width="1.0" stroke-linejoin="round"/>
<polygon points="400.1,324.9 407.3,320.8 402.5,312.0 395.3,316.4" fill="#9e8d50" stroke="#9e8d50" stroke-width="1.0" stroke-linejoin="round"/>
<polygon points="339.4,287.0 346.9,283.9 342.2,269.0 334.7,272.1" fill="#a17d68" stroke="#a17d68" stroke-width="1.0" stroke-linejoin="round"/>
<polygon points="286.0,226.7 293.6,224.1 289.1,210.0 281.5,212.6" fill="#a9668b" stroke="#a9668b" stroke-width="1.0" stroke-linejoin="round"/>
<polygon points="455.9,334.4 463.0,331.5 458.0,324.3 450.9,327.6" fill="#9d9149" stroke="#9d9149" stroke-width="1.0" stroke-linejoin="round"/>
<polygon points="176.6,149.2 184.6,147.5 180.5,140.8 172.6,142.5" fill="#ab4b9e" stroke="#ab4b9e" stroke-width="1.0" stroke-linejoin="round"/>
<polygon points="412.2,328.5 419.4,324.4 414.6,316.4 407.3,320.8" fill="#9e8e4e" stroke="#9e8e4e" stroke-width="1.0" stroke-linejoin="round"/>
<polygon points="120.7,134.5 128.8,131.8 125.0,126.9 117.0,129.8" fill="#aa479f" stroke="#aa479f" stroke-width="1.0" stroke-linejoin="round"/>
<polygon points="273.8,215.0 281.5,212.6 276.9,199.1 269.3,201.5" fill="#ab6192" stroke="#ab6192" stroke-width="1.0" stroke-linejoin="round"/>
<polygon points="327.2,274.9 334.7,272.1 330.1,256.7 322.6,259.6" fill="#a2786e" stroke="#a2786e" stroke-width="1.0" stroke-linejoin="round"/>
<polygon points="188.7,154.8 196.6,153.0 192.5,145.7 184.6,147.5" fill="#ac4d9e" stroke="#ac4d9e" stroke-width="1.0" stroke-linejoin="round"/>
<polygon points="468.0,338.2 475.1,335.7 470.1,328.7 463.0,331.5" fill="#9c9247" stroke="#9c9247" stroke-width="1.0" stroke-linejoin="round"/>
<polygon points="261.6,203.8 269.3,201.5 264.8,189.1 257.1,191.4" fill="#ac5d97" stroke="#ac5d97" stroke-width="1.0" stroke-linejoin="round"/>
<polygon points="200.7,161.0 208.6,159.2 204.5,151.2 196.6,153.0" fill="#ac4f9e" stroke="#ac4f9e" stroke-width="1.0" stroke-linejoin="round"/>
<polygon points="424.3,331.5 431.6,327.7 426.7,320.3 419.4,324.4" fill="#9e904c" stroke="#9e904c" stroke-width="1.0" stroke-linejoin="round"/>
<polygon points="249.4,193.5 257.1,191.4 252.7,179.9 244.9,182.1" fill="#ac5a98" stroke="#ac5a98" stroke-width="1.0" stroke-linejoin="round"/>
<polygon points="315.0,262.3 322.6,259.6 317.9,245.2 310.4,248.0" fill="#a37375" stroke="#a37375" stroke-width="1.0" stroke-linejoin="round"/>
<polygon points="212.9,167.9 220.7,166.1 216.5,157.3 208.6,159.2" fill="#ac519d" stroke="#ac519d" stroke-width="1.0" stroke-linejoin="round"/>
<polygon points="480.2,342.3 487.3,340.2 482.2,333.3 475.1,335.7" fill="#9b9244" stroke="#9b9244" stroke-width="1.0" stroke-linejoin="round"/>
<polygon points="132.6,137.0 140.7,135.5 136.9,130.2 128.8,131.8" fill="#aa489f" stroke="#aa489f" stroke-width="1.0" stroke-linejoin="round"/>
<polygon points="237.2,184.1 244.9,182.1 240.6,171.6 232.8,173.7" fill="#ac579a" stroke="#ac579a" stroke-width="1.0" stroke-linejoin="round"/>
<polygon points="225.0,175.6 232.8,173.7 228.5,164.1 220.7,166.1" fill="#ac549b" stroke="#ac549b" stroke-width="1.0" stroke-linejoin="round"/>
<polygon points="368.5,318.1 375.8,314.7 371.1,303.7 363.7,307.3" fill="#9f8956" stroke="#9f8956" stroke-width="1.0" stroke-linejoin="round"/>
<polygon points="356.3,310.5 363.7,307.3 359.0,294.6 351.6,298.0" fill="#a0865c" stroke="#a0865c" stroke-width="1.0" stroke-linejoin="round"/>
<polygon points="302.8,250.5 310.4,248.0 305.8,234.7 298.2,237.4" fill="#a46e7b" stroke="#a46e7b" stroke-width="1.0" stroke-linejoin="round"/>
<polygon points="380.6,324.0 387.9,320.4 383.2,310.9 375.8,314.7" fill="#9e8c52" stroke="#9e8c52" stroke-width="1.0" stroke-linejoin="round"/>
<polygon points="492.4,346.8 499.4,344.9 494.3,338.2 487.3,340.2" fill="#9a9342" stroke="#9a9342" stroke-width="1.0" stroke-linejoin="round"/>
<polygon points="436.5,334.4 443.7,331.0 438.8,323.9 431.6,327.7" fill="#9d914a" stroke="#9d914a" stroke-width="1.0" stroke-linejoin="round"/>
<polygon points="144.6,141.2 152.6,139.6 148.7,133.9 140.7,135.5" fill="#ab499f" stroke="#ab499f" stroke-width="1.0" stroke-linejoin="round"/>
<polygon points="344.1,300.9 351.6,298.0 346.9,283.9 339.4,287.0" fill="#a08262" stroke="#a08262" stroke-width="1.0" stroke-linejoin="round"/>
<polygon points="290.6,239.8 298.2,237.4 293.6,224.1 286.0,226.7" fill="#a66a82" stroke="#a66a82" stroke-width="1.0" stroke-linejoin="round"/>
<polygon points="392.7,328.6 400.1,324.9 395.3,316.4 387.9,320.4" fill="#9e8e4f" stroke="#9e8e4f" stroke-width="1.0" stroke-linejoin="round"/>
<polygon points="156.6,145.7 164.6,144.1 160.7,138.0 152.6,139.6" fill="#ab4a9f" stroke="#ab4a9f" stroke-width="1.0" stroke-linejoin="round"/>
<polygon points="331.9,289.7 339.4,287.0 334.7,272.1 327.2,274.9" fill="#a17d67" stroke="#a17d67" stroke-width="1.0" stroke-linejoin="round"/>
<polygon points="278.4,229.0 286.0,226.7 281.5,212.6 273.8,215.0" fill="#a8668a" stroke="#a8668a" stroke-width="1.0" stroke-linejoin="round"/>
<polygon points="448.7,337.4 455.9,334.4 450.9,327.6 443.7,331.0" fill="#9d9248" stroke="#9d9248" stroke-width="1.0" stroke-linejoin="round"/>
<polygon points="404.9,332.3 412.2,328.5 407.3,320.8 400.1,324.9" fill="#9e8f4c" stroke="#9e8f4c" stroke-width="1.0" stroke-linejoin="round"/>
<polygon points="168.6,150.8 176.6,149.2 172.6,142.5 164.6,144.1" fill="#ab4c9e" stroke="#ab4c9e" stroke-width="1.0" stroke-linejoin="round"/>
<polygon points="266.1,217.2 273.8,215.0 269.3,201.5 261.6,203.8" fill="#ab6291" stroke="#ab6291" stroke-width="1.0" stroke-linejoin="round"/>
<polygon points="319.7,277.5 327.2,274.9 322.6,259.6 315.0,262.3" fill="#a2786e" stroke="#a2786e" stroke-width="1.0" stroke-linejoin="round"/>
<polygon points="460.9,340.8 468.0,338.2 463.0,331.5 455.9,334.4" fill="#9c9246" stroke="#9c9246" stroke-width="1.0" stroke-linejoin="round"/>
<polygon points="180.7,156.4 188.7,154.8 184.6,147.5 176.6,149.2" fill="#ac4d9e" stroke="#ac4d9e" stroke-width="1.0" stroke-linejoin="round"/>
<polygon points="253.8,205.9 261.6,203.8 257.1,191.4 249.4,193.5" fill="#ac5e97" stroke="#ac5e97" stroke-width="1.0" stroke-linejoin="round"/>
<polygon points="417.1,335.2 424.3,331.5 419.4,324.4 412.2,328.5" fill="#9d914a" stroke="#9d914a" stroke-width="1.0" stroke-linejoin="round"/>
<polygon points="192.8,162.7 200.7,161.0 196.6,153.0 188.7,154.8" fill="#ac4f9e" stroke="#ac4f9e" stroke-width="1.0" stroke-linejoin="round"/>
<polygon points="307.4,264.7 315.0,262.3 310.4,248.0 302.8,250.5" fill="#a37374" stroke="#a37374" stroke-width="1.0" stroke-linejoin="round"/>
<polygon points="241.6,195.5 249.4,193.5 244.9,182.1 237.2,184.1" fill="#ac5a98" stroke="#ac5a98" stroke-width="1.0" stroke-linejoin="round"/>
<polygon points="205.0,169.7 212.9,167.9 208.6,159.2 200.7,161.0" fill="#ac519c" stroke="#ac519c" stroke-width="1.0" stroke-linejoin="round"/>
<polygon points="124.5,139.6 132.6,137.0 128.8,131.8 120.7,134.5" fill="#aa489f" stroke="#aa489f" stroke-width="1.0" stroke-linejoin="round"/>
<polygon points="473.1,344.5 480.2,342.3 475.1,335.7 468.0,338.2" fill="#9b9244" stroke="#9b9244" stroke-width="1.0" stroke-linejoin="round"/>
<polygon points="229.3,186.0 237.2,184.1 232.8,173.7 225.0,175.6" fill="#ac579a" stroke="#ac579a" stroke-width="1.0" stroke-linejoin="round"/>
<polygon points="217.1,177.5 225.0,175.6 220.7,166.1 212.9,167.9" fill="#ac549b" stroke="#ac549b" stroke-width="1.0" stroke-linejoin="round"/>
<polygon points="361.0,321.2 368.5,318.1 363.7,307.3 356.3,310.5" fill="#9f8a55" stroke="#9f8a55" stroke-width="1.0" stroke-linejoin="round"/>
<polygon points="348.8,313.3 356.3,310.5 351.6,298.0 344.1,300.9" fill="#9f875b" stroke="#9f875b" stroke-width="1.0" stroke-linejoin="round"/>
<polygon points="373.2,327.3 380.6,324.0 375.8,314.7 368.5,318.1" fill="#9e8d51" stroke="#9e8d51" stroke-width="1.0" stroke-linejoin="round"/>
<polygon points="295.2,252.8 302.8,250.5 298.2,237.4 290.6,239.8" fill="#a46f7b" stroke="#a46f7b" stroke-width="1.0" stroke-linejoin="round"/>
<polygon points="429.2,337.9 436.5,334.4 431.6,327.7 424.3,331.5" fill="#9d9249" stroke="#9d9249" stroke-width="1.0" stroke-linejoin="round"/>
<polygon points="336.6,303.6 344.1,300.9 339.4,287.0 331.9,289.7" fill="#a08361" stroke="#a08361" stroke-width="1.0" stroke-linejoin="round"/>
<polygon points="485.3,348.6 492.4,346.8 487.3,340.2 480.2,342.3" fill="#9a9342" stroke="#9a9342" stroke-width="1.0" stroke-linejoin="round"/>
<polygon points="136.4,142.7 144.6,141.2 140.7,135.5 132.6,137.0" fill="#ab499f" stroke="#ab499f" stroke-width="1.0" stroke-linejoin="round"/>
<polygon points="385.4,332.1 392.7,328.6 387.9,320.4 380.6,324.0" fill="#9e8f4d" stroke="#9e8f4d" stroke-width="1.0" stroke-linejoin="round"/>
<polygon points="282.9,242.1 290.6,239.8 286.0,226.7 278.4,229.0" fill="#a66b82" stroke="#a66b82" stroke-width="1.0" stroke-linejoin="round"/>
<polygon points="324.4,292.2 331.9,289.7 327.2,274.9 319.7,277.5" fill="#a17e67" stroke="#a17e67" stroke-width="1.0" stroke-linejoin="round"/>
<polygon points="441.5,340.5 448.7,337.4 443.7,331.0 436.5,334.4" fill="#9d9247" stroke="#9d9247" stroke-width="1.0" stroke-linejoin="round"/>
<polygon points="148.5,147.3 156.6,145.7 152.6,139.6 144.6,141.2" fill="#ab4a9f" stroke="#ab4a9f" stroke-width="1.0" stroke-linejoin="round"/>
<polygon points="270.6,231.2 278.4,229.0 273.8,215.0 266.1,217.2" fill="#a86689" stroke="#a86689" stroke-width="1.0" stroke-linejoin="round"/>
<polygon points="397.5,335.8 404.9,332.3 400.1,324.9 392.7,328.6" fill="#9d904b" stroke="#9d904b" stroke-width="1.0" stroke-linejoin="round"/>
<polygon points="160.5,152.4 168.6,150.8 164.6,144.1 156.6,145.7" fill="#ab4c9e" stroke="#ab4c9e" stroke-width="1.0" stroke-linejoin="round"/>
<polygon points="312.1,279.8 319.7,277.5 315.0,262.3 307.4,264.7" fill="#a2796d" stroke="#a2796d" stroke-width="1.0" stroke-linejoin="round"/>
<polygon points="258.3,219.3 266.1,217.2 261.6,203.8 253.8,205.9" fill="#aa6291" stroke="#aa6291" stroke-width="1.0" stroke-linejoin="round"/>
<polygon points="453.7,343.4 460.9,340.8 455.9,334.4 448.7,337.4" fill="#9c9245" stroke="#9c9245" stroke-width="1.0" stroke-linejoin="round"/>
<polygon points="409.7,338.7 417.1,335.2 412.2,328.5 404.9,332.3" fill="#9d9149" stroke="#9d9149" stroke-width="1.0" stroke-linejoin="round"/>
<polygon points="172.7,158.1 180.7,156.4 176.6,149.2 168.6,150.8" fill="#ac4d9e" stroke="#ac4d9e" stroke-width="1.0" stroke-linejoin="round"/>
<polygon points="246.0,207.9 253.8,205.9 249.4,193.5 241.6,195.5" fill="#ac5e97" stroke="#ac5e97" stroke-width="1.0" stroke-linejoin="round"/>
<polygon points="184.8,164.4 192.8,162.7 188.7,154.8 180.7,156.4" fill="#ac4f9d" stroke="#ac4f9d" stroke-width="1.0" stroke-linejoin="round"/>
<polygon points="299.8,266.9 307.4,264.7 302.8,250.5 295.2,252.8" fill="#a37474" stroke="#a37474" stroke-width="1.0" stroke-linejoin="round"/>
<polygon points="233.7,197.4 241.6,195.5 237.2,184.1 229.3,186.0" fill="#ac5a98" stroke="#ac5a98" stroke-width="1.0" stroke-linejoin="round"/>
<polygon points="197.0,171.4 205.0,169.7 200.7,161.0 192.8,162.7" fill="#ac529c" stroke="#ac529c" stroke-width="1.0" stroke-linejoin="round"/>
<polygon points="353.5,323.9 361.0,321.2 356.3,310.5 348.8,313.3" fill="#9f8b54" stroke="#9f8b54" stroke-width="1.0" stroke-linejoin="round"/>
<polygon points="466.0,346.7 473.1,344.5 468.0,338.2 460.9,340.8" fill="#9b9344" stroke="#9b9344" stroke-width="1.0" stroke-linejoin="round"/>
<polygon points="221.5,187.9 229.3,186.0 225.0,175.6 217.1,177.5" fill="#ac579a" stroke="#ac579a" stroke-width="1.0" stroke-linejoin="round"/>
<polygon points="209.2,179.2 217.1,177.5 212.9,167.9 205.0,169.7" fill="#ac549b" stroke="#ac549b" stroke-width="1.0" stroke-linejoin="round"/>
<polygon points="341.3,315.9 348.8,313.3 344.1,300.9 336.6,303.6" fill="#9f875a" stroke="#9f875a" stroke-width="1.0" stroke-linejoin="round"/>
<polygon points="365.7,330.2 373.2,327.3 368.5,318.1 361.0,321.2" fill="#9e8d50" stroke="#9e8d50" stroke-width="1.0" stroke-linejoin="round"/>
<polygon points="422.0,341.2 429.2,337.9 424.3,331.5 417.1,335.2" fill="#9d9247" stroke="#9d9247" stroke-width="1.0" stroke-linejoin="round"/>
<polygon points="287.5,255.0 295.2,252.8 290.6,239.8 282.9,242.1" fill="#a46f7a" stroke="#a46f7a" stroke-width="1.0" stroke-linejoin="round"/>
<polygon points="329.1,306.0 336.6,303.6 331.9,289.7 324.4,292.2" fill="#a08360" stroke="#a08360" stroke-width="1.0" stroke-linejoin="round"/>
<polygon points="377.9,335.2 385.4,332.1 380.6,324.0 373.2,327.3" fill="#9e8f4c" stroke="#9e8f4c" stroke-width="1.0" stroke-linejoin="round"/>
<polygon points="128.3,145.1 136.4,142.7 132.6,137.0 124.5,139.6" fill="#ab499f" stroke="#ab499f" stroke-width="1.0" stroke-linejoin="round"/>
<polygon points="478.2,350.5 485.3,348.6 480.2,342.3 473.1,344.5" fill="#9a9341" stroke="#9a9341" stroke-width="1.0" stroke-linejoin="round"/>
<polygon points="275.2,244.2 282.9,242.1 278.4,229.0 270.6,231.2" fill="#a66b81" stroke="#a66b81" stroke-width="1.0" stroke-linejoin="round"/>
<polygon points="434.2,343.6 441.5,340.5 436.5,334.4 429.2,337.9" fill="#9c9246" stroke="#9c9246" stroke-width="1.0" stroke-linejoin="round"/>
<polygon points="316.8,294.5 324.4,292.2 319.7,277.5 312.1,279.8" fill="#a17e66" stroke="#a17e66" stroke-width="1.0" stroke-linejoin="round"/>
<polygon points="390.2,339.0 397.5,335.8 392.7,328.6 385.4,332.1" fill="#9d914a" stroke="#9d914a" stroke-width="1.0" stroke-linejoin="round"/>
<polygon points="140.3,148.8 148.5,147.3 144.6,141.2 136.4,142.7" fill="#ab4a9f" stroke="#ab4a9f" stroke-width="1.0" stroke-linejoin="round"/>
<polygon points="262.9,233.2 270.6,231.2 266.1,217.2 258.3,219.3" fill="#a86789" stroke="#a86789" stroke-width="1.0" stroke-linejoin="round"/>
<polygon points="152.4,153.9 160.5,152.4 156.6,145.7 148.5,147.3" fill="#ab4c9e" stroke="#ab4c9e" stroke-width="1.0" stroke-linejoin="round"/>
<polygon points="304.4,281.9 312.1,279.8 307.4,264.7 299.8,266.9" fill="#a2796d" stroke="#a2796d" stroke-width="1.0" stroke-linejoin="round"/>
<polygon points="250.5,221.3 258.3,219.3 253.8,205.9 246.0,207.9" fill="#aa6290" stroke="#aa6290" stroke-width="1.0" stroke-linejoin="round"/>
<polygon points="446.5,346.1 453.7,343.4 448.7,337.4 441.5,340.5" fill="#9c9245" stroke="#9c9245" stroke-width="1.0" stroke-linejoin="round"/>
<polygon points="402.4,342.0 409.7,338.7 404.9,332.3 397.5,335.8" fill="#9d9248" stroke="#9d9248" stroke-width="1.0" stroke-linejoin="round"/>
<polygon points="164.6,159.6 172.7,158.1 168.6,150.8 160.5,152.4" fill="#ac4d9e" stroke="#ac4d9e" stroke-width="1.0" stroke-linejoin="round"/>
<polygon points="238.2,209.7 246.0,207.9 241.6,195.5 233.7,197.4" fill="#ac5e96" stroke="#ac5e96" stroke-width="1.0" stroke-linejoin="round"/>
<polygon points="176.8,166.0 184.8,164.4 180.7,156.4 172.7,158.1" fill="#ac4f9d" stroke="#ac4f9d" stroke-width="1.0" stroke-linejoin="round"/>
<polygon points="292.1,269.0 299.8,266.9 295.2,252.8 287.5,255.0" fill="#a37473" stroke="#a37473" stroke-width="1.0" stroke-linejoin="round"/>
<polygon points="225.8,199.2 233.7,197.4 229.3,186.0 221.5,187.9" fill="#ac5b98" stroke="#ac5b98" stroke-width="1.0" stroke-linejoin="round"/>
<polygon points="346.0,326.4 353.5,323.9 348.8,313.3 341.3,315.9" fill="#9f8b54" stroke="#9f8b54" stroke-width="1.0" stroke-linejoin="round"/>
<polygon points="458.8,349.0 466.0,346.7 460.9,340.8 453.7,343.4" fill="#9b9343" stroke="#9b9343" stroke-width="1.0" stroke-linejoin="round"/>
<polygon points="189.0,173.1 197.0,171.4 192.8,162.7 184.8,164.4" fill="#ac529c" stroke="#ac529c" stroke-width="1.0" stroke-linejoin="round"/>
<polygon points="414.6,344.4 422.0,341.2 417.1,335.2 409.7,338.7" fill="#9c9246" stroke="#9c9246" stroke-width="1.0" stroke-linejoin="round"/>
<polygon points="213.5,189.6 221.5,187.9 217.1,177.5 209.2,179.2" fill="#ac579a" stroke="#ac579a" stroke-width="1.0" stroke-linejoin="round"/>
<polygon points="358.3,332.9 365.7,330.2 361.0,321.2 353.5,323.9" fill="#9e8e4f" stroke="#9e8e4f" stroke-width="1.0" stroke-linejoin="round"/>
<polygon points="333.8,318.3 341.3,315.9 336.6,303.6 329.1,306.0" fill="#9f8759" stroke="#9f8759" stroke-width="1.0" stroke-linejoin="round"/>
<polygon points="201.2,180.9 209.2,179.2 205.0,169.7 197.0,171.4" fill="#ac549b" stroke="#ac549b" stroke-width="1.0" stroke-linejoin="round"/>
<polygon points="279.7,257.1 287.5,255.0 282.9,242.1 275.2,244.2" fill="#a46f7a" stroke="#a46f7a" stroke-width="1.0" stroke-linejoin="round"/>
<polygon points="370.5,338.0 377.9,335.2 373.2,327.3 365.7,330.2" fill="#9d904b" stroke="#9d904b" stroke-width="1.0" stroke-linejoin="round"/>
<polygon points="321.5,308.3 329.1,306.0 324.4,292.2 316.8,294.5" fill="#a08360" stroke="#a08360" stroke-width="1.0" stroke-linejoin="round"/>
<polygon points="471.1,352.4 478.2,350.5 473.1,344.5 466.0,346.7" fill="#9a9341" stroke="#9a9341" stroke-width="1.0" stroke-linejoin="round"/>
<polygon points="267.4,246.2 275.2,244.2 270.6,231.2 262.9,233.2" fill="#a66b81" stroke="#a66b81" stroke-width="1.0" stroke-linejoin="round"/>
<polygon points="426.9,346.5 434.2,343.6 429.2,337.9 422.0,341.2" fill="#9c9245" stroke="#9c9245" stroke-width="1.0" stroke-linejoin="round"/>
<polygon points="382.7,342.0 390.2,339.0 385.4,332.1 377.9,335.2" fill="#9d9249" stroke="#9d9249" stroke-width="1.0" stroke-linejoin="round"/>
<polygon points="309.1,296.6 316.8,294.5 312.1,279.8 304.4,281.9" fill="#a17e66" stroke="#a17e66" stroke-width="1.0" stroke-linejoin="round"/>
<polygon points="132.2,151.1 140.3,148.8 136.4,142.7 128.3,145.1" fill="#ab4b9f" stroke="#ab4b9f" stroke-width="1.0" stroke-linejoin="round"/>
<polygon points="255.1,235.2 262.9,233.2 258.3,219.3 250.5,221.3" fill="#a86788" stroke="#a86788" stroke-width="1.0" stroke-linejoin="round"/>
<polygon points="395.0,345.0 402.4,342.0 397.5,335.8 390.2,339.0" fill="#9d9247" stroke="#9d9247" stroke-width="1.0" stroke-linejoin="round"/>
<polygon points="144.3,155.4 152.4,153.9 148.5,147.3 140.3,148.8" fill="#ab4c9e" stroke="#ab4c9e" stroke-width="1.0" stroke-linejoin="round"/>
<polygon points="439.2,348.8 446.5,346.1 441.5,340.5 434.2,343.6" fill="#9b9244" stroke="#9b9244" stroke-width="1.0" stroke-linejoin="round"/>
<polygon points="296.8,284.0 304.4,281.9 299.8,266.9 292.1,269.0" fill="#a2796d" stroke="#a2796d" stroke-width="1.0" stroke-linejoin="round"/>
<polygon points="242.7,223.2 250.5,221.3 246.0,207.9 238.2,209.7" fill="#aa6290" stroke="#aa6290" stroke-width="1.0" stroke-linejoin="round"/>
<polygon points="156.4,161.2 164.6,159.6 160.5,152.4 152.4,153.9" fill="#ac4d9e" stroke="#ac4d9e" stroke-width="1.0" stroke-linejoin="round"/>
<polygon points="230.3,211.5 238.2,209.7 233.7,197.4 225.8,199.2" fill="#ac5e96" stroke="#ac5e96" stroke-width="1.0" stroke-linejoin="round"/>
<polygon points="168.7,167.6 176.8,166.0 172.7,158.1 164.6,159.6" fill="#ac509d" stroke="#ac509d" stroke-width="1.0" stroke-linejoin="round"/>
<polygon points="284.4,271.0 292.1,269.0 287.5,255.0 279.7,257.1" fill="#a27473" stroke="#a27473" stroke-width="1.0" stroke-linejoin="round"/>
<polygon points="338.4,328.8 346.0,326.4 341.3,315.9 333.8,318.3" fill="#9e8b53" stroke="#9e8b53" stroke-width="1.0" stroke-linejoin="round"/>
<polygon points="407.3,347.4 414.6,344.4 409.7,338.7 402.4,342.0" fill="#9c9246" stroke="#9c9246" stroke-width="1.0" stroke-linejoin="round"/>
<polygon points="217.9,200.9 225.8,199.2 221.5,187.9 213.5,189.6" fill="#ac5b98" stroke="#ac5b98" stroke-width="1.0" stroke-linejoin="round"/>
<polygon points="451.5,351.3 458.8,349.0 453.7,343.4 446.5,346.1" fill="#9b9343" stroke="#9b9343" stroke-width="1.0" stroke-linejoin="round"/>
<polygon points="180.9,174.7 189.0,173.1 184.8,164.4 176.8,166.0" fill="#ac529c" stroke="#ac529c" stroke-width="1.0" stroke-linejoin="round"/>
<polygon points="350.7,335.4 358.3,332.9 353.5,323.9 346.0,326.4" fill="#9e8e4e" stroke="#9e8e4e" stroke-width="1.0" stroke-linejoin="round"/>
<polygon points="326.1,320.5 333.8,318.3 329.1,306.0 321.5,308.3" fill="#9f8859" stroke="#9f8859" stroke-width="1.0" stroke-linejoin="round"/>
<polygon points="205.5,191.3 213.5,189.6 209.2,179.2 201.2,180.9" fill="#ac579a" stroke="#ac579a" stroke-width="1.0" stroke-linejoin="round"/>
<polygon points="193.2,182.6 201.2,180.9 197.0,171.4 189.0,173.1" fill="#ac559b" stroke="#ac559b" stroke-width="1.0" stroke-linejoin="round"/>
<polygon points="272.0,259.0 279.7,257.1 275.2,244.2 267.4,246.2" fill="#a47079" stroke="#a47079" stroke-width="1.0" stroke-linejoin="round"/>
<polygon points="363.0,340.7 370.5,338.0 365.7,330.2 358.3,332.9" fill="#9d904b" stroke="#9d904b" stroke-width="1.0" stroke-linejoin="round"/>
<polygon points="313.8,310.4 321.5,308.3 316.8,294.5 309.1,296.6" fill="#a08360" stroke="#a08360" stroke-width="1.0" stroke-linejoin="round"/>
<polygon points="463.9,354.4 471.1,352.4 466.0,346.7 458.8,349.0" fill="#9a9341" stroke="#9a9341" stroke-width="1.0" stroke-linejoin="round"/>
<polygon points="259.6,248.1 267.4,246.2 262.9,233.2 255.1,235.2" fill="#a66c80" stroke="#a66c80" stroke-width="1.0" stroke-linejoin="round"/>
<polygon points="419.6,349.4 426.9,346.5 422.0,341.2 414.6,344.4" fill="#9c9245" stroke="#9c9245" stroke-width="1.0" stroke-linejoin="round"/>
<polygon points="375.3,344.7 382.7,342.0 377.9,335.2 370.5,338.0" fill="#9d9248" stroke="#9d9248" stroke-width="1.0" stroke-linejoin="round"/>
<polygon points="301.4,298.7 309.1,296.6 304.4,281.9 296.8,284.0" fill="#a17f66" stroke="#a17f66" stroke-width="1.0" stroke-linejoin="round"/>
<polygon points="247.2,237.0 255.1,235.2 250.5,221.3 242.7,223.2" fill="#a86788" stroke="#a86788" stroke-width="1.0" stroke-linejoin="round"/>
<polygon points="387.5,347.8 395.0,345.0 390.2,339.0 382.7,342.0" fill="#9c9246" stroke="#9c9246" stroke-width="1.0" stroke-linejoin="round"/>
<polygon points="431.9,351.4 439.2,348.8 434.2,343.6 426.9,346.5" fill="#9b9344" stroke="#9b9344" stroke-width="1.0" stroke-linejoin="round"/>
<polygon points="136.1,157.6 144.3,155.4 140.3,148.8 132.2,151.1" fill="#ab4c9e" stroke="#ab4c9e" stroke-width="1.0" stroke-linejoin="round"/>
<polygon points="289.0,285.9 296.8,284.0 292.1,269.0 284.4,271.0" fill="#a2796c" stroke="#a2796c" stroke-width="1.0" stroke-linejoin="round"/>
<polygon points="234.8,225.0 242.7,223.2 238.2,209.7 230.3,211.5" fill="#aa6390" stroke="#aa6390" stroke-width="1.0" stroke-linejoin="round"/>
<polygon points="148.3,162.7 156.4,161.2 152.4,153.9 144.3,155.4" fill="#ac4e9e" stroke="#ac4e9e" stroke-width="1.0" stroke-linejoin="round"/>
<polygon points="222.3,213.3 230.3,211.5 225.8,199.2 217.9,200.9" fill="#ac5e96" stroke="#ac5e96" stroke-width="1.0" stroke-linejoin="round"/>
<polygon points="399.8,350.2 407.3,347.4 402.4,342.0 395.0,345.0" fill="#9c9245" stroke="#9c9245" stroke-width="1.0" stroke-linejoin="round"/>
<polygon points="276.6,272.9 284.4,271.0 279.7,257.1 272.0,259.0" fill="#a27473" stroke="#a27473" stroke-width="1.0" stroke-linejoin="round"/>
<polygon points="160.5,169.1 168.7,167.6 164.6,159.6 156.4,161.2" fill="#ac509d" stroke="#ac509d" stroke-width="1.0" stroke-linejoin="round"/>
<polygon points="330.8,331.0 338.4,328.8 333.8,318.3 326.1,320.5" fill="#9e8c53" stroke="#9e8c53" stroke-width="1.0" stroke-linejoin="round"/>
<polygon points="444.2,353.6 451.5,351.3 446.5,346.1 439.2,348.8" fill="#9b9342" stroke="#9b9342" stroke-width="1.0" stroke-linejoin="round"/>
<polygon points="209.9,202.6 217.9,200.9 213.5,189.6 205.5,191.3" fill="#ac5b98" stroke="#ac5b98" stroke-width="1.0" stroke-linejoin="round"/>
<polygon points="343.1,337.7 350.7,335.4 346.0,326.4 338.4,328.8" fill="#9e8e4e" stroke="#9e8e4e" stroke-width="1.0" stroke-linejoin="round"/>
<polygon points="172.8,176.2 180.9,174.7 176.8,166.0 168.7,167.6" fill="#ac529c" stroke="#ac529c" stroke-width="1.0" stroke-linejoin="round"/>
<polygon points="318.5,322.6 326.1,320.5 321.5,308.3 313.8,310.4" fill="#9f8859" stroke="#9f8859" stroke-width="1.0" stroke-linejoin="round"/>
<polygon points="197.5,192.9 205.5,191.3 201.2,180.9 193.2,182.6" fill="#ac5899" stroke="#ac5899" stroke-width="1.0" stroke-linejoin="round"/>
<polygon points="185.1,184.2 193.2,182.6 189.0,173.1 180.9,174.7" fill="#ac559b" stroke="#ac559b" stroke-width="1.0" stroke-linejoin="round"/>
<polygon points="355.4,343.1 363.0,340.7 358.3,332.9 350.7,335.4" fill="#9d914a" stroke="#9d914a" stroke-width="1.0" stroke-linejoin="round"/>
<polygon points="264.1,260.8 272.0,259.0 267.4,246.2 259.6,248.1" fill="#a47079" stroke="#a47079" stroke-width="1.0" stroke-linejoin="round"/>
<polygon points="306.1,312.5 313.8,310.4 309.1,296.6 301.4,298.7" fill="#a0845f" stroke="#a0845f" stroke-width="1.0" stroke-linejoin="round"/>
<polygon points="412.2,352.1 419.6,349.4 414.6,344.4 407.3,347.4" fill="#9b9244" stroke="#9b9244" stroke-width="1.0" stroke-linejoin="round"/>
<polygon points="456.6,356.3 463.9,354.4 458.8,349.0 451.5,351.3" fill="#9a9341" stroke="#9a9341" stroke-width="1.0" stroke-linejoin="round"/>
<polygon points="251.7,249.9 259.6,248.1 255.1,235.2 247.2,237.0" fill="#a66c80" stroke="#a66c80" stroke-width="1.0" stroke-linejoin="round"/>
<polygon points="367.7,347.2 375.3,344.7 370.5,338.0 363.0,340.7" fill="#9d9247" stroke="#9d9247" stroke-width="1.0" stroke-linejoin="round"/>
<polygon points="293.7,300.6 301.4,298.7 296.8,284.0 289.0,285.9" fill="#a17f66" stroke="#a17f66" stroke-width="1.0" stroke-linejoin="round"/>
<polygon points="239.3,238.8 247.2,237.0 242.7,223.2 234.8,225.0" fill="#a86788" stroke="#a86788" stroke-width="1.0" stroke-linejoin="round"/>
<polygon points="380.1,350.4 387.5,347.8 382.7,342.0 375.3,344.7" fill="#9c9246" stroke="#9c9246" stroke-width="1.0" stroke-linejoin="round"/>
<polygon points="424.5,354.0 431.9,351.4 426.9,346.5 419.6,349.4" fill="#9b9343" stroke="#9b9343" stroke-width="1.0" stroke-linejoin="round"/>
<polygon points="281.2,287.7 289.0,285.9 284.4,271.0 276.6,272.9" fill="#a2796c" stroke="#a2796c" stroke-width="1.0" stroke-linejoin="round"/>
<polygon points="226.8,226.7 234.8,225.0 230.3,211.5 222.3,213.3" fill="#aa6390" stroke="#aa6390" stroke-width="1.0" stroke-linejoin="round"/>
<polygon points="140.1,164.8 148.3,162.7 144.3,155.4 136.1,157.6" fill="#ac4e9e" stroke="#ac4e9e" stroke-width="1.0" stroke-linejoin="round"/>
<polygon points="214.3,215.0 222.3,213.3 217.9,200.9 209.9,202.6" fill="#ac5f96" stroke="#ac5f96" stroke-width="1.0" stroke-linejoin="round"/>
<polygon points="392.4,352.8 399.8,350.2 395.0,345.0 387.5,347.8" fill="#9b9244" stroke="#9b9244" stroke-width="1.0" stroke-linejoin="round"/>
<polygon points="268.7,274.7 276.6,272.9 272.0,259.0 264.1,260.8" fill="#a27473" stroke="#a27473" stroke-width="1.0" stroke-linejoin="round"/>
<polygon points="152.3,170.6 160.5,169.1 156.4,161.2 148.3,162.7" fill="#ac509d" stroke="#ac509d" stroke-width="1.0" stroke-linejoin="round"/>
<polygon points="323.1,333.1 330.8,331.0 326.1,320.5 318.5,322.6" fill="#9e8c52" stroke="#9e8c52" stroke-width="1.0" stroke-linejoin="round"/>
<polygon points="436.9,355.9 444.2,353.6 439.2,348.8 431.9,351.4" fill="#9b9342" stroke="#9b9342" stroke-width="1.0" stroke-linejoin="round"/>
<polygon points="201.8,204.3 209.9,202.6 205.5,191.3 197.5,192.9" fill="#ac5b98" stroke="#ac5b98" stroke-width="1.0" stroke-linejoin="round"/>
<polygon points="335.5,340.0 343.1,337.7 338.4,328.8 330.8,331.0" fill="#9e8f4e" stroke="#9e8f4e" stroke-width="1.0" stroke-linejoin="round"/>
<polygon points="164.6,177.8 172.8,176.2 168.7,167.6 160.5,169.1" fill="#ac529c" stroke="#ac529c" stroke-width="1.0" stroke-linejoin="round"/>
<polygon points="310.8,324.7 318.5,322.6 313.8,310.4 306.1,312.5" fill="#9f8858" stroke="#9f8858" stroke-width="1.0" stroke-linejoin="round"/>
<polygon points="189.4,194.5 197.5,192.9 193.2,182.6 185.1,184.2" fill="#ac5899" stroke="#ac5899" stroke-width="1.0" stroke-linejoin="round"/>
<polygon points="177.0,185.7 185.1,184.2 180.9,174.7 172.8,176.2" fill="#ac559b" stroke="#ac559b" stroke-width="1.0" stroke-linejoin="round"/>
<polygon points="347.8,345.4 355.4,343.1 350.7,335.4 343.1,337.7" fill="#9d914a" stroke="#9d914a" stroke-width="1.0" stroke-linejoin="round"/>
<polygon points="256.3,262.6 264.1,260.8 259.6,248.1 251.7,249.9" fill="#a47079" stroke="#a47079" stroke-width="1.0" stroke-linejoin="round"/>
<polygon points="298.3,314.4 306.1,312.5 301.4,298.7 293.7,300.6" fill="#a0845f" stroke="#a0845f" stroke-width="1.0" stroke-linejoin="round"/>
<polygon points="404.7,354.7 412.2,352.1 407.3,347.4 399.8,350.2" fill="#9b9343" stroke="#9b9343" stroke-width="1.0" stroke-linejoin="round"/>
<polygon points="449.3,358.3 456.6,356.3 451.5,351.3 444.2,353.6" fill="#9a9341" stroke="#9a9341" stroke-width="1.0" stroke-linejoin="round"/>
<polygon points="243.8,251.7 251.7,249.9 247.2,237.0 239.3,238.8" fill="#a66c80" stroke="#a66c80" stroke-width="1.0" stroke-linejoin="round"/>
<polygon points="360.2,349.6 367.7,347.2 363.0,340.7 355.4,343.1" fill="#9d9247" stroke="#9d9247" stroke-width="1.0" stroke-linejoin="round"/>
<polygon points="285.9,302.5 293.7,300.6 289.0,285.9 281.2,287.7" fill="#a17f66" stroke="#a17f66" stroke-width="1.0" stroke-linejoin="round"/>
<polygon points="231.3,240.5 239.3,238.8 234.8,225.0 226.8,226.7" fill="#a86788" stroke="#a86788" stroke-width="1.0" stroke-linejoin="round"/>
<polygon points="372.5,352.8 380.1,350.4 375.3,344.7 367.7,347.2" fill="#9c9245" stroke="#9c9245" stroke-width="1.0" stroke-linejoin="round"/>
<polygon points="417.1,356.4 424.5,354.0 419.6,349.4 412.2,352.1" fill="#9b9342" stroke="#9b9342" stroke-width="1.0" stroke-linejoin="round"/>
<polygon points="273.4,289.6 281.2,287.7 276.6,272.9 268.7,274.7" fill="#a27a6c" stroke="#a27a6c" stroke-width="1.0" stroke-linejoin="round"/>
<polygon points="218.8,228.4 226.8,226.7 222.3,213.3 214.3,215.0" fill="#aa638f" stroke="#aa638f" stroke-width="1.0" stroke-linejoin="round"/>
<polygon points="384.9,355.3 392.4,352.8 387.5,347.8 380.1,350.4" fill="#9b9244" stroke="#9b9244" stroke-width="1.0" stroke-linejoin="round"/>
<polygon points="206.3,216.6 214.3,215.0 209.9,202.6 201.8,204.3" fill="#ac5f96" stroke="#ac5f96" stroke-width="1.0" stroke-linejoin="round"/>
<polygon points="144.1,172.6 152.3,170.6 148.3,162.7 140.1,164.8" fill="#ac509d" stroke="#ac509d" stroke-width="1.0" stroke-linejoin="round"/>
<polygon points="429.5,358.2 436.9,355.9 431.9,351.4 424.5,354.0" fill="#9a9342" stroke="#9a9342" stroke-width="1.0" stroke-linejoin="round"/>
<polygon points="260.8,276.5 268.7,274.7 264.1,260.8 256.3,262.6" fill="#a27572" stroke="#a27572" stroke-width="1.0" stroke-linejoin="round"/>
<polygon points="315.4,335.2 323.1,333.1 318.5,322.6 310.8,324.7" fill="#9e8c52" stroke="#9e8c52" stroke-width="1.0" stroke-linejoin="round"/>
<polygon points="193.8,205.9 201.8,204.3 197.5,192.9 189.4,194.5" fill="#ac5b98" stroke="#ac5b98" stroke-width="1.0" stroke-linejoin="round"/>
<polygon points="327.8,342.1 335.5,340.0 330.8,331.0 323.1,333.1" fill="#9e8f4d" stroke="#9e8f4d" stroke-width="1.0" stroke-linejoin="round"/>
<polygon points="303.0,326.6 310.8,324.7 306.1,312.5 298.3,314.4" fill="#9f8858" stroke="#9f8858" stroke-width="1.0" stroke-linejoin="round"/>
<polygon points="156.4,179.3 164.6,177.8 160.5,169.1 152.3,170.6" fill="#ac529c" stroke="#ac529c" stroke-width="1.0" stroke-linejoin="round"/>
<polygon points="181.3,196.1 189.4,194.5 185.1,184.2 177.0,185.7" fill="#ac5899" stroke="#ac5899" stroke-width="1.0" stroke-linejoin="round"/>
<polygon points="168.8,187.2 177.0,185.7 172.8,176.2 164.6,177.8" fill="#ac559b" stroke="#ac559b" stroke-width="1.0" stroke-linejoin="round"/>
<polygon points="340.2,347.6 347.8,345.4 343.1,337.7 335.5,340.0" fill="#9d914a" stroke="#9d914a" stroke-width="1.0" stroke-linejoin="round"/>
<polygon points="248.3,264.4 256.3,262.6 251.7,249.9 243.8,251.7" fill="#a37079" stroke="#a37079" stroke-width="1.0" stroke-linejoin="round"/>
<polygon points="290.5,316.3 298.3,314.4 293.7,300.6 285.9,302.5" fill="#a0845f" stroke="#a0845f" stroke-width="1.0" stroke-linejoin="round"/>
<polygon points="397.3,357.2 404.7,354.7 399.8,350.2 392.4,352.8" fill="#9b9343" stroke="#9b9343" stroke-width="1.0" stroke-linejoin="round"/>
<polygon points="442.0,360.2 449.3,358.3 444.2,353.6 436.9,355.9" fill="#9a9341" stroke="#9a9341" stroke-width="1.0" stroke-linejoin="round"/>
<polygon points="352.6,351.9 360.2,349.6 355.4,343.1 347.8,345.4" fill="#9c9247" stroke="#9c9247" stroke-width="1.0" stroke-linejoin="round"/>
<polygon points="235.8,253.4 243.8,251.7 239.3,238.8 231.3,240.5" fill="#a66c80" stroke="#a66c80" stroke-width="1.0" stroke-linejoin="round"/>
<polygon points="278.0,304.3 285.9,302.5 281.2,287.7 273.4,289.6" fill="#a17f65" stroke="#a17f65" stroke-width="1.0" stroke-linejoin="round"/>
<polygon points="223.3,242.2 231.3,240.5 226.8,226.7 218.8,228.4" fill="#a86787" stroke="#a86787" stroke-width="1.0" stroke-linejoin="round"/>
<polygon points="364.9,355.2 372.5,352.8 367.7,347.2 360.2,349.6" fill="#9c9245" stroke="#9c9245" stroke-width="1.0" stroke-linejoin="round"/>
<polygon points="409.7,358.8 417.1,356.4 412.2,352.1 404.7,354.7" fill="#9b9342" stroke="#9b9342" stroke-width="1.0" stroke-linejoin="round"/>
<polygon points="210.7,230.0 218.8,228.4 214.3,215.0 206.3,216.6" fill="#aa638f" stroke="#aa638f" stroke-width="1.0" stroke-linejoin="round"/>
<polygon points="265.5,291.3 273.4,289.6 268.7,274.7 260.8,276.5" fill="#a27a6c" stroke="#a27a6c" stroke-width="1.0" stroke-linejoin="round"/>
<polygon points="377.3,357.6 384.9,355.3 380.1,350.4 372.5,352.8" fill="#9b9343" stroke="#9b9343" stroke-width="1.0" stroke-linejoin="round"/>
<polygon points="198.1,218.2 206.3,216.6 201.8,204.3 193.8,205.9" fill="#ac5f96" stroke="#ac5f96" stroke-width="1.0" stroke-linejoin="round"/>
<polygon points="422.1,360.4 429.5,358.2 424.5,354.0 417.1,356.4" fill="#9a9341" stroke="#9a9341" stroke-width="1.0" stroke-linejoin="round"/>
<polygon points="252.9,278.3 260.8,276.5 256.3,262.6 248.3,264.4" fill="#a27572" stroke="#a27572" stroke-width="1.0" stroke-linejoin="round"/>
<polygon points="307.7,337.1 315.4,335.2 310.8,324.7 303.0,326.6" fill="#9e8c52" stroke="#9e8c52" stroke-width="1.0" stroke-linejoin="round"/>
<polygon points="320.1,344.1 327.8,342.1 323.1,333.1 315.4,335.2" fill="#9e8f4d" stroke="#9e8f4d" stroke-width="1.0" stroke-linejoin="round"/>
<polygon points="185.6,207.4 193.8,205.9 189.4,194.5 181.3,196.1" fill="#ac5b98" stroke="#ac5b98" stroke-width="1.0" stroke-linejoin="round"/>
<polygon points="148.2,181.2 156.4,179.3 152.3,170.6 144.1,172.6" fill="#ac529c" stroke="#ac529c" stroke-width="1.0" stroke-linejoin="round"/>
<polygon points="295.2,328.6 303.0,326.6 298.3,314.4 290.5,316.3" fill="#9f8858" stroke="#9f8858" stroke-width="1.0" stroke-linejoin="round"/>
<polygon points="173.1,197.6 181.3,196.1 177.0,185.7 168.8,187.2" fill="#ac5899" stroke="#ac5899" stroke-width="1.0" stroke-linejoin="round"/>
<polygon points="160.6,188.7 168.8,187.2 164.6,177.8 156.4,179.3" fill="#ac559b" stroke="#ac559b" stroke-width="1.0" stroke-linejoin="round"/>
<polygon points="332.5,349.7 340.2,347.6 335.5,340.0 327.8,342.1" fill="#9d9149" stroke="#9d9149" stroke-width="1.0" stroke-linejoin="round"/>
<polygon points="240.3,266.1 248.3,264.4 243.8,251.7 235.8,253.4" fill="#a37079" stroke="#a37079" stroke-width="1.0" stroke-linejoin="round"/>
<polygon points="389.7,359.5 397.3,357.2 392.4,352.8 384.9,355.3" fill="#9b9342" stroke="#9b9342" stroke-width="1.0" stroke-linejoin="round"/>
<polygon points="282.7,318.2 290.5,316.3 285.9,302.5 278.0,304.3" fill="#a0845f" stroke="#a0845f" stroke-width="1.0" stroke-linejoin="round"/>
<polygon points="344.9,354.0 352.6,351.9 347.8,345.4 340.2,347.6" fill="#9c9247" stroke="#9c9247" stroke-width="1.0" stroke-linejoin="round"/>
<polygon points="434.6,362.2 442.0,360.2 436.9,355.9 429.5,358.2" fill="#9a9341" stroke="#9a9341" stroke-width="1.0" stroke-linejoin="round"/>
<polygon points="227.8,255.1 235.8,253.4 231.3,240.5 223.3,242.2" fill="#a66c80" stroke="#a66c80" stroke-width="1.0" stroke-linejoin="round"/>
<polygon points="270.1,306.1 278.0,304.3 273.4,289.6 265.5,291.3" fill="#a17f65" stroke="#a17f65" stroke-width="1.0" stroke-linejoin="round"/>
<polygon points="215.2,243.9 223.3,242.2 218.8,228.4 210.7,230.0" fill="#a86887" stroke="#a86887" stroke-width="1.0" stroke-linejoin="round"/>
<polygon points="357.3,357.4 364.9,355.2 360.2,349.6 352.6,351.9" fill="#9c9245" stroke="#9c9245" stroke-width="1.0" stroke-linejoin="round"/>
<polygon points="402.2,361.1 409.7,358.8 404.7,354.7 397.3,357.2" fill="#9a9342" stroke="#9a9342" stroke-width="1.0" stroke-linejoin="round"/>
<polygon points="202.6,231.6 210.7,230.0 206.3,216.6 198.1,218.2" fill="#aa638f" stroke="#aa638f" stroke-width="1.0" stroke-linejoin="round"/>
<polygon points="257.5,293.1 265.5,291.3 260.8,276.5 252.9,278.3" fill="#a27a6c" stroke="#a27a6c" stroke-width="1.0" stroke-linejoin="round"/>
<polygon points="369.7,359.9 377.3,357.6 372.5,352.8 364.9,355.2" fill="#9b9343" stroke="#9b9343" stroke-width="1.0" stroke-linejoin="round"/>
<polygon points="190.0,219.8 198.1,218.2 193.8,205.9 185.6,207.4" fill="#ac5f96" stroke="#ac5f96" stroke-width="1.0" stroke-linejoin="round"/>
<polygon points="414.6,362.5 422.1,360.4 417.1,356.4 409.7,358.8" fill="#9a9341" stroke="#9a9341" stroke-width="1.0" stroke-linejoin="round"/>
<polygon points="244.9,280.0 252.9,278.3 248.3,264.4 240.3,266.1" fill="#a27572" stroke="#a27572" stroke-width="1.0" stroke-linejoin="round"/>
<polygon points="299.8,339.1 307.7,337.1 303.0,326.6 295.2,328.6" fill="#9e8c52" stroke="#9e8c52" stroke-width="1.0" stroke-linejoin="round"/>
<polygon points="312.3,346.1 320.1,344.1 315.4,335.2 307.7,337.1" fill="#9e8f4d" stroke="#9e8f4d" stroke-width="1.0" stroke-linejoin="round"/>
<polygon points="177.4,209.0 185.6,207.4 181.3,196.1 173.1,197.6" fill="#ac5b98" stroke="#ac5b98" stroke-width="1.0" stroke-linejoin="round"/>
<polygon points="287.3,330.5 295.2,328.6 290.5,316.3 282.7,318.2" fill="#9f8858" stroke="#9f8858" stroke-width="1.0" stroke-linejoin="round"/>
<polygon points="164.8,199.1 173.1,197.6 168.8,187.2 160.6,188.7" fill="#ac5899" stroke="#ac5899" stroke-width="1.0" stroke-linejoin="round"/>
<polygon points="152.3,190.6 160.6,188.7 156.4,179.3 148.2,181.2" fill="#ac559b" stroke="#ac559b" stroke-width="1.0" stroke-linejoin="round"/>
<polygon points="324.7,351.7 332.5,349.7 327.8,342.1 320.1,344.1" fill="#9d9149" stroke="#9d9149" stroke-width="1.0" stroke-linejoin="round"/>
<polygon points="232.3,267.8 240.3,266.1 235.8,253.4 227.8,255.1" fill="#a37078" stroke="#a37078" stroke-width="1.0" stroke-linejoin="round"/>
<polygon points="382.2,361.8 389.7,359.5 384.9,355.3 377.3,357.6" fill="#9b9342" stroke="#9b9342" stroke-width="1.0" stroke-linejoin="round"/>
<polygon points="274.8,320.1 282.7,318.2 278.0,304.3 270.1,306.1" fill="#a0845f" stroke="#a0845f" stroke-width="1.0" stroke-linejoin="round"/>
<polygon points="337.2,356.1 344.9,354.0 340.2,347.6 332.5,349.7" fill="#9c9246" stroke="#9c9246" stroke-width="1.0" stroke-linejoin="round"/>
<polygon points="427.1,364.2 434.6,362.2 429.5,358.2 422.1,360.4" fill="#9a9340" stroke="#9a9340" stroke-width="1.0" stroke-linejoin="round"/>
<polygon points="219.7,256.7 227.8,255.1 223.3,242.2 215.2,243.9" fill="#a56c80" stroke="#a56c80" stroke-width="1.0" stroke-linejoin="round"/>
<polygon points="262.2,307.9 270.1,306.1 265.5,291.3 257.5,293.1" fill="#a17f65" stroke="#a17f65" stroke-width="1.0" stroke-linejoin="round"/>
<polygon points="207.1,245.5 215.2,243.9 210.7,230.0 202.6,231.6" fill="#a86887" stroke="#a86887" stroke-width="1.0" stroke-linejoin="round"/>
<polygon points="349.6,359.5 357.3,357.4 352.6,351.9 344.9,354.0" fill="#9c9244" stroke="#9c9244" stroke-width="1.0" stroke-linejoin="round"/>
<polygon points="394.6,363.3 402.2,361.1 397.3,357.2 389.7,359.5" fill="#9a9341" stroke="#9a9341" stroke-width="1.0" stroke-linejoin="round"/>
<polygon points="194.4,233.2 202.6,231.6 198.1,218.2 190.0,219.8" fill="#aa638f" stroke="#aa638f" stroke-width="1.0" stroke-linejoin="round"/>
<polygon points="249.5,294.8 257.5,293.1 252.9,278.3 244.9,280.0" fill="#a27a6c" stroke="#a27a6c" stroke-width="1.0" stroke-linejoin="round"/>
<polygon points="362.1,362.1 369.7,359.9 364.9,355.2 357.3,357.4" fill="#9b9343" stroke="#9b9343" stroke-width="1.0" stroke-linejoin="round"/>
<polygon points="181.8,221.3 190.0,219.8 185.6,207.4 177.4,209.0" fill="#ac5f96" stroke="#ac5f96" stroke-width="1.0" stroke-linejoin="round"/>
<polygon points="407.1,364.7 414.6,362.5 409.7,358.8 402.2,361.1" fill="#9a9341" stroke="#9a9341" stroke-width="1.0" stroke-linejoin="round"/>
<polygon points="236.9,281.7 244.9,280.0 240.3,266.1 232.3,267.8" fill="#a27572" stroke="#a27572" stroke-width="1.0" stroke-linejoin="round"/>
<polygon points="292.0,341.0 299.8,339.1 295.2,328.6 287.3,330.5" fill="#9e8c52" stroke="#9e8c52" stroke-width="1.0" stroke-linejoin="round"/>
<polygon points="304.5,348.1 312.3,346.1 307.7,337.1 299.8,339.1" fill="#9e8f4d" stroke="#9e8f4d" stroke-width="1.0" stroke-linejoin="round"/>
<polygon points="169.1,210.5 177.4,209.0 173.1,197.6 164.8,199.1" fill="#ac5b98" stroke="#ac5b98" stroke-width="1.0" stroke-linejoin="round"/>
<polygon points="279.4,332.3 287.3,330.5 282.7,318.2 274.8,320.1" fill="#9f8858" stroke="#9f8858" stroke-width="1.0" stroke-linejoin="round"/>
<polygon points="156.6,201.0 164.8,199.1 160.6,188.7 152.3,190.6" fill="#ac5899" stroke="#ac5899" stroke-width="1.0" stroke-linejoin="round"/>
<polygon points="316.9,353.7 324.7,351.7 320.1,344.1 312.3,346.1" fill="#9d9149" stroke="#9d9149" stroke-width="1.0" stroke-linejoin="round"/>
<polygon points="224.2,269.5 232.3,267.8 227.8,255.1 219.7,256.7" fill="#a37078" stroke="#a37078" stroke-width="1.0" stroke-linejoin="round"/>
<polygon points="374.6,364.0 382.2,361.8 377.3,357.6 369.7,359.9" fill="#9b9342" stroke="#9b9342" stroke-width="1.0" stroke-linejoin="round"/>
<polygon points="266.8,321.9 274.8,320.1 270.1,306.1 262.2,307.9" fill="#a0845f" stroke="#a0845f" stroke-width="1.0" stroke-linejoin="round"/>
<polygon points="329.4,358.2 337.2,356.1 332.5,349.7 324.7,351.7" fill="#9c9246" stroke="#9c9246" stroke-width="1.0" stroke-linejoin="round"/>
<polygon points="419.7,366.1 427.1,364.2 422.1,360.4 414.6,362.5" fill="#9a9340" stroke="#9a9340" stroke-width="1.0" stroke-linejoin="round"/>
<polygon points="211.6,258.4 219.7,256.7 215.2,243.9 207.1,245.5" fill="#a56c80" stroke="#a56c80" stroke-width="1.0" stroke-linejoin="round"/>
<polygon points="254.2,309.7 262.2,307.9 257.5,293.1 249.5,294.8" fill="#a17f65" stroke="#a17f65" stroke-width="1.0" stroke-linejoin="round"/>
<polygon points="198.9,247.2 207.1,245.5 202.6,231.6 194.4,233.2" fill="#a86887" stroke="#a86887" stroke-width="1.0" stroke-linejoin="round"/>
<polygon points="341.9,361.6 349.6,359.5 344.9,354.0 337.2,356.1" fill="#9b9244" stroke="#9b9244" stroke-width="1.0" stroke-linejoin="round"/>
<polygon points="387.1,365.5 394.6,363.3 389.7,359.5 382.2,361.8" fill="#9a9341" stroke="#9a9341" stroke-width="1.0" stroke-linejoin="round"/>
<polygon points="186.2,234.8 194.4,233.2 190.0,219.8 181.8,221.3" fill="#aa638f" stroke="#aa638f" stroke-width="1.0" stroke-linejoin="round"/>
<polygon points="241.5,296.6 249.5,294.8 244.9,280.0 236.9,281.7" fill="#a27a6c" stroke="#a27a6c" stroke-width="1.0" stroke-linejoin="round"/>
<polygon points="354.4,364.2 362.1,362.1 357.3,357.4 349.6,359.5" fill="#9b9343" stroke="#9b9343" stroke-width="1.0" stroke-linejoin="round"/>
<polygon points="173.5,222.9 181.8,221.3 177.4,209.0 169.1,210.5" fill="#ac5f96" stroke="#ac5f96" stroke-width="1.0" stroke-linejoin="round"/>
<polygon points="399.6,366.8 407.1,364.7 402.2,361.1 394.6,363.3" fill="#9a9341" stroke="#9a9341" stroke-width="1.0" stroke-linejoin="round"/>
<polygon points="228.8,283.4 236.9,281.7 232.3,267.8 224.2,269.5" fill="#a27572" stroke="#a27572" stroke-width="1.0" stroke-linejoin="round"/>
<polygon points="284.0,342.9 292.0,341.0 287.3,330.5 279.4,332.3" fill="#9e8c52" stroke="#9e8c52" stroke-width="1.0" stroke-linejoin="round"/>
<polygon points="160.8,212.3 169.1,210.5 164.8,199.1 156.6,201.0" fill="#ac5b98" stroke="#ac5b98" stroke-width="1.0" stroke-linejoin="round"/>
<polygon points="296.6,350.0 304.5,348.1 299.8,339.1 292.0,341.0" fill="#9e8f4d" stroke="#9e8f4d" stroke-width="1.0" stroke-linejoin="round"/>
<polygon points="271.5,334.2 279.4,332.3 274.8,320.1 266.8,321.9" fill="#9f8858" stroke="#9f8858" stroke-width="1.0" stroke-linejoin="round"/>
<polygon points="309.1,355.7 316.9,353.7 312.3,346.1 304.5,348.1" fill="#9d9149" stroke="#9d9149" stroke-width="1.0" stroke-linejoin="round"/>
<polygon points="366.9,366.1 374.6,364.0 369.7,359.9 362.1,362.1" fill="#9a9342" stroke="#9a9342" stroke-width="1.0" stroke-linejoin="round"/>
<polygon points="216.1,271.1 224.2,269.5 219.7,256.7 211.6,258.4" fill="#a37078" stroke="#a37078" stroke-width="1.0" stroke-linejoin="round"/>
<polygon points="258.8,323.7 266.8,321.9 262.2,307.9 254.2,309.7" fill="#a0845f" stroke="#a0845f" stroke-width="1.0" stroke-linejoin="round"/>
<polygon points="321.6,360.2 329.4,358.2 324.7,351.7 316.9,353.7" fill="#9c9246" stroke="#9c9246" stroke-width="1.0" stroke-linejoin="round"/>
<polygon points="412.1,368.1 419.7,366.1 414.6,362.5 407.1,364.7" fill="#9a9340" stroke="#9a9340" stroke-width="1.0" stroke-linejoin="round"/>
<polygon points="203.4,260.0 211.6,258.4 207.1,245.5 198.9,247.2" fill="#a56c7f" stroke="#a56c7f" stroke-width="1.0" stroke-linejoin="round"/>
<polygon points="246.1,311.5 254.2,309.7 249.5,294.8 241.5,296.6" fill="#a17f65" stroke="#a17f65" stroke-width="1.0" stroke-linejoin="round"/>
<polygon points="190.7,248.8 198.9,247.2 194.4,233.2 186.2,234.8" fill="#a86887" stroke="#a86887" stroke-width="1.0" stroke-linejoin="round"/>
<polygon points="379.4,367.6 387.1,365.5 382.2,361.8 374.6,364.0" fill="#9a9341" stroke="#9a9341" stroke-width="1.0" stroke-linejoin="round"/>
<polygon points="334.1,363.6 341.9,361.6 337.2,356.1 329.4,358.2" fill="#9b9244" stroke="#9b9244" stroke-width="1.0" stroke-linejoin="round"/>
<polygon points="178.0,236.4 186.2,234.8 181.8,221.3 173.5,222.9" fill="#aa638f" stroke="#aa638f" stroke-width="1.0" stroke-linejoin="round"/>
<polygon points="233.4,298.3 241.5,296.6 236.9,281.7 228.8,283.4" fill="#a27a6c" stroke="#a27a6c" stroke-width="1.0" stroke-linejoin="round"/>
<polygon points="346.6,366.2 354.4,364.2 349.6,359.5 341.9,361.6" fill="#9b9343" stroke="#9b9343" stroke-width="1.0" stroke-linejoin="round"/>
<polygon points="165.2,224.6 173.5,222.9 169.1,210.5 160.8,212.3" fill="#ac5f96" stroke="#ac5f96" stroke-width="1.0" stroke-linejoin="round"/>
<polygon points="392.0,368.8 399.6,366.8 394.6,363.3 387.1,365.5" fill="#9a9341" stroke="#9a9341" stroke-width="1.0" stroke-linejoin="round"/>
<polygon points="220.6,285.1 228.8,283.4 224.2,269.5 216.1,271.1" fill="#a27572" stroke="#a27572" stroke-width="1.0" stroke-linejoin="round"/>
<polygon points="276.1,344.8 284.0,342.9 279.4,332.3 271.5,334.2" fill="#9e8c52" stroke="#9e8c52" stroke-width="1.0" stroke-linejoin="round"/>
<polygon points="288.7,352.0 296.6,350.0 292.0,341.0 284.0,342.9" fill="#9e8f4d" stroke="#9e8f4d" stroke-width="1.0" stroke-linejoin="round"/>
<polygon points="263.5,336.1 271.5,334.2 266.8,321.9 258.8,323.7" fill="#9f8858" stroke="#9f8858" stroke-width="1.0" stroke-linejoin="round"/>
<polygon points="301.2,357.7 309.1,355.7 304.5,348.1 296.6,350.0" fill="#9d9149" stroke="#9d9149" stroke-width="1.0" stroke-linejoin="round"/>
<polygon points="359.2,368.2 366.9,366.1 362.1,362.1 354.4,364.2" fill="#9a9342" stroke="#9a9342" stroke-width="1.0" stroke-linejoin="round"/>
<polygon points="207.9,272.8 216.1,271.1 211.6,258.4 203.4,260.0" fill="#a37078" stroke="#a37078" stroke-width="1.0" stroke-linejoin="round"/>
<polygon points="250.8,325.6 258.8,323.7 254.2,309.7 246.1,311.5" fill="#a0845f" stroke="#a0845f" stroke-width="1.0" stroke-linejoin="round"/>
<polygon points="313.7,362.2 321.6,360.2 316.9,353.7 309.1,355.7" fill="#9c9246" stroke="#9c9246" stroke-width="1.0" stroke-linejoin="round"/>
<polygon points="404.6,370.1 412.1,368.1 407.1,364.7 399.6,366.8" fill="#9a9340" stroke="#9a9340" stroke-width="1.0" stroke-linejoin="round"/>
<polygon points="195.2,261.7 203.4,260.0 198.9,247.2 190.7,248.8" fill="#a56c7f" stroke="#a56c7f" stroke-width="1.0" stroke-linejoin="round"/>
<polygon points="238.0,313.3 246.1,311.5 241.5,296.6 233.4,298.3" fill="#a17f65" stroke="#a17f65" stroke-width="1.0" stroke-linejoin="round"/>
<polygon points="182.4,250.4 190.7,248.8 186.2,234.8 178.0,236.4" fill="#a86887" stroke="#a86887" stroke-width="1.0" stroke-linejoin="round"/>
<polygon points="371.7,369.6 379.4,367.6 374.6,364.0 366.9,366.1" fill="#9a9341" stroke="#9a9341" stroke-width="1.0" stroke-linejoin="round"/>
<polygon points="326.3,365.7 334.1,363.6 329.4,358.2 321.6,360.2" fill="#9b9244" stroke="#9b9244" stroke-width="1.0" stroke-linejoin="round"/>
<polygon points="169.6,238.1 178.0,236.4 173.5,222.9 165.2,224.6" fill="#aa638f" stroke="#aa638f" stroke-width="1.0" stroke-linejoin="round"/>
<polygon points="225.3,300.1 233.4,298.3 228.8,283.4 220.6,285.1" fill="#a27a6c" stroke="#a27a6c" stroke-width="1.0" stroke-linejoin="round"/>
<polygon points="338.8,368.3 346.6,366.2 341.9,361.6 334.1,363.6" fill="#9b9343" stroke="#9b9343" stroke-width="1.0" stroke-linejoin="round"/>
<polygon points="384.3,370.9 392.0,368.8 387.1,365.5 379.4,367.6" fill="#9a9340" stroke="#9a9340" stroke-width="1.0" stroke-linejoin="round"/>
<polygon points="212.4,286.8 220.6,285.1 216.1,271.1 207.9,272.8" fill="#a27572" stroke="#a27572" stroke-width="1.0" stroke-linejoin="round"/>
<polygon points="268.0,346.7 276.1,344.8 271.5,334.2 263.5,336.1" fill="#9e8c52" stroke="#9e8c52" stroke-width="1.0" stroke-linejoin="round"/>
<polygon points="280.7,353.9 288.7,352.0 284.0,342.9 276.1,344.8" fill="#9e8f4d" stroke="#9e8f4d" stroke-width="1.0" stroke-linejoin="round"/>
<polygon points="255.4,337.9 263.5,336.1 258.8,323.7 250.8,325.6" fill="#9f8858" stroke="#9f8858" stroke-width="1.0" stroke-linejoin="round"/>
<polygon points="293.3,359.7 301.2,357.7 296.6,350.0 288.7,352.0" fill="#9d9249" stroke="#9d9249" stroke-width="1.0" stroke-linejoin="round"/>
<polygon points="351.4,370.2 359.2,368.2 354.4,364.2 346.6,366.2" fill="#9a9342" stroke="#9a9342" stroke-width="1.0" stroke-linejoin="round"/>
<polygon points="199.6,274.5 207.9,272.8 203.4,260.0 195.2,261.7" fill="#a37078" stroke="#a37078" stroke-width="1.0" stroke-linejoin="round"/>
<polygon points="242.7,327.4 250.8,325.6 246.1,311.5 238.0,313.3" fill="#a0845f" stroke="#a0845f" stroke-width="1.0" stroke-linejoin="round"/>
<polygon points="305.8,364.2 313.7,362.2 309.1,355.7 301.2,357.7" fill="#9c9246" stroke="#9c9246" stroke-width="1.0" stroke-linejoin="round"/>
<polygon points="396.9,372.0 404.6,370.1 399.6,366.8 392.0,368.8" fill="#9a9340" stroke="#9a9340" stroke-width="1.0" stroke-linejoin="round"/>
<polygon points="186.9,263.3 195.2,261.7 190.7,248.8 182.4,250.4" fill="#a56c7f" stroke="#a56c7f" stroke-width="1.0" stroke-linejoin="round"/>
<polygon points="229.9,315.1 238.0,313.3 233.4,298.3 225.3,300.1" fill="#a17f65" stroke="#a17f65" stroke-width="1.0" stroke-linejoin="round"/>
<polygon points="174.1,252.1 182.4,250.4 178.0,236.4 169.6,238.1" fill="#a86887" stroke="#a86887" stroke-width="1.0" stroke-linejoin="round"/>
<polygon points="364.0,371.7 371.7,369.6 366.9,366.1 359.2,368.2" fill="#9a9341" stroke="#9a9341" stroke-width="1.0" stroke-linejoin="round"/>
<polygon points="318.4,367.7 326.3,365.7 321.6,360.2 313.7,362.2" fill="#9b9244" stroke="#9b9244" stroke-width="1.0" stroke-linejoin="round"/>
<polygon points="217.1,301.8 225.3,300.1 220.6,285.1 212.4,286.8" fill="#a27a6c" stroke="#a27a6c" stroke-width="1.0" stroke-linejoin="round"/>
<polygon points="331.0,370.3 338.8,368.3 334.1,363.6 326.3,365.7" fill="#9b9342" stroke="#9b9342" stroke-width="1.0" stroke-linejoin="round"/>
<polygon points="376.6,372.9 384.3,370.9 379.4,367.6 371.7,369.6" fill="#9a9340" stroke="#9a9340" stroke-width="1.0" stroke-linejoin="round"/>
<polygon points="204.2,288.5 212.4,286.8 207.9,272.8 199.6,274.5" fill="#a27572" stroke="#a27572" stroke-width="1.0" stroke-linejoin="round"/>
<polygon points="260.0,348.6 268.0,346.7 263.5,336.1 255.4,337.9" fill="#9e8c52" stroke="#9e8c52" stroke-width="1.0" stroke-linejoin="round"/>
<polygon points="272.6,355.8 280.7,353.9 276.1,344.8 268.0,346.7" fill="#9e8f4d" stroke="#9e8f4d" stroke-width="1.0" stroke-linejoin="round"/>
<polygon points="247.3,339.8 255.4,337.9 250.8,325.6 242.7,327.4" fill="#9f8858" stroke="#9f8858" stroke-width="1.0" stroke-linejoin="round"/>
<polygon points="285.3,361.6 293.3,359.7 288.7,352.0 280.7,353.9" fill="#9d9249" stroke="#9d9249" stroke-width="1.0" stroke-linejoin="round"/>
<polygon points="343.6,372.3 351.4,370.2 346.6,366.2 338.8,368.3" fill="#9a9341" stroke="#9a9341" stroke-width="1.0" stroke-linejoin="round"/>
<polygon points="191.3,276.1 199.6,274.5 195.2,261.7 186.9,263.3" fill="#a37078" stroke="#a37078" stroke-width="1.0" stroke-linejoin="round"/>
<polygon points="234.5,329.2 242.7,327.4 238.0,313.3 229.9,315.1" fill="#a0845f" stroke="#a0845f" stroke-width="1.0" stroke-linejoin="round"/>
<polygon points="297.9,366.2 305.8,364.2 301.2,357.7 293.3,359.7" fill="#9c9246" stroke="#9c9246" stroke-width="1.0" stroke-linejoin="round"/>
<polygon points="389.3,374.0 396.9,372.0 392.0,368.8 384.3,370.9" fill="#9a9340" stroke="#9a9340" stroke-width="1.0" stroke-linejoin="round"/>
<polygon points="178.5,265.0 186.9,263.3 182.4,250.4 174.1,252.1" fill="#a56c7f" stroke="#a56c7f" stroke-width="1.0" stroke-linejoin="round"/>
<polygon points="221.7,316.9 229.9,315.1 225.3,300.1 217.1,301.8" fill="#a17f65" stroke="#a17f65" stroke-width="1.0" stroke-linejoin="round"/>
<polygon points="356.2,373.7 364.0,371.7 359.2,368.2 351.4,370.2" fill="#9a9341" stroke="#9a9341" stroke-width="1.0" stroke-linejoin="round"/>
<polygon points="310.5,369.7 318.4,367.7 313.7,362.2 305.8,364.2" fill="#9b9244" stroke="#9b9244" stroke-width="1.0" stroke-linejoin="round"/>
<polygon points="208.8,303.5 217.1,301.8 212.4,286.8 204.2,288.5" fill="#a27a6c" stroke="#a27a6c" stroke-width="1.0" stroke-linejoin="round"/>
<polygon points="323.1,372.3 331.0,370.3 326.3,365.7 318.4,367.7" fill="#9b9342" stroke="#9b9342" stroke-width="1.0" stroke-linejoin="round"/>
<polygon points="368.9,374.9 376.6,372.9 371.7,369.6 364.0,371.7" fill="#9a9340" stroke="#9a9340" stroke-width="1.0" stroke-linejoin="round"/>
<polygon points="195.9,290.2 204.2,288.5 199.6,274.5 191.3,276.1" fill="#a27572" stroke="#a27572" stroke-width="1.0" stroke-linejoin="round"/>
<polygon points="251.9,350.5 260.0,348.6 255.4,337.9 247.3,339.8" fill="#9e8c52" stroke="#9e8c52" stroke-width="1.0" stroke-linejoin="round"/>
<polygon points="264.5,357.8 272.6,355.8 268.0,346.7 260.0,348.6" fill="#9e8f4d" stroke="#9e8f4d" stroke-width="1.0" stroke-linejoin="round"/>
<polygon points="239.1,341.7 247.3,339.8 242.7,327.4 234.5,329.2" fill="#9f8858" stroke="#9f8858" stroke-width="1.0" stroke-linejoin="round"/>
<polygon points="277.2,363.6 285.3,361.6 280.7,353.9 272.6,355.8" fill="#9d9249" stroke="#9d9249" stroke-width="1.0" stroke-linejoin="round"/>
<polygon points="335.7,374.3 343.6,372.3 338.8,368.3 331.0,370.3" fill="#9a9341" stroke="#9a9341" stroke-width="1.0" stroke-linejoin="round"/>
<polygon points="183.0,277.9 191.3,276.1 186.9,263.3 178.5,265.0" fill="#a37078" stroke="#a37078" stroke-width="1.0" stroke-linejoin="round"/>
<polygon points="226.3,331.0 234.5,329.2 229.9,315.1 221.7,316.9" fill="#a0845f" stroke="#a0845f" stroke-width="1.0" stroke-linejoin="round"/>
<polygon points="289.9,368.2 297.9,366.2 293.3,359.7 285.3,361.6" fill="#9c9246" stroke="#9c9246" stroke-width="1.0" stroke-linejoin="round"/>
<polygon points="381.5,376.0 389.3,374.0 384.3,370.9 376.6,372.9" fill="#9a9340" stroke="#9a9340" stroke-width="1.0" stroke-linejoin="round"/>
<polygon points="213.4,318.7 221.7,316.9 217.1,301.8 208.8,303.5" fill="#a17f65" stroke="#a17f65" stroke-width="1.0" stroke-linejoin="round"/>
<polygon points="348.4,375.8 356.2,373.7 351.4,370.2 343.6,372.3" fill="#9a9341" stroke="#9a9341" stroke-width="1.0" stroke-linejoin="round"/>
<polygon points="302.5,371.7 310.5,369.7 305.8,364.2 297.9,366.2" fill="#9b9244" stroke="#9b9244" stroke-width="1.0" stroke-linejoin="round"/>
<polygon points="200.5,305.3 208.8,303.5 204.2,288.5 195.9,290.2" fill="#a27a6c" stroke="#a27a6c" stroke-width="1.0" stroke-linejoin="round"/>
<polygon points="315.1,374.3 323.1,372.3 318.4,367.7 310.5,369.7" fill="#9b9342" stroke="#9b9342" stroke-width="1.0" stroke-linejoin="round"/>
<polygon points="361.1,376.9 368.9,374.9 364.0,371.7 356.2,373.7" fill="#9a9340" stroke="#9a9340" stroke-width="1.0" stroke-linejoin="round"/>
<polygon points="187.5,291.9 195.9,290.2 191.3,276.1 183.0,277.9" fill="#a27572" stroke="#a27572" stroke-width="1.0" stroke-linejoin="round"/>
<polygon points="243.7,352.4 251.9,350.5 247.3,339.8 239.1,341.7" fill="#9e8c52" stroke="#9e8c52" stroke-width="1.0" stroke-linejoin="round"/>
<polygon points="256.4,359.7 264.5,357.8 260.0,348.6 251.9,350.5" fill="#9e8f4d" stroke="#9e8f4d" stroke-width="1.0" stroke-linejoin="round"/>
<polygon points="230.9,343.6 239.1,341.7 234.5,329.2 226.3,331.0" fill="#9f8858" stroke="#9f8858" stroke-width="1.0" stroke-linejoin="round"/>
<polygon points="269.1,365.5 277.2,363.6 272.6,355.8 264.5,357.8" fill="#9d9249" stroke="#9d9249" stroke-width="1.0" stroke-linejoin="round"/>
<polygon points="327.8,376.3 335.7,374.3 331.0,370.3 323.1,372.3" fill="#9a9341" stroke="#9a9341" stroke-width="1.0" stroke-linejoin="round"/>
<polygon points="218.0,332.9 226.3,331.0 221.7,316.9 213.4,318.7" fill="#a0845f" stroke="#a0845f" stroke-width="1.0" stroke-linejoin="round"/>
<polygon points="281.8,370.1 289.9,368.2 285.3,361.6 277.2,363.6" fill="#9c9246" stroke="#9c9246" stroke-width="1.0" stroke-linejoin="round"/>
<polygon points="373.8,378.0 381.5,376.0 376.6,372.9 368.9,374.9" fill="#9a9340" stroke="#9a9340" stroke-width="1.0" stroke-linejoin="round"/>
<polygon points="205.1,320.5 213.4,318.7 208.8,303.5 200.5,305.3" fill="#a17f65" stroke="#a17f65" stroke-width="1.0" stroke-linejoin="round"/>
<polygon points="340.5,377.8 348.4,375.8 343.6,372.3 335.7,374.3" fill="#9a9341" stroke="#9a9341" stroke-width="1.0" stroke-linejoin="round"/>
<polygon points="294.5,373.7 302.5,371.7 297.9,366.2 289.9,368.2" fill="#9b9244" stroke="#9b9244" stroke-width="1.0" stroke-linejoin="round"/>
<polygon points="192.1,307.1 200.5,305.3 195.9,290.2 187.5,291.9" fill="#a27a6c" stroke="#a27a6c" stroke-width="1.0" stroke-linejoin="round"/>
<polygon points="307.2,376.4 315.1,374.3 310.5,369.7 302.5,371.7" fill="#9b9342" stroke="#9b9342" stroke-width="1.0" stroke-linejoin="round"/>
<polygon points="353.2,379.0 361.1,376.9 356.2,373.7 348.4,375.8" fill="#9a9340" stroke="#9a9340" stroke-width="1.0" stroke-linejoin="round"/>
<polygon points="235.4,354.4 243.7,352.4 239.1,341.7 230.9,343.6" fill="#9e8c52" stroke="#9e8c52" stroke-width="1.0" stroke-linejoin="round"/>
<polygon points="248.2,361.7 256.4,359.7 251.9,350.5 243.7,352.4" fill="#9e8f4d" stroke="#9e8f4d" stroke-width="1.0" stroke-linejoin="round"/>
<polygon points="222.6,345.5 230.9,343.6 226.3,331.0 218.0,332.9" fill="#9f8858" stroke="#9f8858" stroke-width="1.0" stroke-linejoin="round"/>
<polygon points="261.0,367.5 269.1,365.5 264.5,357.8 256.4,359.7" fill="#9d9249" stroke="#9d9249" stroke-width="1.0" stroke-linejoin="round"/>
<polygon points="319.8,378.3 327.8,376.3 323.1,372.3 315.1,374.3" fill="#9a9341" stroke="#9a9341" stroke-width="1.0" stroke-linejoin="round"/>
<polygon points="209.7,334.7 218.0,332.9 213.4,318.7 205.1,320.5" fill="#a0845f" stroke="#a0845f" stroke-width="1.0" stroke-linejoin="round"/>
<polygon points="273.7,372.1 281.8,370.1 277.2,363.6 269.1,365.5" fill="#9c9246" stroke="#9c9246" stroke-width="1.0" stroke-linejoin="round"/>
<polygon points="365.9,380.0 373.8,378.0 368.9,374.9 361.1,376.9" fill="#9a9340" stroke="#9a9340" stroke-width="1.0" stroke-linejoin="round"/>
<polygon points="196.7,322.3 205.1,320.5 200.5,305.3 192.1,307.1" fill="#a17f65" stroke="#a17f65" stroke-width="1.0" stroke-linejoin="round"/>
<polygon points="332.6,379.8 340.5,377.8 335.7,374.3 327.8,376.3" fill="#9a9341" stroke="#9a9341" stroke-width="1.0" stroke-linejoin="round"/>
<polygon points="286.4,375.7 294.5,373.7 289.9,368.2 281.8,370.1" fill="#9b9244" stroke="#9b9244" stroke-width="1.0" stroke-linejoin="round"/>
<polygon points="299.1,378.4 307.2,376.4 302.5,371.7 294.5,373.7" fill="#9b9342" stroke="#9b9342" stroke-width="1.0" stroke-linejoin="round"/>
<polygon points="345.3,381.0 353.2,379.0 348.4,375.8 340.5,377.8" fill="#9a9340" stroke="#9a9340" stroke-width="1.0" stroke-linejoin="round"/>
<polygon points="227.2,356.3 235.4,354.4 230.9,343.6 222.6,345.5" fill="#9e8c52" stroke="#9e8c52" stroke-width="1.0" stroke-linejoin="round"/>
<polygon points="240.0,363.6 248.2,361.7 243.7,352.4 235.4,354.4" fill="#9e8f4d" stroke="#9e8f4d" stroke-width="1.0" stroke-linejoin="round"/>
<polygon points="214.3,347.4 222.6,345.5 218.0,332.9 209.7,334.7" fill="#9f8858" stroke="#9f8858" stroke-width="1.0" stroke-linejoin="round"/>
<polygon points="252.7,369.5 261.0,367.5 256.4,359.7 248.2,361.7" fill="#9d9249" stroke="#9d9249" stroke-width="1.0" stroke-linejoin="round"/>
<polygon points="311.8,380.4 319.8,378.3 315.1,374.3 307.2,376.4" fill="#9a9341" stroke="#9a9341" stroke-width="1.0" stroke-linejoin="round"/>
<polygon points="201.3,336.6 209.7,334.7 205.1,320.5 196.7,322.3" fill="#a0845f" stroke="#a0845f" stroke-width="1.0" stroke-linejoin="round"/>
<polygon points="265.5,374.1 273.7,372.1 269.1,365.5 261.0,367.5" fill="#9c9246" stroke="#9c9246" stroke-width="1.0" stroke-linejoin="round"/>
<polygon points="358.1,382.0 365.9,380.0 361.1,376.9 353.2,379.0" fill="#9a9340" stroke="#9a9340" stroke-width="1.0" stroke-linejoin="round"/>
<polygon points="324.6,381.8 332.6,379.8 327.8,376.3 319.8,378.3" fill="#9a9341" stroke="#9a9341" stroke-width="1.0" stroke-linejoin="round"/>
<polygon points="278.2,377.7 286.4,375.7 281.8,370.1 273.7,372.1" fill="#9b9244" stroke="#9b9244" stroke-width="1.0" stroke-linejoin="round"/>
<polygon points="291.0,380.4 299.1,378.4 294.5,373.7 286.4,375.7" fill="#9b9342" stroke="#9b9342" stroke-width="1.0" stroke-linejoin="round"/>
<polygon points="337.3,383.0 345.3,381.0 340.5,377.8 332.6,379.8" fill="#9a9340" stroke="#9a9340" stroke-width="1.0" stroke-linejoin="round"/>
<polygon points="218.8,358.2 227.2,356.3 222.6,345.5 214.3,347.4" fill="#9e8c52" stroke="#9e8c52" stroke-width="1.0" stroke-linejoin="round"/>
<polygon points="231.7,365.6 240.0,363.6 235.4,354.4 227.2,356.3" fill="#9e8f4d" stroke="#9e8f4d" stroke-width="1.0" stroke-linejoin="round"/>
<polygon points="205.9,349.3 214.3,347.4 209.7,334.7 201.3,336.6" fill="#9f8858" stroke="#9f8858" stroke-width="1.0" stroke-linejoin="round"/>
<polygon points="244.5,371.5 252.7,369.5 248.2,361.7 240.0,363.6" fill="#9d9249" stroke="#9d9249" stroke-width="1.0" stroke-linejoin="round"/>
<polygon points="303.8,382.4 311.8,380.4 307.2,376.4 299.1,378.4" fill="#9a9341" stroke="#9a9341" stroke-width="1.0" stroke-linejoin="round"/>
<polygon points="257.3,376.1 265.5,374.1 261.0,367.5 252.7,369.5" fill="#9c9246" stroke="#9c9246" stroke-width="1.0" stroke-linejoin="round"/>
<polygon points="350.1,384.1 358.1,382.0 353.2,379.0 345.3,381.0" fill="#9a9340" stroke="#9a9340" stroke-width="1.0" stroke-linejoin="round"/>
<polygon points="316.5,383.9 324.6,381.8 319.8,378.3 311.8,380.4" fill="#9a9341" stroke="#9a9341" stroke-width="1.0" stroke-linejoin="round"/>
<polygon points="270.1,379.7 278.2,377.7 273.7,372.1 265.5,374.1" fill="#9b9244" stroke="#9b9244" stroke-width="1.0" stroke-linejoin="round"/>
<polygon points="282.8,382.4 291.0,380.4 286.4,375.7 278.2,377.7" fill="#9b9342" stroke="#9b9342" stroke-width="1.0" stroke-linejoin="round"/>
<polygon points="329.3,385.1 337.3,383.0 332.6,379.8 324.6,381.8" fill="#9a9340" stroke="#9a9340" stroke-width="1.0" stroke-linejoin="round"/>
<polygon points="210.4,360.2 218.8,358.2 214.3,347.4 205.9,349.3" fill="#9e8c52" stroke="#9e8c52" stroke-width="1.0" stroke-linejoin="round"/>
<polygon points="223.3,367.6 231.7,365.6 227.2,356.3 218.8,358.2" fill="#9e8f4d" stroke="#9e8f4d" stroke-width="1.0" stroke-linejoin="round"/>
<polygon points="236.2,373.5 244.5,371.5 240.0,363.6 231.7,365.6" fill="#9d9249" stroke="#9d9249" stroke-width="1.0" stroke-linejoin="round"/>
<polygon points="295.6,384.4 303.8,382.4 299.1,378.4 291.0,380.4" fill="#9a9341" stroke="#9a9341" stroke-width="1.0" stroke-linejoin="round"/>
<polygon points="249.0,378.1 257.3,376.1 252.7,369.5 244.5,371.5" fill="#9c9246" stroke="#9c9246" stroke-width="1.0" stroke-linejoin="round"/>
<polygon points="342.2,386.1 350.1,384.1 345.3,381.0 337.3,383.0" fill="#9a9340" stroke="#9a9340" stroke-width="1.0" stroke-linejoin="round"/>
<polygon points="308.4,385.9 316.5,383.9 311.8,380.4 303.8,382.4" fill="#9a9341" stroke="#9a9341" stroke-width="1.0" stroke-linejoin="round"/>
<polygon points="261.8,381.7 270.1,379.7 265.5,374.1 257.3,376.1" fill="#9b9244" stroke="#9b9244" stroke-width="1.0" stroke-linejoin="round"/>
<polygon points="274.6,384.5 282.8,382.4 278.2,377.7 270.1,379.7" fill="#9b9342" stroke="#9b9342" stroke-width="1.0" stroke-linejoin="round"/>
<polygon points="321.3,387.1 329.3,385.1 324.6,381.8 316.5,383.9" fill="#9a9340" stroke="#9a9340" stroke-width="1.0" stroke-linejoin="round"/>
<polygon points="214.9,369.5 223.3,367.6 218.8,358.2 210.4,360.2" fill="#9e8f4d" stroke="#9e8f4d" stroke-width="1.0" stroke-linejoin="round"/>
<polygon points="227.8,375.5 236.2,373.5 231.7,365.6 223.3,367.6" fill="#9d9249" stroke="#9d9249" stroke-width="1.0" stroke-linejoin="round"/>
<polygon points="287.5,386.5 295.6,384.4 291.0,380.4 282.8,382.4" fill="#9a9341" stroke="#9a9341" stroke-width="1.0" stroke-linejoin="round"/>
<polygon points="240.7,380.2 249.0,378.1 244.5,371.5 236.2,373.5" fill="#9c9246" stroke="#9c9246" stroke-width="1.0" stroke-linejoin="round"/>
<polygon points="334.1,388.1 342.2,386.1 337.3,383.0 329.3,385.1" fill="#9a9340" stroke="#9a9340" stroke-width="1.0" stroke-linejoin="round"/>
<polygon points="300.3,388.0 308.4,385.9 303.8,382.4 295.6,384.4" fill="#9a9341" stroke="#9a9341" stroke-width="1.0" stroke-linejoin="round"/>
<polygon points="253.5,383.8 261.8,381.7 257.3,376.1 249.0,378.1" fill="#9b9244" stroke="#9b9244" stroke-width="1.0" stroke-linejoin="round"/>
<polygon points="266.4,386.5 274.6,384.5 270.1,379.7 261.8,381.7" fill="#9b9342" stroke="#9b9342" stroke-width="1.0" stroke-linejoin="round"/>
<polygon points="313.2,389.2 321.3,387.1 316.5,383.9 308.4,385.9" fill="#9a9340" stroke="#9a9340" stroke-width="1.0" stroke-linejoin="round"/>
<polygon points="219.4,377.5 227.8,375.5 223.3,367.6 214.9,369.5" fill="#9d9249" stroke="#9d9249" stroke-width="1.0" stroke-linejoin="round"/>
<polygon points="279.2,388.6 287.5,386.5 282.8,382.4 274.6,384.5" fill="#9a9341" stroke="#9a9341" stroke-width="1.0" stroke-linejoin="round"/>
<polygon points="232.3,382.2 240.7,380.2 236.2,373.5 227.8,375.5" fill="#9c9246" stroke="#9c9246" stroke-width="1.0" stroke-linejoin="round"/>
<polygon points="326.1,390.2 334.1,388.1 329.3,385.1 321.3,387.1" fill="#9a9340" stroke="#9a9340" stroke-width="1.0" stroke-linejoin="round"/>
<polygon points="292.1,390.1 300.3,388.0 295.6,384.4 287.5,386.5" fill="#9a9341" stroke="#9a9341" stroke-width="1.0" stroke-linejoin="round"/>
<polygon points="245.2,385.8 253.5,383.8 249.0,378.1 240.7,380.2" fill="#9b9244" stroke="#9b9244" stroke-width="1.0" stroke-linejoin="round"/>
<polygon points="258.0,388.6 266.4,386.5 261.8,381.7 253.5,383.8" fill="#9b9342" stroke="#9b9342" stroke-width="1.0" stroke-linejoin="round"/>
<polygon points="305.0,391.2 313.2,389.2 308.4,385.9 300.3,388.0" fill="#9a9340" stroke="#9a9340" stroke-width="1.0" stroke-linejoin="round"/>
<polygon points="270.9,390.6 279.2,388.6 274.6,384.5 266.4,386.5" fill="#9a9341" stroke="#9a9341" stroke-width="1.0" stroke-linejoin="round"/>
<polygon points="223.8,384.3 232.3,382.2 227.8,375.5 219.4,377.5" fill="#9c9246" stroke="#9c9246" stroke-width="1.0" stroke-linejoin="round"/>
<polygon points="317.9,392.3 326.1,390.2 321.3,387.1 313.2,389.2" fill="#9a9340" stroke="#9a9340" stroke-width="1.0" stroke-linejoin="round"/>
<polygon points="283.8,392.1 292.1,390.1 287.5,386.5 279.2,388.6" fill="#9a9341" stroke="#9a9341" stroke-width="1.0" stroke-linejoin="round"/>
<polygon points="236.8,387.9 245.2,385.8 240.7,380.2 232.3,382.2" fill="#9b9244" stroke="#9b9244" stroke-width="1.0" stroke-linejoin="round"/>
<polygon points="249.7,390.7 258.0,388.6 253.5,383.8 245.2,385.8" fill="#9b9342" stroke="#9b9342" stroke-width="1.0" stroke-linejoin="round"/>
<polygon points="296.8,393.3 305.0,391.2 300.3,388.0 292.1,390.1" fill="#9a9340" stroke="#9a9340" stroke-width="1.0" stroke-linejoin="round"/>
<polygon points="262.6,392.7 270.9,390.6 266.4,386.5 258.0,388.6" fill="#9a9341" stroke="#9a9341" stroke-width="1.0" stroke-linejoin="round"/>
<polygon points="309.7,394.4 317.9,392.3 313.2,389.2 305.0,391.2" fill="#9a9340" stroke="#9a9340" stroke-width="1.0" stroke-linejoin="round"/>
<polygon points="275.5,394.2 283.8,392.1 279.2,388.6 270.9,390.6" fill="#9a9341" stroke="#9a9341" stroke-width="1.0" stroke-linejoin="round"/>
<polygon points="228.3,390.0 236.8,387.9 232.3,382.2 223.8,384.3" fill="#9b9244" stroke="#9b9244" stroke-width="1.0" stroke-linejoin="round"/>
<polygon points="241.2,392.8 249.7,390.7 245.2,385.8 236.8,387.9" fill="#9b9342" stroke="#9b9342" stroke-width="1.0" stroke-linejoin="round"/>
<polygon points="288.5,395.4 296.8,393.3 292.1,390.1 283.8,392.1" fill="#9a9340" stroke="#9a9340" stroke-width="1.0" stroke-linejoin="round"/>
<polygon points="254.2,394.8 262.6,392.7 258.0,388.6 249.7,390.7" fill="#9a9341" stroke="#9a9341" stroke-width="1.0" stroke-linejoin="round"/>
<polygon points="301.5,396.5 309.7,394.4 305.0,391.2 296.8,393.3" fill="#9a9340" stroke="#9a9340" stroke-width="1.0" stroke-linejoin="round"/>
<polygon points="267.2,396.3 275.5,394.2 270.9,390.6 262.6,392.7" fill="#9a9341" stroke="#9a9341" stroke-width="1.0" stroke-linejoin="round"/>
<polygon points="232.8,394.9 241.2,392.8 236.8,387.9 228.3,390.0" fill="#9b9342" stroke="#9b9342" stroke-width="1.0" stroke-linejoin="round"/>
<polygon points="280.2,397.5 288.5,395.4 283.8,392.1 275.5,394.2" fill="#9a9340" stroke="#9a9340" stroke-width="1.0" stroke-linejoin="round"/>
<polygon points="245.7,396.9 254.2,394.8 249.7,390.7 241.2,392.8" fill="#9a9341" stroke="#9a9341" stroke-width="1.0" stroke-linejoin="round"/>
<polygon points="293.2,398.6 301.5,396.5 296.8,393.3 288.5,395.4" fill="#9a9340" stroke="#9a9340" stroke-width="1.0" stroke-linejoin="round"/>
<polygon points="258.7,398.5 267.2,396.3 262.6,392.7 254.2,394.8" fill="#9a9341" stroke="#9a9341" stroke-width="1.0" stroke-linejoin="round"/>
<polygon points="271.8,399.7 280.2,397.5 275.5,394.2 267.2,396.3" fill="#9a9340" stroke="#9a9340" stroke-width="1.0" stroke-linejoin="round"/>
<polygon points="237.2,399.1 245.7,396.9 241.2,392.8 232.8,394.9" fill="#9a9341" stroke="#9a9341" stroke-width="1.0" stroke-linejoin="round"/>
<polygon points="284.8,400.7 293.2,398.6 288.5,395.4 280.2,397.5" fill="#9a9340" stroke="#9a9340" stroke-width="1.0" stroke-linejoin="round"/>
<polygon points="250.3,400.6 258.7,398.5 254.2,394.8 245.7,396.9" fill="#9a9341" stroke="#9a9341" stroke-width="1.0" stroke-linejoin="round"/>
<polygon points="263.3,401.8 271.8,399.7 267.2,396.3 258.7,398.5" fill="#9a9340" stroke="#9a9340" stroke-width="1.0" stroke-linejoin="round"/>
<polygon points="276.4,402.9 284.8,400.7 280.2,397.5 271.8,399.7" fill="#9a9340" stroke="#9a9340" stroke-width="1.0" stroke-linejoin="round"/>
<polygon points="241.7,402.7 250.3,400.6 245.7,396.9 237.2,399.1" fill="#9a9341" stroke="#9a9341" stroke-width="1.0" stroke-linejoin="round"/>
<polygon points="254.8,404.0 263.3,401.8 258.7,398.5 250.3,400.6" fill="#9a9340" stroke="#9a9340" stroke-width="1.0" stroke-linejoin="round"/>
<polygon points="268.0,405.0 276.4,402.9 271.8,399.7 263.3,401.8" fill="#9a9340" stroke="#9a9340" stroke-width="1.0" stroke-linejoin="round"/>
<polygon points="246.3,406.1 254.8,404.0 250.3,400.6 241.7,402.7" fill="#9a9340" stroke="#9a9340" stroke-width="1.0" stroke-linejoin="round"/>
<polygon points="259.4,407.2 268.0,405.0 263.3,401.8 254.8,404.0" fill="#9a9340" stroke="#9a9340" stroke-width="1.0" stroke-linejoin="round"/>
<polygon points="250.8,409.4 259.4,407.2 254.8,404.0 246.3,406.1" fill="#9a9340" stroke="#9a9340" stroke-width="1.0" stroke-linejoin="round"/>
</g>
<line x1="517.4" y1="343.7" x2="532.3" y2="338.2" stroke="#303030" stroke-width="1.1"/>
<circle cx="526.3" cy="340.4" r="2.5" fill="#303030"/>
<line x1="490.2" y1="316.8" x2="506.2" y2="309.1" stroke="#303030" stroke-width="1.1"/>
<circle cx="497.3" cy="313.4" r="2.5" fill="#303030"/>
<line x1="466.3" y1="230.9" x2="481.4" y2="225.5" stroke="#303030" stroke-width="1.1"/>
<circle cx="474.4" cy="228.0" r="2.5" fill="#303030"/>
<line x1="456.1" y1="190.8" x2="472.3" y2="185.4" stroke="#303030" stroke-width="1.1"/>
<circle cx="463.1" cy="188.4" r="2.5" fill="#303030"/>
<line x1="445.0" y1="162.0" x2="456.4" y2="157.3" stroke="#303030" stroke-width="1.1"/>
<circle cx="451.4" cy="159.4" r="2.5" fill="#303030"/>
<line x1="431.3" y1="138.5" x2="445.1" y2="136.1" stroke="#303030" stroke-width="1.1"/>
<circle cx="439.2" cy="137.1" r="2.5" fill="#303030"/>
<line x1="418.5" y1="119.4" x2="434.5" y2="116.0" stroke="#303030" stroke-width="1.1"/>
<circle cx="425.8" cy="117.8" r="2.5" fill="#303030"/>
<line x1="402.7" y1="81.6" x2="418.2" y2="79.3" stroke="#303030" stroke-width="1.1"/>
<circle cx="409.2" cy="80.6" r="2.5" fill="#303030"/>
<line x1="378.5" y1="56.1" x2="393.6" y2="54.7" stroke="#303030" stroke-width="1.1"/>
<circle cx="387.3" cy="55.3" r="2.5" fill="#303030"/>
<line x1="99.1" y1="103.3" x2="104.9" y2="100.2" stroke="#303030" stroke-width="1.1"/>
<circle cx="99.1" cy="103.3" r="2.5" fill="#303030"/>
<line x1="122.6" y1="97.7" x2="139.9" y2="92.0" stroke="#303030" stroke-width="1.1"/>
<circle cx="130.7" cy="95.1" r="2.5" fill="#303030"/>
<line x1="155.2" y1="94.9" x2="168.7" y2="90.2" stroke="#303030" stroke-width="1.1"/>
<circle cx="162.0" cy="92.5" r="2.5" fill="#303030"/>
<line x1="182.5" y1="82.1" x2="199.8" y2="77.2" stroke="#303030" stroke-width="1.1"/>
<circle cx="192.1" cy="79.4" r="2.5" fill="#303030"/>
<line x1="213.4" y1="73.8" x2="229.1" y2="70.5" stroke="#303030" stroke-width="1.1"/>
<circle cx="221.9" cy="72.0" r="2.5" fill="#303030"/>
<line x1="244.1" y1="66.5" x2="259.2" y2="60.5" stroke="#303030" stroke-width="1.1"/>
<circle cx="250.9" cy="63.8" r="2.5" fill="#303030"/>
<line x1="273.3" y1="57.1" x2="284.9" y2="52.2" stroke="#303030" stroke-width="1.1"/>
<circle cx="279.4" cy="54.6" r="2.5" fill="#303030"/>
<line x1="299.9" y1="47.0" x2="313.1" y2="44.1" stroke="#303030" stroke-width="1.1"/>
<circle cx="307.2" cy="45.4" r="2.5" fill="#303030"/>
<line x1="328.4" y1="41.7" x2="341.4" y2="38.0" stroke="#303030" stroke-width="1.1"/>
<circle cx="334.5" cy="40.0" r="2.5" fill="#303030"/>
<line x1="351.8" y1="34.6" x2="366.8" y2="33.1" stroke="#303030" stroke-width="1.1"/>
<circle cx="359.6" cy="33.8" r="2.5" fill="#303030"/>
<text x="88.2" y="70.7" font-size="15.3" font-family="Liberation Sans, sans-serif">Mg<tspan font-size="10.8" dy="-6.2">2+</tspan><tspan dy="6.2">-stabilized</tspan></text>
<text x="367.4" y="32.5" font-size="15.2" font-family="Liberation Sans, sans-serif">Ligand bound</text>
<text x="258.4" y="424.8" font-size="15" font-family="Liberation Sans, sans-serif">Unfolded</text>
<text x="3.2" y="12.5" font-size="21" font-weight="bold" font-family="Liberation Sans, sans-serif">a</text>
<defs><linearGradient id="cb" x1="0" y1="1" x2="0" y2="0">
<stop offset="0.000" stop-color="#7e8544"/>
<stop offset="0.090" stop-color="#85783e"/>
<stop offset="0.190" stop-color="#8e6a48"/>
<stop offset="0.290" stop-color="#975a5a"/>
<stop offset="0.390" stop-color="#9e5070"/>
<stop offset="0.490" stop-color="#a84a85"/>
<stop offset="0.590" stop-color="#b03c95"/>
<stop offset="0.690" stop-color="#aa4498"/>
<stop offset="0.830" stop-color="#a24e9c"/>
<stop offset="1.000" stop-color="#9a5a9e"/>
</linearGradient></defs>
<rect x="587.4" y="47.6" width="10.7" height="312.1" fill="url(#cb)"/>
<text x="605.7" y="87.0" font-size="15" font-family="Liberation Sans, sans-serif">0.6</text>
<text x="605.7" y="149.4" font-size="15" font-family="Liberation Sans, sans-serif">0.5</text>
<text x="605.7" y="211.8" font-size="15" font-family="Liberation Sans, sans-serif">0.4</text>
<text x="605.7" y="274.2" font-size="15" font-family="Liberation Sans, sans-serif">0.3</text>
<text x="605.7" y="336.6" font-size="15" font-family="Liberation Sans, sans-serif">0.2</text>
<text x="2.7" y="533.3" font-size="21" font-weight="bold" font-family="Liberation Sans, sans-serif">b</text>
<polyline points="74.1,528.9 74.1,745.2 336,745.2" stroke="#111" stroke-width="1.3" fill="none"/>
<line x1="69.1" y1="529.7" x2="74.1" y2="529.7" stroke="#111" stroke-width="1.3" fill="none"/>
<text x="61.2" y="535.0" text-anchor="end" font-size="15" font-family="Liberation Sans, sans-serif">0.7</text>
<line x1="71.5" y1="547.7" x2="74.1" y2="547.7" stroke="#111" stroke-width="1.3" fill="none"/>
<line x1="69.1" y1="565.7" x2="74.1" y2="565.7" stroke="#111" stroke-width="1.3" fill="none"/>
<text x="61.2" y="571.0" text-anchor="end" font-size="15" font-family="Liberation Sans, sans-serif">0.6</text>
<line x1="71.5" y1="583.7" x2="74.1" y2="583.7" stroke="#111" stroke-width="1.3" fill="none"/>
<line x1="69.1" y1="601.7" x2="74.1" y2="601.7" stroke="#111" stroke-width="1.3" fill="none"/>
<text x="61.2" y="607.0" text-anchor="end" font-size="15" font-family="Liberation Sans, sans-serif">0.5</text>
<line x1="71.5" y1="619.7" x2="74.1" y2="619.7" stroke="#111" stroke-width="1.3" fill="none"/>
<line x1="69.1" y1="637.6" x2="74.1" y2="637.6" stroke="#111" stroke-width="1.3" fill="none"/>
<text x="61.2" y="642.9" text-anchor="end" font-size="15" font-family="Liberation Sans, sans-serif">0.4</text>
<line x1="71.5" y1="655.6" x2="74.1" y2="655.6" stroke="#111" stroke-width="1.3" fill="none"/>
<line x1="69.1" y1="673.6" x2="74.1" y2="673.6" stroke="#111" stroke-width="1.3" fill="none"/>
<text x="61.2" y="678.9" text-anchor="end" font-size="15" font-family="Liberation Sans, sans-serif">0.3</text>
<line x1="71.5" y1="691.6" x2="74.1" y2="691.6" stroke="#111" stroke-width="1.3" fill="none"/>
<line x1="69.1" y1="709.6" x2="74.1" y2="709.6" stroke="#111" stroke-width="1.3" fill="none"/>
<text x="61.2" y="714.9" text-anchor="end" font-size="15" font-family="Liberation Sans, sans-serif">0.2</text>
<line x1="71.5" y1="727.6" x2="74.1" y2="727.6" stroke="#111" stroke-width="1.3" fill="none"/>
<line x1="99.8" y1="745.2" x2="99.8" y2="750.2" stroke="#111" stroke-width="1.3" fill="none"/>
<line x1="126.5" y1="745.2" x2="126.5" y2="747.8" stroke="#111" stroke-width="1.3" fill="none"/>
<line x1="132.9" y1="745.2" x2="132.9" y2="747.8" stroke="#111" stroke-width="1.3" fill="none"/>
<line x1="137.8" y1="745.2" x2="137.8" y2="747.8" stroke="#111" stroke-width="1.3" fill="none"/>
<line x1="141.9" y1="745.2" x2="141.9" y2="747.8" stroke="#111" stroke-width="1.3" fill="none"/>
<line x1="145.3" y1="745.2" x2="145.3" y2="747.8" stroke="#111" stroke-width="1.3" fill="none"/>
<line x1="148.2" y1="745.2" x2="148.2" y2="747.8" stroke="#111" stroke-width="1.3" fill="none"/>
<line x1="150.9" y1="745.2" x2="150.9" y2="747.8" stroke="#111" stroke-width="1.3" fill="none"/>
<line x1="153.2" y1="745.2" x2="153.2" y2="750.2" stroke="#111" stroke-width="1.3" fill="none"/>
<line x1="168.6" y1="745.2" x2="168.6" y2="747.8" stroke="#111" stroke-width="1.3" fill="none"/>
<line x1="177.6" y1="745.2" x2="177.6" y2="747.8" stroke="#111" stroke-width="1.3" fill="none"/>
<line x1="184.0" y1="745.2" x2="184.0" y2="747.8" stroke="#111" stroke-width="1.3" fill="none"/>
<line x1="188.9" y1="745.2" x2="188.9" y2="747.8" stroke="#111" stroke-width="1.3" fill="none"/>
<line x1="193.0" y1="745.2" x2="193.0" y2="747.8" stroke="#111" stroke-width="1.3" fill="none"/>
<line x1="196.4" y1="745.2" x2="196.4" y2="747.8" stroke="#111" stroke-width="1.3" fill="none"/>
<line x1="199.3" y1="745.2" x2="199.3" y2="747.8" stroke="#111" stroke-width="1.3" fill="none"/>
<line x1="202.0" y1="745.2" x2="202.0" y2="747.8" stroke="#111" stroke-width="1.3" fill="none"/>
<line x1="204.3" y1="745.2" x2="204.3" y2="750.2" stroke="#111" stroke-width="1.3" fill="none"/>
<line x1="219.7" y1="745.2" x2="219.7" y2="747.8" stroke="#111" stroke-width="1.3" fill="none"/>
<line x1="228.7" y1="745.2" x2="228.7" y2="747.8" stroke="#111" stroke-width="1.3" fill="none"/>
<line x1="235.1" y1="745.2" x2="235.1" y2="747.8" stroke="#111" stroke-width="1.3" fill="none"/>
<line x1="240.0" y1="745.2" x2="240.0" y2="747.8" stroke="#111" stroke-width="1.3" fill="none"/>
<line x1="244.1" y1="745.2" x2="244.1" y2="747.8" stroke="#111" stroke-width="1.3" fill="none"/>
<line x1="247.5" y1="745.2" x2="247.5" y2="747.8" stroke="#111" stroke-width="1.3" fill="none"/>
<line x1="250.4" y1="745.2" x2="250.4" y2="747.8" stroke="#111" stroke-width="1.3" fill="none"/>
<line x1="253.1" y1="745.2" x2="253.1" y2="747.8" stroke="#111" stroke-width="1.3" fill="none"/>
<line x1="255.4" y1="745.2" x2="255.4" y2="750.2" stroke="#111" stroke-width="1.3" fill="none"/>
<line x1="270.8" y1="745.2" x2="270.8" y2="747.8" stroke="#111" stroke-width="1.3" fill="none"/>
<line x1="279.8" y1="745.2" x2="279.8" y2="747.8" stroke="#111" stroke-width="1.3" fill="none"/>
<line x1="286.2" y1="745.2" x2="286.2" y2="747.8" stroke="#111" stroke-width="1.3" fill="none"/>
<line x1="291.1" y1="745.2" x2="291.1" y2="747.8" stroke="#111" stroke-width="1.3" fill="none"/>
<line x1="295.2" y1="745.2" x2="295.2" y2="747.8" stroke="#111" stroke-width="1.3" fill="none"/>
<line x1="298.6" y1="745.2" x2="298.6" y2="747.8" stroke="#111" stroke-width="1.3" fill="none"/>
<line x1="301.5" y1="745.2" x2="301.5" y2="747.8" stroke="#111" stroke-width="1.3" fill="none"/>
<line x1="304.2" y1="745.2" x2="304.2" y2="747.8" stroke="#111" stroke-width="1.3" fill="none"/>
<line x1="306.5" y1="745.2" x2="306.5" y2="750.2" stroke="#111" stroke-width="1.3" fill="none"/>
<line x1="321.9" y1="745.2" x2="321.9" y2="747.8" stroke="#111" stroke-width="1.3" fill="none"/>
<line x1="330.9" y1="745.2" x2="330.9" y2="747.8" stroke="#111" stroke-width="1.3" fill="none"/>
<line x1="110.1" y1="749.6" x2="114.5" y2="741.2" stroke="#111" stroke-width="1.3" fill="none"/>
<line x1="114.9" y1="749.6" x2="119.4" y2="741.2" stroke="#111" stroke-width="1.3" fill="none"/>
<text x="99.8" y="769.2" text-anchor="middle" font-size="15" font-family="Liberation Sans, sans-serif">0</text>
<text x="153.2" y="769.2" text-anchor="middle" font-size="15" font-family="Liberation Sans, sans-serif">0.1</text>
<text x="204.3" y="769.2" text-anchor="middle" font-size="15" font-family="Liberation Sans, sans-serif">1</text>
<text x="255.4" y="769.2" text-anchor="middle" font-size="15" font-family="Liberation Sans, sans-serif">10</text>
<text x="306.5" y="769.2" text-anchor="middle" font-size="15" font-family="Liberation Sans, sans-serif">100</text>
<text x="198.7" y="789.4" text-anchor="middle" font-size="15.2" font-family="Liberation Sans, sans-serif">[c-di-GMP] (µM)</text>
<text transform="translate(13.8,663) rotate(-90)" font-size="16" font-family="Liberation Sans, sans-serif"><tspan font-style="italic">E</tspan><tspan font-size="11" dy="4.6">FRET</tspan></text>
<polygon points="78.6,571.6 91.4,571.6 91.2,721.5" fill="#bdbdbd" stroke="#111" stroke-width="1.2" stroke-linejoin="miter"/>
<text transform="translate(91.4,568.4) rotate(-90)" font-size="14" font-family="Liberation Sans, sans-serif">[Mg<tspan font-size="10" dy="-5.6">2+</tspan><tspan dy="5.6">]</tspan></text>
<line x1="99.9" y1="718.4" x2="112.5" y2="718.4" stroke="#111111" stroke-width="1.5"/>
<polyline points="116.9,718.4 119.5,718.4 122.2,718.4 124.8,718.4 127.5,718.4 130.1,718.4 132.8,718.4 135.4,718.4 138.1,718.4 140.7,718.4 143.4,718.4 146.0,718.4 148.7,718.4 151.3,718.4 154.0,718.4 156.6,718.4 159.3,718.4 161.9,718.4 164.6,718.4 167.2,718.4 169.9,718.4 172.5,718.4 175.2,718.4 177.8,718.4 180.5,718.4 183.1,718.4 185.8,718.4 188.4,718.4 191.0,718.4 193.7,718.4 196.3,718.4 199.0,718.4 201.6,718.4 204.3,718.4 206.9,718.4 209.6,718.4 212.2,718.4 214.9,718.4 217.5,718.4 220.2,718.4 222.8,718.4 225.5,718.4 228.1,718.4 230.8,718.4 233.4,718.4 236.1,718.4 238.7,718.4 241.4,718.4 244.0,718.4 246.7,718.4 249.3,718.4 252.0,718.4 254.6,718.3 257.2,718.3 259.9,718.3 262.5,718.3 265.2,718.2 267.8,718.1 270.5,718.1 273.1,718.0 275.8,717.9 278.4,717.7 281.1,717.6 283.7,717.5 286.4,717.4 289.0,717.3 291.7,717.2 294.3,717.2 297.0,717.1 299.6,717.1 302.3,717.1 304.9,717.0 307.6,717.0 310.2,717.0 312.9,717.0 315.5,717.0 318.2,717.0 320.8,717.0 323.5,717.0 326.1,717.0" fill="none" stroke="#111111" stroke-width="1.5"/>
<line x1="99.9" y1="714.0" x2="112.5" y2="714.0" stroke="#d32f2f" stroke-width="1.5"/>
<polyline points="116.9,714.0 119.5,714.0 122.2,714.0 124.8,714.0 127.5,713.9 130.1,713.9 132.8,713.9 135.4,713.9 138.1,713.9 140.7,713.9 143.4,713.9 146.0,713.9 148.7,713.9 151.3,713.9 154.0,713.9 156.6,713.9 159.3,713.9 161.9,713.8 164.6,713.8 167.2,713.8 169.9,713.8 172.5,713.8 175.2,713.8 177.8,713.8 180.5,713.8 183.1,713.7 185.8,713.7 188.4,713.7 191.0,713.7 193.7,713.7 196.3,713.6 199.0,713.6 201.6,713.6 204.3,713.6 206.9,713.5 209.6,713.5 212.2,713.5 214.9,713.4 217.5,713.4 220.2,713.4 222.8,713.3 225.5,713.3 228.1,713.2 230.8,713.2 233.4,713.2 236.1,713.1 238.7,713.1 241.4,713.0 244.0,712.9 246.7,712.9 249.3,712.8 252.0,712.8 254.6,712.7 257.2,712.6 259.9,712.5 262.5,712.5 265.2,712.4 267.8,712.3 270.5,712.2 273.1,712.1 275.8,712.0 278.4,711.9 281.1,711.8 283.7,711.7 286.4,711.6 289.0,711.5 291.7,711.4 294.3,711.2 297.0,711.1 299.6,711.0 302.3,710.9 304.9,710.7 307.6,710.6 310.2,710.5 312.9,710.3 315.5,710.2 318.2,710.0 320.8,709.9 323.5,709.7 326.1,709.6" fill="none" stroke="#d32f2f" stroke-width="1.5"/>
<line x1="99.9" y1="696.2" x2="112.5" y2="696.2" stroke="#7dc144" stroke-width="1.5"/>
<polyline points="116.9,696.2 119.5,696.2 122.2,696.2 124.8,696.2 127.5,696.2 130.1,696.2 132.8,696.2 135.4,696.2 138.1,696.2 140.7,696.2 143.4,696.2 146.0,696.2 148.7,696.1 151.3,696.1 154.0,696.1 156.6,696.1 159.3,696.1 161.9,696.1 164.6,696.1 167.2,696.0 169.9,696.0 172.5,696.0 175.2,695.9 177.8,695.9 180.5,695.9 183.1,695.8 185.8,695.8 188.4,695.7 191.0,695.6 193.7,695.5 196.3,695.4 199.0,695.3 201.6,695.2 204.3,695.1 206.9,694.9 209.6,694.7 212.2,694.5 214.9,694.3 217.5,694.0 220.2,693.8 222.8,693.4 225.5,693.1 228.1,692.7 230.8,692.2 233.4,691.7 236.1,691.1 238.7,690.5 241.4,689.9 244.0,689.1 246.7,688.3 249.3,687.4 252.0,686.5 254.6,685.5 257.2,684.4 259.9,683.3 262.5,682.1 265.2,680.9 267.8,679.6 270.5,678.3 273.1,677.0 275.8,675.7 278.4,674.4 281.1,673.1 283.7,671.8 286.4,670.6 289.0,669.4 291.7,668.3 294.3,667.2 297.0,666.2 299.6,665.2 302.3,664.3 304.9,663.5 307.6,662.7 310.2,662.1 312.9,661.4 315.5,660.9 318.2,660.3 320.8,659.9 323.5,659.5 326.1,659.1" fill="none" stroke="#7dc144" stroke-width="1.5"/>
<line x1="99.9" y1="671.4" x2="112.5" y2="671.4" stroke="#3d56a6" stroke-width="1.5"/>
<polyline points="116.9,671.3 119.5,671.3 122.2,671.3 124.8,671.3 127.5,671.3 130.1,671.3 132.8,671.3 135.4,671.3 138.1,671.2 140.7,671.2 143.4,671.2 146.0,671.2 148.7,671.2 151.3,671.1 154.0,671.1 156.6,671.1 159.3,671.0 161.9,671.0 164.6,670.9 167.2,670.9 169.9,670.8 172.5,670.7 175.2,670.6 177.8,670.5 180.5,670.4 183.1,670.3 185.8,670.2 188.4,670.0 191.0,669.8 193.7,669.6 196.3,669.4 199.0,669.2 201.6,668.9 204.3,668.6 206.9,668.2 209.6,667.8 212.2,667.4 214.9,667.0 217.5,666.4 220.2,665.9 222.8,665.3 225.5,664.6 228.1,663.9 230.8,663.1 233.4,662.3 236.1,661.4 238.7,660.4 241.4,659.4 244.0,658.4 246.7,657.3 249.3,656.2 252.0,655.0 254.6,653.8 257.2,652.7 259.9,651.5 262.5,650.3 265.2,649.2 267.8,648.0 270.5,646.9 273.1,645.9 275.8,644.9 278.4,643.9 281.1,643.0 283.7,642.2 286.4,641.4 289.0,640.6 291.7,640.0 294.3,639.3 297.0,638.8 299.6,638.2 302.3,637.8 304.9,637.3 307.6,636.9 310.2,636.6 312.9,636.3 315.5,636.0 318.2,635.7 320.8,635.5 323.5,635.3 326.1,635.1" fill="none" stroke="#3d56a6" stroke-width="1.5"/>
<line x1="99.9" y1="651.2" x2="112.5" y2="651.2" stroke="#7fcde0" stroke-width="1.5"/>
<polyline points="116.9,651.2 119.5,651.2 122.2,651.2 124.8,651.2 127.5,651.2 130.1,651.2 132.8,651.2 135.4,651.2 138.1,651.2 140.7,651.1 143.4,651.1 146.0,651.1 148.7,651.1 151.3,651.1 154.0,651.1 156.6,651.1 159.3,651.1 161.9,651.1 164.6,651.1 167.2,651.1 169.9,651.0 172.5,651.0 175.2,651.0 177.8,651.0 180.5,650.9 183.1,650.9 185.8,650.8 188.4,650.7 191.0,650.7 193.7,650.6 196.3,650.5 199.0,650.3 201.6,650.2 204.3,650.0 206.9,649.7 209.6,649.5 212.2,649.1 214.9,648.8 217.5,648.3 220.2,647.8 222.8,647.2 225.5,646.6 228.1,645.8 230.8,644.9 233.4,644.0 236.1,642.9 238.7,641.7 241.4,640.5 244.0,639.1 246.7,637.7 249.3,636.2 252.0,634.8 254.6,633.3 257.2,631.8 259.9,630.4 262.5,629.0 265.2,627.7 267.8,626.6 270.5,625.5 273.1,624.5 275.8,623.6 278.4,622.9 281.1,622.2 283.7,621.6 286.4,621.1 289.0,620.6 291.7,620.3 294.3,619.9 297.0,619.7 299.6,619.4 302.3,619.2 304.9,619.1 307.6,618.9 310.2,618.8 312.9,618.7 315.5,618.6 318.2,618.6 320.8,618.5 323.5,618.5 326.1,618.4" fill="none" stroke="#7fcde0" stroke-width="1.5"/>
<line x1="99.9" y1="634.8" x2="112.5" y2="634.8" stroke="#b45bb8" stroke-width="1.5"/>
<polyline points="116.9,634.7 119.5,634.7 122.2,634.7 124.8,634.7 127.5,634.7 130.1,634.7 132.8,634.6 135.4,634.6 138.1,634.6 140.7,634.6 143.4,634.5 146.0,634.5 148.7,634.5 151.3,634.4 154.0,634.4 156.6,634.3 159.3,634.2 161.9,634.2 164.6,634.1 167.2,634.0 169.9,633.9 172.5,633.8 175.2,633.6 177.8,633.5 180.5,633.3 183.1,633.1 185.8,632.9 188.4,632.7 191.0,632.4 193.7,632.1 196.3,631.8 199.0,631.5 201.6,631.1 204.3,630.6 206.9,630.2 209.6,629.7 212.2,629.1 214.9,628.5 217.5,627.9 220.2,627.2 222.8,626.5 225.5,625.7 228.1,624.9 230.8,624.1 233.4,623.2 236.1,622.3 238.7,621.4 241.4,620.5 244.0,619.6 246.7,618.7 249.3,617.8 252.0,616.9 254.6,616.0 257.2,615.2 259.9,614.4 262.5,613.7 265.2,613.0 267.8,612.3 270.5,611.7 273.1,611.1 275.8,610.5 278.4,610.1 281.1,609.6 283.7,609.2 286.4,608.8 289.0,608.5 291.7,608.2 294.3,607.9 297.0,607.6 299.6,607.4 302.3,607.2 304.9,607.0 307.6,606.9 310.2,606.7 312.9,606.6 315.5,606.5 318.2,606.4 320.8,606.3 323.5,606.2 326.1,606.2" fill="none" stroke="#b45bb8" stroke-width="1.5"/>
<line x1="99.9" y1="621.8" x2="112.5" y2="621.8" stroke="#e8822e" stroke-width="1.5"/>
<polyline points="116.9,621.5 119.5,621.5 122.2,621.4 124.8,621.4 127.5,621.4 130.1,621.3 132.8,621.3 135.4,621.2 138.1,621.1 140.7,621.1 143.4,621.0 146.0,620.9 148.7,620.8 151.3,620.7 154.0,620.6 156.6,620.5 159.3,620.3 161.9,620.2 164.6,620.0 167.2,619.9 169.9,619.7 172.5,619.5 175.2,619.2 177.8,619.0 180.5,618.7 183.1,618.5 185.8,618.1 188.4,617.8 191.0,617.5 193.7,617.1 196.3,616.7 199.0,616.2 201.6,615.8 204.3,615.3 206.9,614.7 209.6,614.2 212.2,613.6 214.9,613.0 217.5,612.4 220.2,611.8 222.8,611.1 225.5,610.4 228.1,609.7 230.8,609.0 233.4,608.3 236.1,607.6 238.7,606.9 241.4,606.2 244.0,605.5 246.7,604.8 249.3,604.1 252.0,603.4 254.6,602.8 257.2,602.1 259.9,601.5 262.5,601.0 265.2,600.4 267.8,599.9 270.5,599.4 273.1,598.9 275.8,598.5 278.4,598.1 281.1,597.7 283.7,597.3 286.4,597.0 289.0,596.7 291.7,596.4 294.3,596.1 297.0,595.9 299.6,595.7 302.3,595.4 304.9,595.3 307.6,595.1 310.2,594.9 312.9,594.8 315.5,594.6 318.2,594.5 320.8,594.4 323.5,594.3 326.1,594.2" fill="none" stroke="#e8822e" stroke-width="1.5"/>
<line x1="99.9" y1="597.6" x2="112.5" y2="597.6" stroke="#7d8a3a" stroke-width="1.5"/>
<polyline points="116.9,597.5 119.5,597.5 122.2,597.5 124.8,597.5 127.5,597.5 130.1,597.5 132.8,597.5 135.4,597.5 138.1,597.4 140.7,597.4 143.4,597.4 146.0,597.4 148.7,597.3 151.3,597.3 154.0,597.3 156.6,597.2 159.3,597.2 161.9,597.1 164.6,597.1 167.2,597.0 169.9,597.0 172.5,596.9 175.2,596.8 177.8,596.7 180.5,596.6 183.1,596.5 185.8,596.4 188.4,596.3 191.0,596.1 193.7,596.0 196.3,595.8 199.0,595.6 201.6,595.5 204.3,595.2 206.9,595.0 209.6,594.7 212.2,594.5 214.9,594.2 217.5,593.9 220.2,593.5 222.8,593.1 225.5,592.7 228.1,592.3 230.8,591.9 233.4,591.4 236.1,590.9 238.7,590.4 241.4,589.8 244.0,589.3 246.7,588.7 249.3,588.0 252.0,587.4 254.6,586.8 257.2,586.1 259.9,585.4 262.5,584.8 265.2,584.1 267.8,583.4 270.5,582.8 273.1,582.1 275.8,581.5 278.4,580.9 281.1,580.3 283.7,579.7 286.4,579.1 289.0,578.6 291.7,578.1 294.3,577.6 297.0,577.1 299.6,576.7 302.3,576.3 304.9,575.9 307.6,575.5 310.2,575.2 312.9,574.9 315.5,574.6 318.2,574.3 320.8,574.1 323.5,573.8 326.1,573.6" fill="none" stroke="#7d8a3a" stroke-width="1.5"/>
<line x1="99.9" y1="588.0" x2="112.5" y2="588.0" stroke="#2c3585" stroke-width="1.5"/>
<polyline points="116.9,587.0 119.5,586.9 122.2,586.8 124.8,586.7 127.5,586.6 130.1,586.5 132.8,586.4 135.4,586.3 138.1,586.1 140.7,586.0 143.4,585.9 146.0,585.7 148.7,585.5 151.3,585.4 154.0,585.2 156.6,585.0 159.3,584.8 161.9,584.6 164.6,584.4 167.2,584.2 169.9,584.0 172.5,583.7 175.2,583.5 177.8,583.2 180.5,582.9 183.1,582.6 185.8,582.3 188.4,582.0 191.0,581.7 193.7,581.3 196.3,581.0 199.0,580.6 201.6,580.2 204.3,579.8 206.9,579.4 209.6,579.0 212.2,578.6 214.9,578.1 217.5,577.7 220.2,577.2 222.8,576.7 225.5,576.2 228.1,575.7 230.8,575.3 233.4,574.7 236.1,574.2 238.7,573.7 241.4,573.2 244.0,572.7 246.7,572.2 249.3,571.6 252.0,571.1 254.6,570.6 257.2,570.1 259.9,569.5 262.5,569.0 265.2,568.5 267.8,568.0 270.5,567.5 273.1,567.0 275.8,566.5 278.4,566.1 281.1,565.6 283.7,565.2 286.4,564.7 289.0,564.3 291.7,563.9 294.3,563.5 297.0,563.1 299.6,562.7 302.3,562.4 304.9,562.0 307.6,561.7 310.2,561.3 312.9,561.0 315.5,560.7 318.2,560.4 320.8,560.2 323.5,559.9 326.1,559.6" fill="none" stroke="#2c3585" stroke-width="1.5"/>
<line x1="99.9" y1="574.8" x2="112.5" y2="574.8" stroke="#7a2b8c" stroke-width="1.5"/>
<polyline points="116.9,573.0 119.5,572.8 122.2,572.7 124.8,572.5 127.5,572.4 130.1,572.2 132.8,572.0 135.4,571.9 138.1,571.7 140.7,571.5 143.4,571.3 146.0,571.1 148.7,570.9 151.3,570.6 154.0,570.4 156.6,570.1 159.3,569.9 161.9,569.6 164.6,569.3 167.2,569.1 169.9,568.8 172.5,568.5 175.2,568.1 177.8,567.8 180.5,567.5 183.1,567.1 185.8,566.8 188.4,566.4 191.0,566.0 193.7,565.7 196.3,565.3 199.0,564.9 201.6,564.5 204.3,564.1 206.9,563.7 209.6,563.3 212.2,562.8 214.9,562.4 217.5,562.0 220.2,561.6 222.8,561.1 225.5,560.7 228.1,560.3 230.8,559.9 233.4,559.4 236.1,559.0 238.7,558.6 241.4,558.2 244.0,557.8 246.7,557.4 249.3,556.9 252.0,556.6 254.6,556.2 257.2,555.8 259.9,555.4 262.5,555.0 265.2,554.7 267.8,554.3 270.5,554.0 273.1,553.7 275.8,553.4 278.4,553.0 281.1,552.7 283.7,552.5 286.4,552.2 289.0,551.9 291.7,551.6 294.3,551.4 297.0,551.2 299.6,550.9 302.3,550.7 304.9,550.5 307.6,550.3 310.2,550.1 312.9,549.9 315.5,549.7 318.2,549.5 320.8,549.4 323.5,549.2 326.1,549.1" fill="none" stroke="#7a2b8c" stroke-width="1.5"/>
<circle cx="99.9" cy="718.3" r="2.5" fill="#111111"/>
<circle cx="130.4" cy="718.3" r="2.5" fill="#111111"/>
<circle cx="276.7" cy="718.4" r="2.5" fill="#111111"/>
<circle cx="301.1" cy="714.4" r="2.5" fill="#111111"/>
<circle cx="325.5" cy="719.3" r="2.5" fill="#111111"/>
<circle cx="99.9" cy="714.0" r="2.5" fill="#d32f2f"/>
<circle cx="130.4" cy="714.0" r="2.5" fill="#d32f2f"/>
<circle cx="154.8" cy="714.0" r="2.5" fill="#d32f2f"/>
<circle cx="179.2" cy="713.4" r="2.5" fill="#d32f2f"/>
<circle cx="203.6" cy="713.4" r="2.5" fill="#d32f2f"/>
<circle cx="227.9" cy="713.8" r="2.5" fill="#d32f2f"/>
<circle cx="252.3" cy="713.0" r="2.5" fill="#d32f2f"/>
<circle cx="276.7" cy="711.1" r="2.5" fill="#d32f2f"/>
<circle cx="301.1" cy="711.5" r="2.5" fill="#d32f2f"/>
<circle cx="325.5" cy="709.5" r="2.5" fill="#d32f2f"/>
<circle cx="99.9" cy="697.1" r="2.5" fill="#7dc144"/>
<circle cx="130.4" cy="698.5" r="2.5" fill="#7dc144"/>
<circle cx="154.8" cy="695.0" r="2.5" fill="#7dc144"/>
<circle cx="179.2" cy="694.5" r="2.5" fill="#7dc144"/>
<circle cx="203.6" cy="693.2" r="2.5" fill="#7dc144"/>
<circle cx="227.9" cy="693.7" r="2.5" fill="#7dc144"/>
<circle cx="252.3" cy="687.2" r="2.5" fill="#7dc144"/>
<circle cx="276.7" cy="674.0" r="2.5" fill="#7dc144"/>
<circle cx="301.1" cy="665.7" r="2.5" fill="#7dc144"/>
<circle cx="325.5" cy="658.8" r="2.5" fill="#7dc144"/>
<circle cx="99.9" cy="672.3" r="2.5" fill="#3d56a6"/>
<circle cx="130.4" cy="671.0" r="2.5" fill="#3d56a6"/>
<circle cx="154.8" cy="670.5" r="2.5" fill="#3d56a6"/>
<circle cx="179.2" cy="670.5" r="2.5" fill="#3d56a6"/>
<circle cx="203.6" cy="668.5" r="2.5" fill="#3d56a6"/>
<circle cx="227.9" cy="663.8" r="2.5" fill="#3d56a6"/>
<circle cx="252.3" cy="655.3" r="2.5" fill="#3d56a6"/>
<circle cx="276.7" cy="644.1" r="2.5" fill="#3d56a6"/>
<circle cx="301.1" cy="638.1" r="2.5" fill="#3d56a6"/>
<circle cx="325.5" cy="635.2" r="2.5" fill="#3d56a6"/>
<circle cx="99.9" cy="649.0" r="2.5" fill="#7fcde0"/>
<circle cx="130.4" cy="650.4" r="2.5" fill="#7fcde0"/>
<circle cx="179.2" cy="655.1" r="2.5" fill="#7fcde0"/>
<circle cx="203.6" cy="647.8" r="2.5" fill="#7fcde0"/>
<circle cx="227.9" cy="647.6" r="2.5" fill="#7fcde0"/>
<circle cx="252.3" cy="633.0" r="2.5" fill="#7fcde0"/>
<circle cx="276.7" cy="625.1" r="2.5" fill="#7fcde0"/>
<circle cx="301.1" cy="618.4" r="2.5" fill="#7fcde0"/>
<circle cx="325.5" cy="618.4" r="2.5" fill="#7fcde0"/>
<circle cx="99.9" cy="634.6" r="2.5" fill="#b45bb8"/>
<circle cx="130.4" cy="634.6" r="2.5" fill="#b45bb8"/>
<circle cx="154.8" cy="634.6" r="2.5" fill="#b45bb8"/>
<circle cx="179.2" cy="633.4" r="2.5" fill="#b45bb8"/>
<circle cx="203.6" cy="630.7" r="2.5" fill="#b45bb8"/>
<circle cx="227.9" cy="625.1" r="2.5" fill="#b45bb8"/>
<circle cx="252.3" cy="616.5" r="2.5" fill="#b45bb8"/>
<circle cx="276.7" cy="610.6" r="2.5" fill="#b45bb8"/>
<circle cx="301.1" cy="607.4" r="2.5" fill="#b45bb8"/>
<circle cx="325.5" cy="606.0" r="2.5" fill="#b45bb8"/>
<circle cx="99.9" cy="620.2" r="2.5" fill="#e8822e"/>
<circle cx="130.4" cy="624.4" r="2.5" fill="#e8822e"/>
<circle cx="179.2" cy="616.7" r="2.5" fill="#e8822e"/>
<circle cx="203.6" cy="615.1" r="2.5" fill="#e8822e"/>
<circle cx="227.9" cy="611.5" r="2.5" fill="#e8822e"/>
<circle cx="252.3" cy="602.3" r="2.5" fill="#e8822e"/>
<circle cx="276.7" cy="599.1" r="2.5" fill="#e8822e"/>
<circle cx="301.1" cy="593.6" r="2.5" fill="#e8822e"/>
<circle cx="325.5" cy="595.6" r="2.5" fill="#e8822e"/>
<circle cx="99.9" cy="597.5" r="2.5" fill="#7d8a3a"/>
<circle cx="130.4" cy="597.3" r="2.5" fill="#7d8a3a"/>
<circle cx="154.8" cy="597.3" r="2.5" fill="#7d8a3a"/>
<circle cx="179.2" cy="597.3" r="2.5" fill="#7d8a3a"/>
<circle cx="203.6" cy="594.5" r="2.5" fill="#7d8a3a"/>
<circle cx="227.9" cy="593.2" r="2.5" fill="#7d8a3a"/>
<circle cx="252.3" cy="586.7" r="2.5" fill="#7d8a3a"/>
<circle cx="276.7" cy="581.4" r="2.5" fill="#7d8a3a"/>
<circle cx="301.1" cy="576.7" r="2.5" fill="#7d8a3a"/>
<circle cx="325.5" cy="573.5" r="2.5" fill="#7d8a3a"/>
<circle cx="99.9" cy="588.2" r="2.5" fill="#2c3585"/>
<circle cx="130.4" cy="585.2" r="2.5" fill="#2c3585"/>
<circle cx="154.8" cy="587.0" r="2.5" fill="#2c3585"/>
<circle cx="179.2" cy="581.2" r="2.5" fill="#2c3585"/>
<circle cx="203.6" cy="580.8" r="2.5" fill="#2c3585"/>
<circle cx="227.9" cy="576.1" r="2.5" fill="#2c3585"/>
<circle cx="252.3" cy="570.7" r="2.5" fill="#2c3585"/>
<circle cx="276.7" cy="566.2" r="2.5" fill="#2c3585"/>
<circle cx="301.1" cy="562.7" r="2.5" fill="#2c3585"/>
<circle cx="325.5" cy="559.7" r="2.5" fill="#2c3585"/>
<circle cx="99.9" cy="574.2" r="2.5" fill="#7a2b8c"/>
<circle cx="130.4" cy="571.5" r="2.5" fill="#7a2b8c"/>
<circle cx="154.8" cy="572.4" r="2.5" fill="#7a2b8c"/>
<circle cx="179.2" cy="566.3" r="2.5" fill="#7a2b8c"/>
<circle cx="203.6" cy="563.9" r="2.5" fill="#7a2b8c"/>
<circle cx="227.9" cy="560.7" r="2.5" fill="#7a2b8c"/>
<circle cx="252.3" cy="556.8" r="2.5" fill="#7a2b8c"/>
<circle cx="276.7" cy="552.8" r="2.5" fill="#7a2b8c"/>
<circle cx="301.1" cy="551.2" r="2.5" fill="#7a2b8c"/>
<circle cx="325.5" cy="548.9" r="2.5" fill="#7a2b8c"/>
<text x="360.6" y="529.6" font-size="21" font-weight="bold" font-family="Liberation Sans, sans-serif">c</text>
<polyline points="415.4,529 415.4,745.6 683,745.6" stroke="#111" stroke-width="1.3" fill="none"/>
<line x1="410.4" y1="530.0" x2="415.4" y2="530.0" stroke="#111" stroke-width="1.3" fill="none"/>
<text x="400.8" y="535.3" text-anchor="end" font-size="15" font-family="Liberation Sans, sans-serif">0.7</text>
<line x1="412.8" y1="547.9" x2="415.4" y2="547.9" stroke="#111" stroke-width="1.3" fill="none"/>
<line x1="410.4" y1="565.8" x2="415.4" y2="565.8" stroke="#111" stroke-width="1.3" fill="none"/>
<text x="400.8" y="571.1" text-anchor="end" font-size="15" font-family="Liberation Sans, sans-serif">0.6</text>
<line x1="412.8" y1="583.7" x2="415.4" y2="583.7" stroke="#111" stroke-width="1.3" fill="none"/>
<line x1="410.4" y1="601.6" x2="415.4" y2="601.6" stroke="#111" stroke-width="1.3" fill="none"/>
<text x="400.8" y="606.9" text-anchor="end" font-size="15" font-family="Liberation Sans, sans-serif">0.5</text>
<line x1="412.8" y1="619.5" x2="415.4" y2="619.5" stroke="#111" stroke-width="1.3" fill="none"/>
<line x1="410.4" y1="637.4" x2="415.4" y2="637.4" stroke="#111" stroke-width="1.3" fill="none"/>
<text x="400.8" y="642.7" text-anchor="end" font-size="15" font-family="Liberation Sans, sans-serif">0.4</text>
<line x1="412.8" y1="655.3" x2="415.4" y2="655.3" stroke="#111" stroke-width="1.3" fill="none"/>
<line x1="410.4" y1="673.2" x2="415.4" y2="673.2" stroke="#111" stroke-width="1.3" fill="none"/>
<text x="400.8" y="678.5" text-anchor="end" font-size="15" font-family="Liberation Sans, sans-serif">0.3</text>
<line x1="412.8" y1="691.1" x2="415.4" y2="691.1" stroke="#111" stroke-width="1.3" fill="none"/>
<line x1="410.4" y1="709.0" x2="415.4" y2="709.0" stroke="#111" stroke-width="1.3" fill="none"/>
<text x="400.8" y="714.3" text-anchor="end" font-size="15" font-family="Liberation Sans, sans-serif">0.2</text>
<line x1="412.8" y1="726.9" x2="415.4" y2="726.9" stroke="#111" stroke-width="1.3" fill="none"/>
<line x1="414.9" y1="745.6" x2="414.9" y2="750.6" stroke="#111" stroke-width="1.3" fill="none"/>
<line x1="445.8" y1="745.6" x2="445.8" y2="748.2" stroke="#111" stroke-width="1.3" fill="none"/>
<line x1="463.9" y1="745.6" x2="463.9" y2="748.2" stroke="#111" stroke-width="1.3" fill="none"/>
<line x1="476.8" y1="745.6" x2="476.8" y2="748.2" stroke="#111" stroke-width="1.3" fill="none"/>
<line x1="486.8" y1="745.6" x2="486.8" y2="748.2" stroke="#111" stroke-width="1.3" fill="none"/>
<line x1="494.9" y1="745.6" x2="494.9" y2="748.2" stroke="#111" stroke-width="1.3" fill="none"/>
<line x1="501.8" y1="745.6" x2="501.8" y2="748.2" stroke="#111" stroke-width="1.3" fill="none"/>
<line x1="507.7" y1="745.6" x2="507.7" y2="748.2" stroke="#111" stroke-width="1.3" fill="none"/>
<line x1="513.0" y1="745.6" x2="513.0" y2="748.2" stroke="#111" stroke-width="1.3" fill="none"/>
<line x1="517.7" y1="745.6" x2="517.7" y2="750.6" stroke="#111" stroke-width="1.3" fill="none"/>
<line x1="548.6" y1="745.6" x2="548.6" y2="748.2" stroke="#111" stroke-width="1.3" fill="none"/>
<line x1="566.7" y1="745.6" x2="566.7" y2="748.2" stroke="#111" stroke-width="1.3" fill="none"/>
<line x1="579.6" y1="745.6" x2="579.6" y2="748.2" stroke="#111" stroke-width="1.3" fill="none"/>
<line x1="589.6" y1="745.6" x2="589.6" y2="748.2" stroke="#111" stroke-width="1.3" fill="none"/>
<line x1="597.7" y1="745.6" x2="597.7" y2="748.2" stroke="#111" stroke-width="1.3" fill="none"/>
<line x1="604.6" y1="745.6" x2="604.6" y2="748.2" stroke="#111" stroke-width="1.3" fill="none"/>
<line x1="610.5" y1="745.6" x2="610.5" y2="748.2" stroke="#111" stroke-width="1.3" fill="none"/>
<line x1="615.8" y1="745.6" x2="615.8" y2="748.2" stroke="#111" stroke-width="1.3" fill="none"/>
<line x1="620.5" y1="745.6" x2="620.5" y2="750.6" stroke="#111" stroke-width="1.3" fill="none"/>
<line x1="651.4" y1="745.6" x2="651.4" y2="748.2" stroke="#111" stroke-width="1.3" fill="none"/>
<line x1="669.5" y1="745.6" x2="669.5" y2="748.2" stroke="#111" stroke-width="1.3" fill="none"/>
<line x1="682.4" y1="745.6" x2="682.4" y2="748.2" stroke="#111" stroke-width="1.3" fill="none"/>
<text x="414.9" y="769.5" text-anchor="middle" font-size="15" font-family="Liberation Sans, sans-serif">0.1</text>
<text x="517.7" y="769.5" text-anchor="middle" font-size="15" font-family="Liberation Sans, sans-serif">1</text>
<text x="620.5" y="769.5" text-anchor="middle" font-size="15" font-family="Liberation Sans, sans-serif">10</text>
<text x="543" y="789.2" text-anchor="middle" font-size="15" font-family="Liberation Sans, sans-serif">[Mg<tspan font-size="10.5" dy="-6">2+</tspan><tspan dy="6">] (mM)</tspan></text>
<line x1="440.5" y1="605" x2="488" y2="683.5" stroke="#111" stroke-width="1.2" stroke-dasharray="4,3"/>
<line x1="530.6" y1="533.4" x2="531.5" y2="540" stroke="#111" stroke-width="1.2"/>
<line x1="534.3" y1="566" x2="541.5" y2="611" stroke="#111" stroke-width="1.2" stroke-dasharray="4,3"/>
<rect x="435.9" y="716.5" width="4.3" height="4.3" fill="#6b3c9c"/>
<rect x="471.2" y="706.8" width="4.3" height="4.3" fill="#6b3c9c"/>
<rect x="500.9" y="656.3" width="4.3" height="4.3" fill="#6b3c9c"/>
<rect x="515.6" y="632.8" width="4.3" height="4.3" fill="#6b3c9c"/>
<rect x="530.9" y="616.1" width="4.3" height="4.3" fill="#6b3c9c"/>
<rect x="547.2" y="603.8" width="4.3" height="4.3" fill="#6b3c9c"/>
<rect x="565.2" y="593.4" width="4.3" height="4.3" fill="#6b3c9c"/>
<rect x="587.8" y="571.4" width="4.3" height="4.3" fill="#6b3c9c"/>
<rect x="618.8" y="557.7" width="4.3" height="4.3" fill="#6b3c9c"/>
<rect x="659.6" y="547.0" width="4.3" height="4.3" fill="#6b3c9c"/>
<rect x="435.9" y="711.6" width="4.3" height="4.3" fill="#34358a"/>
<rect x="471.2" y="708.7" width="4.3" height="4.3" fill="#34358a"/>
<rect x="500.9" y="663.2" width="4.3" height="4.3" fill="#34358a"/>
<rect x="515.6" y="635.7" width="4.3" height="4.3" fill="#34358a"/>
<rect x="530.9" y="616.1" width="4.3" height="4.3" fill="#34358a"/>
<rect x="547.2" y="605.2" width="4.3" height="4.3" fill="#34358a"/>
<rect x="565.2" y="591.4" width="4.3" height="4.3" fill="#34358a"/>
<rect x="587.8" y="574.6" width="4.3" height="4.3" fill="#34358a"/>
<rect x="618.8" y="560.7" width="4.3" height="4.3" fill="#34358a"/>
<rect x="659.6" y="549.2" width="4.3" height="4.3" fill="#34358a"/>
<rect x="435.9" y="715.6" width="4.3" height="4.3" fill="#7d8a3a"/>
<rect x="471.2" y="708.3" width="4.3" height="4.3" fill="#7d8a3a"/>
<rect x="500.9" y="671.4" width="4.3" height="4.3" fill="#7d8a3a"/>
<rect x="515.6" y="641.7" width="4.3" height="4.3" fill="#7d8a3a"/>
<rect x="530.9" y="622.8" width="4.3" height="4.3" fill="#7d8a3a"/>
<rect x="547.2" y="608.3" width="4.3" height="4.3" fill="#7d8a3a"/>
<rect x="565.2" y="596.9" width="4.3" height="4.3" fill="#7d8a3a"/>
<rect x="587.8" y="579.3" width="4.3" height="4.3" fill="#7d8a3a"/>
<rect x="618.8" y="564.2" width="4.3" height="4.3" fill="#7d8a3a"/>
<rect x="659.6" y="550.8" width="4.3" height="4.3" fill="#7d8a3a"/>
<rect x="471.2" y="710.2" width="4.3" height="4.3" fill="#e8822e"/>
<rect x="500.9" y="684.6" width="4.3" height="4.3" fill="#e8822e"/>
<rect x="515.6" y="652.8" width="4.3" height="4.3" fill="#e8822e"/>
<rect x="530.9" y="630.6" width="4.3" height="4.3" fill="#e8822e"/>
<rect x="547.2" y="614.2" width="4.3" height="4.3" fill="#e8822e"/>
<rect x="565.2" y="600.1" width="4.3" height="4.3" fill="#e8822e"/>
<rect x="587.8" y="584.6" width="4.3" height="4.3" fill="#e8822e"/>
<rect x="618.8" y="568.6" width="4.3" height="4.3" fill="#e8822e"/>
<rect x="659.6" y="554.8" width="4.3" height="4.3" fill="#e8822e"/>
<rect x="471.2" y="711.0" width="4.3" height="4.3" fill="#b45bb8"/>
<rect x="500.9" y="691.0" width="4.3" height="4.3" fill="#b45bb8"/>
<rect x="515.6" y="661.3" width="4.3" height="4.3" fill="#b45bb8"/>
<rect x="530.9" y="645.2" width="4.3" height="4.3" fill="#b45bb8"/>
<rect x="547.2" y="622.8" width="4.3" height="4.3" fill="#b45bb8"/>
<rect x="565.2" y="609.2" width="4.3" height="4.3" fill="#b45bb8"/>
<rect x="587.8" y="591.0" width="4.3" height="4.3" fill="#b45bb8"/>
<rect x="618.8" y="574.0" width="4.3" height="4.3" fill="#b45bb8"/>
<rect x="659.6" y="558.7" width="4.3" height="4.3" fill="#b45bb8"/>
<rect x="471.2" y="710.6" width="4.3" height="4.3" fill="#7fcde0"/>
<rect x="500.9" y="690.5" width="4.3" height="4.3" fill="#7fcde0"/>
<rect x="515.6" y="666.0" width="4.3" height="4.3" fill="#7fcde0"/>
<rect x="530.9" y="645.4" width="4.3" height="4.3" fill="#7fcde0"/>
<rect x="547.2" y="628.3" width="4.3" height="4.3" fill="#7fcde0"/>
<rect x="565.2" y="612.8" width="4.3" height="4.3" fill="#7fcde0"/>
<rect x="587.8" y="592.3" width="4.3" height="4.3" fill="#7fcde0"/>
<rect x="618.8" y="578.7" width="4.3" height="4.3" fill="#7fcde0"/>
<rect x="659.6" y="561.8" width="4.3" height="4.3" fill="#7fcde0"/>
<rect x="471.2" y="710.6" width="4.3" height="4.3" fill="#3d56a6"/>
<rect x="500.9" y="691.8" width="4.3" height="4.3" fill="#3d56a6"/>
<rect x="515.6" y="667.9" width="4.3" height="4.3" fill="#3d56a6"/>
<rect x="530.9" y="652.6" width="4.3" height="4.3" fill="#3d56a6"/>
<rect x="547.2" y="631.0" width="4.3" height="4.3" fill="#3d56a6"/>
<rect x="565.2" y="614.4" width="4.3" height="4.3" fill="#3d56a6"/>
<rect x="587.8" y="595.1" width="4.3" height="4.3" fill="#3d56a6"/>
<rect x="618.8" y="579.1" width="4.3" height="4.3" fill="#3d56a6"/>
<rect x="659.6" y="564.3" width="4.3" height="4.3" fill="#3d56a6"/>
<rect x="471.2" y="711.2" width="4.3" height="4.3" fill="#7dc144"/>
<rect x="500.9" y="692.3" width="4.3" height="4.3" fill="#7dc144"/>
<rect x="515.6" y="667.9" width="4.3" height="4.3" fill="#7dc144"/>
<rect x="547.2" y="632.2" width="4.3" height="4.3" fill="#7dc144"/>
<rect x="587.8" y="595.1" width="4.3" height="4.3" fill="#7dc144"/>
<rect x="618.8" y="584.9" width="4.3" height="4.3" fill="#7dc144"/>
<rect x="659.6" y="570.3" width="4.3" height="4.3" fill="#7dc144"/>
<rect x="435.9" y="715.5" width="4.3" height="4.3" fill="#d32f2f"/>
<rect x="471.2" y="711.2" width="4.3" height="4.3" fill="#d32f2f"/>
<rect x="500.9" y="695.8" width="4.3" height="4.3" fill="#d32f2f"/>
<rect x="515.6" y="668.4" width="4.3" height="4.3" fill="#d32f2f"/>
<rect x="530.9" y="647.9" width="4.3" height="4.3" fill="#d32f2f"/>
<rect x="547.2" y="632.2" width="4.3" height="4.3" fill="#d32f2f"/>
<rect x="565.2" y="622.1" width="4.3" height="4.3" fill="#d32f2f"/>
<rect x="587.8" y="595.1" width="4.3" height="4.3" fill="#d32f2f"/>
<rect x="618.8" y="583.1" width="4.3" height="4.3" fill="#d32f2f"/>
<rect x="659.6" y="569.4" width="4.3" height="4.3" fill="#d32f2f"/>
<rect x="435.9" y="715.5" width="4.3" height="4.3" fill="#111111"/>
<rect x="471.2" y="711.2" width="4.3" height="4.3" fill="#111111"/>
<rect x="500.9" y="694.4" width="4.3" height="4.3" fill="#111111"/>
<rect x="515.6" y="669.7" width="4.3" height="4.3" fill="#111111"/>
<rect x="530.9" y="646.6" width="4.3" height="4.3" fill="#111111"/>
<rect x="547.2" y="632.2" width="4.3" height="4.3" fill="#111111"/>
<rect x="565.2" y="617.9" width="4.3" height="4.3" fill="#111111"/>
<rect x="587.8" y="595.3" width="4.3" height="4.3" fill="#111111"/>
<rect x="618.8" y="586.1" width="4.3" height="4.3" fill="#111111"/>
<rect x="659.6" y="572.1" width="4.3" height="4.3" fill="#111111"/>
<polyline points="438.1,715.4 440.6,715.1 443.1,714.8 445.6,714.4 448.1,714.0 450.6,713.5 453.1,713.1 455.7,712.6 458.2,712.0 460.7,711.4 463.2,710.7 465.7,710.0 468.2,709.2 470.7,708.4 473.3,707.5 475.8,706.5 478.3,705.5 480.8,704.4 483.3,703.2 485.8,701.9 488.3,700.5 490.8,699.1 493.4,697.5 495.9,695.8 498.4,694.1 500.9,692.2 503.4,690.2 505.9,688.1 508.4,686.0 511.0,683.7 513.5,681.2 516.0,678.7 518.5,676.1 521.0,673.4 523.5,670.6 526.0,667.8 528.5,664.8 531.1,661.8 533.6,658.7 536.1,655.6 538.6,652.5 541.1,649.3 543.6,646.1 546.1,642.9 548.7,639.8 551.2,636.7 553.7,633.6 556.2,630.5 558.7,627.6 561.2,624.6 563.7,621.8 566.3,619.1 568.8,616.4 571.3,613.9 573.8,611.4 576.3,609.1 578.8,606.8 581.3,604.7 583.8,602.7 586.4,600.8 588.9,599.0 591.4,597.2 593.9,595.6 596.4,594.1 598.9,592.7 601.4,591.4 604.0,590.2 606.5,589.0 609.0,587.9 611.5,586.9 614.0,586.0 616.5,585.2 619.0,584.4 621.5,583.6 624.1,582.9 626.6,582.3 629.1,581.7 631.6,581.2 634.1,580.7 636.6,580.2 639.1,579.8 641.7,579.4 644.2,579.1 646.7,578.7 649.2,578.4 651.7,578.2 654.2,577.9 656.7,577.7 659.3,577.5 661.8,577.3" fill="none" stroke="#d32f2f" stroke-width="1.3"/>
<polyline points="438.1,715.4 440.6,715.1 443.1,714.8 445.6,714.4 448.1,714.0 450.6,713.6 453.1,713.1 455.7,712.6 458.2,712.0 460.7,711.4 463.2,710.7 465.7,710.0 468.2,709.2 470.7,708.4 473.3,707.5 475.8,706.5 478.3,705.5 480.8,704.4 483.3,703.2 485.8,701.9 488.3,700.5 490.8,699.1 493.4,697.5 495.9,695.8 498.4,694.1 500.9,692.2 503.4,690.2 505.9,688.1 508.4,685.9 511.0,683.6 513.5,681.2 516.0,678.6 518.5,676.0 521.0,673.3 523.5,670.5 526.0,667.6 528.5,664.6 531.1,661.6 533.6,658.5 536.1,655.3 538.6,652.1 541.1,648.9 543.6,645.7 546.1,642.5 548.7,639.3 551.2,636.1 553.7,633.0 556.2,629.9 558.7,626.8 561.2,623.9 563.7,621.0 566.3,618.2 568.8,615.5 571.3,612.9 573.8,610.4 576.3,608.0 578.8,605.7 581.3,603.5 583.8,601.4 586.4,599.5 588.9,597.6 591.4,595.9 593.9,594.2 596.4,592.7 598.9,591.2 601.4,589.9 604.0,588.6 606.5,587.4 609.0,586.3 611.5,585.3 614.0,584.3 616.5,583.5 619.0,582.6 621.5,581.9 624.1,581.2 626.6,580.5 629.1,579.9 631.6,579.4 634.1,578.9 636.6,578.4 639.1,578.0 641.7,577.6 644.2,577.2 646.7,576.8 649.2,576.5 651.7,576.3 654.2,576.0 656.7,575.7 659.3,575.5 661.8,575.3" fill="none" stroke="#7dc144" stroke-width="1.3"/>
<polyline points="438.1,715.4 440.6,715.1 443.1,714.7 445.6,714.4 448.1,713.9 450.6,713.5 453.1,713.0 455.7,712.5 458.2,711.9 460.7,711.3 463.2,710.6 465.7,709.9 468.2,709.1 470.7,708.3 473.3,707.4 475.8,706.4 478.3,705.4 480.8,704.2 483.3,703.0 485.8,701.7 488.3,700.3 490.8,698.8 493.4,697.2 495.9,695.6 498.4,693.8 500.9,691.9 503.4,689.9 505.9,687.7 508.4,685.5 511.0,683.2 513.5,680.7 516.0,678.1 518.5,675.5 521.0,672.7 523.5,669.9 526.0,666.9 528.5,663.9 531.1,660.8 533.6,657.7 536.1,654.5 538.6,651.2 541.1,648.0 543.6,644.7 546.1,641.4 548.7,638.2 551.2,634.9 553.7,631.7 556.2,628.6 558.7,625.5 561.2,622.5 563.7,619.5 566.3,616.7 568.8,613.9 571.3,611.2 573.8,608.7 576.3,606.2 578.8,603.9 581.3,601.7 583.8,599.5 586.4,597.5 588.9,595.6 591.4,593.8 593.9,592.2 596.4,590.6 598.9,589.1 601.4,587.7 604.0,586.4 606.5,585.2 609.0,584.0 611.5,583.0 614.0,582.0 616.5,581.1 619.0,580.3 621.5,579.5 624.1,578.8 626.6,578.1 629.1,577.5 631.6,576.9 634.1,576.4 636.6,575.9 639.1,575.5 641.7,575.0 644.2,574.7 646.7,574.3 649.2,574.0 651.7,573.7 654.2,573.4 656.7,573.2 659.3,573.0 661.8,572.8" fill="none" stroke="#3d56a6" stroke-width="1.3"/>
<polyline points="438.1,715.2 440.6,714.9 443.1,714.5 445.6,714.1 448.1,713.7 450.6,713.2 453.1,712.7 455.7,712.2 458.2,711.6 460.7,710.9 463.2,710.2 465.7,709.5 468.2,708.7 470.7,707.8 473.3,706.8 475.8,705.8 478.3,704.7 480.8,703.5 483.3,702.3 485.8,700.9 488.3,699.5 490.8,697.9 493.4,696.3 495.9,694.5 498.4,692.6 500.9,690.7 503.4,688.6 505.9,686.4 508.4,684.1 511.0,681.7 513.5,679.1 516.0,676.5 518.5,673.7 521.0,670.9 523.5,668.0 526.0,664.9 528.5,661.8 531.1,658.7 533.6,655.4 536.1,652.2 538.6,648.9 541.1,645.5 543.6,642.2 546.1,638.9 548.7,635.5 551.2,632.3 553.7,629.0 556.2,625.8 558.7,622.7 561.2,619.6 563.7,616.7 566.3,613.8 568.8,611.0 571.3,608.3 573.8,605.7 576.3,603.2 578.8,600.9 581.3,598.6 583.8,596.5 586.4,594.5 588.9,592.6 591.4,590.8 593.9,589.1 596.4,587.5 598.9,586.0 601.4,584.6 604.0,583.3 606.5,582.1 609.0,580.9 611.5,579.9 614.0,578.9 616.5,578.0 619.0,577.2 621.5,576.4 624.1,575.7 626.6,575.0 629.1,574.4 631.6,573.8 634.1,573.3 636.6,572.8 639.1,572.3 641.7,571.9 644.2,571.5 646.7,571.2 649.2,570.9 651.7,570.6 654.2,570.3 656.7,570.1 659.3,569.8 661.8,569.6" fill="none" stroke="#7fcde0" stroke-width="1.3"/>
<polyline points="438.1,714.7 440.6,714.4 443.1,713.9 445.6,713.5 448.1,713.0 450.6,712.5 453.1,711.9 455.7,711.3 458.2,710.6 460.7,709.9 463.2,709.1 465.7,708.2 468.2,707.3 470.7,706.3 473.3,705.2 475.8,704.1 478.3,702.9 480.8,701.5 483.3,700.1 485.8,698.6 488.3,697.0 490.8,695.3 493.4,693.5 495.9,691.6 498.4,689.6 500.9,687.4 503.4,685.1 505.9,682.8 508.4,680.3 511.0,677.7 513.5,675.0 516.0,672.1 518.5,669.2 521.0,666.2 523.5,663.1 526.0,660.0 528.5,656.7 531.1,653.4 533.6,650.1 536.1,646.7 538.6,643.4 541.1,640.0 543.6,636.6 546.1,633.2 548.7,629.9 551.2,626.6 553.7,623.3 556.2,620.2 558.7,617.1 561.2,614.1 563.7,611.1 566.3,608.3 568.8,605.6 571.3,603.0 573.8,600.5 576.3,598.1 578.8,595.8 581.3,593.6 583.8,591.6 586.4,589.7 588.9,587.8 591.4,586.1 593.9,584.5 596.4,583.0 598.9,581.6 601.4,580.3 604.0,579.0 606.5,577.9 609.0,576.8 611.5,575.8 614.0,574.9 616.5,574.0 619.0,573.2 621.5,572.5 624.1,571.8 626.6,571.2 629.1,570.6 631.6,570.1 634.1,569.6 636.6,569.1 639.1,568.7 641.7,568.3 644.2,567.9 646.7,567.6 649.2,567.3 651.7,567.0 654.2,566.8 656.7,566.5 659.3,566.3 661.8,566.1" fill="none" stroke="#b45bb8" stroke-width="1.3"/>
<polyline points="438.1,713.7 440.6,713.2 443.1,712.7 445.6,712.1 448.1,711.5 450.6,710.8 453.1,710.1 455.7,709.3 458.2,708.5 460.7,707.6 463.2,706.6 465.7,705.6 468.2,704.5 470.7,703.3 473.3,702.0 475.8,700.6 478.3,699.2 480.8,697.6 483.3,695.9 485.8,694.1 488.3,692.3 490.8,690.3 493.4,688.2 495.9,685.9 498.4,683.6 500.9,681.2 503.4,678.6 505.9,675.9 508.4,673.1 511.0,670.3 513.5,667.3 516.0,664.2 518.5,661.1 521.0,657.8 523.5,654.5 526.0,651.2 528.5,647.8 531.1,644.4 533.6,641.0 536.1,637.5 538.6,634.1 541.1,630.7 543.6,627.4 546.1,624.0 548.7,620.8 551.2,617.6 553.7,614.5 556.2,611.4 558.7,608.5 561.2,605.6 563.7,602.9 566.3,600.3 568.8,597.8 571.3,595.4 573.8,593.1 576.3,590.9 578.8,588.8 581.3,586.9 583.8,585.0 586.4,583.3 588.9,581.7 591.4,580.2 593.9,578.7 596.4,577.4 598.9,576.1 601.4,575.0 604.0,573.9 606.5,572.9 609.0,571.9 611.5,571.1 614.0,570.3 616.5,569.5 619.0,568.8 621.5,568.2 624.1,567.6 626.6,567.0 629.1,566.5 631.6,566.1 634.1,565.6 636.6,565.2 639.1,564.9 641.7,564.5 644.2,564.2 646.7,563.9 649.2,563.7 651.7,563.4 654.2,563.2 656.7,563.0 659.3,562.8 661.8,562.6" fill="none" stroke="#e8822e" stroke-width="1.3"/>
<polyline points="438.1,712.3 440.6,711.7 443.1,711.1 445.6,710.3 448.1,709.6 450.6,708.8 453.1,707.9 455.7,706.9 458.2,705.9 460.7,704.8 463.2,703.7 465.7,702.4 468.2,701.0 470.7,699.6 473.3,698.1 475.8,696.4 478.3,694.7 480.8,692.9 483.3,690.9 485.8,688.8 488.3,686.7 490.8,684.4 493.4,682.0 495.9,679.4 498.4,676.8 500.9,674.1 503.4,671.2 505.9,668.3 508.4,665.2 511.0,662.1 513.5,658.9 516.0,655.6 518.5,652.3 521.0,648.9 523.5,645.5 526.0,642.0 528.5,638.6 531.1,635.1 533.6,631.7 536.1,628.3 538.6,624.9 541.1,621.5 543.6,618.3 546.1,615.1 548.7,611.9 551.2,608.9 553.7,606.0 556.2,603.1 558.7,600.4 561.2,597.8 563.7,595.3 566.3,592.9 568.8,590.6 571.3,588.4 573.8,586.3 576.3,584.4 578.8,582.5 581.3,580.8 583.8,579.2 586.4,577.7 588.9,576.2 591.4,574.9 593.9,573.6 596.4,572.5 598.9,571.4 601.4,570.3 604.0,569.4 606.5,568.5 609.0,567.7 611.5,567.0 614.0,566.3 616.5,565.6 619.0,565.0 621.5,564.5 624.1,563.9 626.6,563.5 629.1,563.0 631.6,562.6 634.1,562.3 636.6,561.9 639.1,561.6 641.7,561.3 644.2,561.0 646.7,560.8 649.2,560.6 651.7,560.4 654.2,560.2 656.7,560.0 659.3,559.8 661.8,559.7" fill="none" stroke="#7d8a3a" stroke-width="1.3"/>
<polyline points="438.1,711.3 440.6,710.6 443.1,709.9 445.6,709.1 448.1,708.2 450.6,707.3 453.1,706.3 455.7,705.3 458.2,704.1 460.7,702.9 463.2,701.6 465.7,700.2 468.2,698.7 470.7,697.1 473.3,695.4 475.8,693.6 478.3,691.7 480.8,689.6 483.3,687.5 485.8,685.3 488.3,682.9 490.8,680.4 493.4,677.8 495.9,675.1 498.4,672.3 500.9,669.4 503.4,666.4 505.9,663.3 508.4,660.1 511.0,656.9 513.5,653.6 516.0,650.2 518.5,646.8 521.0,643.3 523.5,639.8 526.0,636.3 528.5,632.9 531.1,629.4 533.6,626.0 536.1,622.6 538.6,619.2 541.1,616.0 543.6,612.8 546.1,609.7 548.7,606.6 551.2,603.7 553.7,600.9 556.2,598.1 558.7,595.5 561.2,593.0 563.7,590.6 566.3,588.4 568.8,586.2 571.3,584.1 573.8,582.2 576.3,580.4 578.8,578.7 581.3,577.0 583.8,575.5 586.4,574.1 588.9,572.8 591.4,571.5 593.9,570.3 596.4,569.3 598.9,568.2 601.4,567.3 604.0,566.4 606.5,565.6 609.0,564.9 611.5,564.2 614.0,563.5 616.5,562.9 619.0,562.4 621.5,561.9 624.1,561.4 626.6,561.0 629.1,560.6 631.6,560.2 634.1,559.8 636.6,559.5 639.1,559.2 641.7,559.0 644.2,558.7 646.7,558.5 649.2,558.3 651.7,558.1 654.2,557.9 656.7,557.7 659.3,557.6 661.8,557.4" fill="none" stroke="#34358a" stroke-width="1.3"/>
<polyline points="438.1,715.4 440.6,715.1 443.1,714.7 445.6,714.4 448.1,714.0 450.6,713.5 453.1,713.0 455.7,712.5 458.2,711.9 460.7,711.3 463.2,710.7 465.7,709.9 468.2,709.2 470.7,708.3 473.3,707.4 475.8,706.5 478.3,705.4 480.8,704.3 483.3,703.1 485.8,701.8 488.3,700.4 490.8,699.0 493.4,697.4 495.9,695.7 498.4,694.0 500.9,692.1 503.4,690.1 505.9,688.0 508.4,685.9 511.0,683.6 513.5,681.2 516.0,678.7 518.5,676.1 521.0,673.4 523.5,670.6 526.0,667.8 528.5,664.9 531.1,661.9 533.6,658.9 536.1,655.8 538.6,652.7 541.1,649.6 543.6,646.5 546.1,643.3 548.7,640.2 551.2,637.2 553.7,634.2 556.2,631.2 558.7,628.3 561.2,625.5 563.7,622.7 566.3,620.0 568.8,617.5 571.3,615.0 573.8,612.6 576.3,610.3 578.8,608.2 581.3,606.1 583.8,604.1 586.4,602.3 588.9,600.5 591.4,598.9 593.9,597.3 596.4,595.9 598.9,594.5 601.4,593.3 604.0,592.1 606.5,591.0 609.0,589.9 611.5,589.0 614.0,588.1 616.5,587.3 619.0,586.5 621.5,585.8 624.1,585.1 626.6,584.5 629.1,584.0 631.6,583.5 634.1,583.0 636.6,582.5 639.1,582.1 641.7,581.8 644.2,581.4 646.7,581.1 649.2,580.8 651.7,580.6 654.2,580.3 656.7,580.1 659.3,579.9 661.8,579.7" fill="none" stroke="#111111" stroke-width="2.2"/>
<polyline points="438.1,710.9 440.6,710.1 443.1,709.4 445.6,708.5 448.1,707.6 450.6,706.7 453.1,705.6 455.7,704.5 458.2,703.3 460.7,702.0 463.2,700.6 465.7,699.2 468.2,697.6 470.7,695.9 473.3,694.2 475.8,692.3 478.3,690.3 480.8,688.2 483.3,686.0 485.8,683.7 488.3,681.2 490.8,678.7 493.4,676.0 495.9,673.2 498.4,670.4 500.9,667.4 503.4,664.3 505.9,661.1 508.4,657.9 511.0,654.6 513.5,651.2 516.0,647.8 518.5,644.3 521.0,640.8 523.5,637.3 526.0,633.8 528.5,630.3 531.1,626.8 533.6,623.4 536.1,620.0 538.6,616.7 541.1,613.4 543.6,610.2 546.1,607.2 548.7,604.1 551.2,601.2 553.7,598.4 556.2,595.8 558.7,593.2 561.2,590.7 563.7,588.4 566.3,586.1 568.8,584.0 571.3,582.0 573.8,580.1 576.3,578.3 578.8,576.6 581.3,575.0 583.8,573.5 586.4,572.1 588.9,570.8 591.4,569.6 593.9,568.5 596.4,567.4 598.9,566.4 601.4,565.5 604.0,564.7 606.5,563.9 609.0,563.2 611.5,562.5 614.0,561.8 616.5,561.3 619.0,560.7 621.5,560.2 624.1,559.8 626.6,559.3 629.1,558.9 631.6,558.6 634.1,558.2 636.6,557.9 639.1,557.6 641.7,557.4 644.2,557.1 646.7,556.9 649.2,556.7 651.7,556.5 654.2,556.4 656.7,556.2 659.3,556.0 661.8,555.9" fill="none" stroke="#6b3c9c" stroke-width="2.2"/>
<rect x="436.1" y="527.7" width="95.79999999999995" height="77.09999999999991" fill="#fff"/>
<defs><clipPath id="ic"><rect x="436.1" y="528.7" width="94.79999999999995" height="76.09999999999991"/></clipPath></defs>
<g clip-path="url(#ic)">
<polyline points="429.8,646.3 433.3,644.3 436.9,642.0 440.5,639.7 444.0,637.2 447.6,634.5 451.1,631.7 454.7,628.8 458.2,625.6 461.8,622.3 465.3,618.8 468.9,615.2 472.4,611.4 476.0,607.4 479.5,603.2 483.1,598.9 486.6,594.5 490.2,589.9 493.7,585.1 497.3,580.3 500.8,575.3 504.4,570.2 508.0,565.1 511.5,559.8 515.1,554.6 518.6,549.3 522.2,544.0 525.7,538.7 529.3,533.4 532.8,528.1" fill="none" stroke="#d32f2f" stroke-width="1.0"/>
<polyline points="429.8,646.3 433.3,644.3 436.9,642.0 440.5,639.7 444.0,637.2 447.6,634.5 451.1,631.7 454.7,628.7 458.2,625.6 461.8,622.2 465.3,618.8 468.9,615.1 472.4,611.3 476.0,607.2 479.5,603.1 483.1,598.7 486.6,594.2 490.2,589.6 493.7,584.8 497.3,579.9 500.8,574.9 504.4,569.8 508.0,564.6 511.5,559.3 515.1,554.0 518.6,548.6 522.2,543.2 525.7,537.8 529.3,532.5 532.8,527.2" fill="none" stroke="#7dc144" stroke-width="1.0"/>
<polyline points="429.8,646.0 433.3,643.9 436.9,641.7 440.5,639.3 444.0,636.8 447.6,634.1 451.1,631.2 454.7,628.2 458.2,625.0 461.8,621.6 465.3,618.1 468.9,614.4 472.4,610.5 476.0,606.4 479.5,602.2 483.1,597.8 486.6,593.3 490.2,588.5 493.7,583.7 497.3,578.7 500.8,573.6 504.4,568.4 508.0,563.1 511.5,557.8 515.1,552.4 518.6,546.9 522.2,541.4 525.7,536.0 529.3,530.5 532.8,525.1" fill="none" stroke="#3d56a6" stroke-width="1.0"/>
<polyline points="429.8,644.7 433.3,642.6 436.9,640.2 440.5,637.7 444.0,635.1 447.6,632.3 451.1,629.3 454.7,626.2 458.2,622.9 461.8,619.4 465.3,615.7 468.9,611.9 472.4,607.9 476.0,603.7 479.5,599.3 483.1,594.8 486.6,590.1 490.2,585.2 493.7,580.2 497.3,575.1 500.8,569.9 504.4,564.6 508.0,559.2 511.5,553.7 515.1,548.1 518.6,542.6 522.2,537.0 525.7,531.4 529.3,525.9 532.8,520.4" fill="none" stroke="#7fcde0" stroke-width="1.0"/>
<polyline points="429.8,641.1 433.3,638.7 436.9,636.1 440.5,633.4 444.0,630.4 447.6,627.4 451.1,624.1 454.7,620.7 458.2,617.1 461.8,613.3 465.3,609.3 468.9,605.2 472.4,600.9 476.0,596.4 479.5,591.7 483.1,586.9 486.6,581.9 490.2,576.8 493.7,571.6 497.3,566.2 500.8,560.8 504.4,555.3 508.0,549.7 511.5,544.0 515.1,538.4 518.6,532.7 522.2,527.0 525.7,521.4 529.3,515.8 532.8,510.3" fill="none" stroke="#b45bb8" stroke-width="1.0"/>
<polyline points="429.8,633.9 433.3,631.0 436.9,627.9 440.5,624.7 444.0,621.3 447.6,617.8 451.1,614.0 454.7,610.1 458.2,606.0 461.8,601.7 465.3,597.2 468.9,592.6 472.4,587.8 476.0,582.9 479.5,577.8 483.1,572.6 486.6,567.2 490.2,561.8 493.7,556.2 497.3,550.6 500.8,544.9 504.4,539.2 508.0,533.5 511.5,527.7 515.1,522.0 518.6,516.3 522.2,510.7 525.7,505.2 529.3,499.7 532.8,494.3" fill="none" stroke="#e8822e" stroke-width="1.0"/>
<polyline points="429.8,625.2 433.3,621.9 436.9,618.3 440.5,614.6 444.0,610.7 447.6,606.7 451.1,602.4 454.7,598.0 458.2,593.4 461.8,588.6 465.3,583.7 468.9,578.6 472.4,573.4 476.0,568.1 479.5,562.7 483.1,557.1 486.6,551.5 490.2,545.8 493.7,540.1 497.3,534.3 500.8,528.5 504.4,522.7 508.0,517.0 511.5,511.3 515.1,505.6 518.6,500.1 522.2,494.6 525.7,489.3 529.3,484.0 532.8,479.0" fill="none" stroke="#7d8a3a" stroke-width="1.0"/>
<polyline points="429.8,619.4 433.3,615.7 436.9,611.9 440.5,607.9 444.0,603.7 447.6,599.3 451.1,594.8 454.7,590.1 458.2,585.2 461.8,580.2 465.3,575.0 468.9,569.7 472.4,564.3 476.0,558.7 479.5,553.1 483.1,547.4 486.6,541.6 490.2,535.8 493.7,530.0 497.3,524.2 500.8,518.4 504.4,512.6 508.0,506.9 511.5,501.3 515.1,495.7 518.6,490.2 522.2,484.9 525.7,479.7 529.3,474.6 532.8,469.7" fill="none" stroke="#34358a" stroke-width="1.0"/>
<polyline points="429.8,646.2 433.3,644.1 436.9,641.9 440.5,639.5 444.0,637.0 447.6,634.4 451.1,631.5 454.7,628.6 458.2,625.4 461.8,622.1 465.3,618.7 468.9,615.0 472.4,611.2 476.0,607.2 479.5,603.1 483.1,598.8 486.6,594.4 490.2,589.8 493.7,585.1 497.3,580.3 500.8,575.4 504.4,570.4 508.0,565.3 511.5,560.2 515.1,555.0 518.6,549.8 522.2,544.6 525.7,539.4 529.3,534.2 532.8,529.1" fill="none" stroke="#111111" stroke-width="1.4"/>
<polyline points="429.8,616.8 433.3,613.0 436.9,609.0 440.5,604.9 444.0,600.6 447.6,596.1 451.1,591.4 454.7,586.5 458.2,581.5 461.8,576.4 465.3,571.1 468.9,565.7 472.4,560.2 476.0,554.6 479.5,548.8 483.1,543.1 486.6,537.3 490.2,531.4 493.7,525.5 497.3,519.7 500.8,513.9 504.4,508.1 508.0,502.4 511.5,496.7 515.1,491.2 518.6,485.7 522.2,480.4 525.7,475.2 529.3,470.2 532.8,465.3" fill="none" stroke="#6b3c9c" stroke-width="1.4"/>
<rect x="460.0" y="564.8" width="2.4" height="2.4" fill="#6b3c9c"/>
<rect x="460.0" y="577.0" width="2.4" height="2.4" fill="#34358a"/>
<rect x="482.0" y="528.3" width="2.4" height="2.4" fill="#34358a"/>
<rect x="460.0" y="591.6" width="2.4" height="2.4" fill="#7d8a3a"/>
<rect x="482.0" y="538.9" width="2.4" height="2.4" fill="#7d8a3a"/>
<rect x="482.0" y="558.6" width="2.4" height="2.4" fill="#e8822e"/>
<rect x="482.0" y="573.6" width="2.4" height="2.4" fill="#b45bb8"/>
<rect x="505.0" y="545.1" width="2.4" height="2.4" fill="#b45bb8"/>
<rect x="482.0" y="581.9" width="2.4" height="2.4" fill="#7fcde0"/>
<rect x="505.0" y="545.4" width="2.4" height="2.4" fill="#7fcde0"/>
<rect x="482.0" y="585.4" width="2.4" height="2.4" fill="#3d56a6"/>
<rect x="505.0" y="558.3" width="2.4" height="2.4" fill="#3d56a6"/>
<rect x="482.0" y="585.4" width="2.4" height="2.4" fill="#7dc144"/>
<rect x="482.0" y="586.3" width="2.4" height="2.4" fill="#d32f2f"/>
<rect x="505.0" y="550.0" width="2.4" height="2.4" fill="#d32f2f"/>
<rect x="482.0" y="588.6" width="2.4" height="2.4" fill="#111111"/>
<rect x="505.0" y="547.5" width="2.4" height="2.4" fill="#111111"/>
</g>
<polyline points="436.1,528.7 436.1,604.8 530.9,604.8" stroke="#222" stroke-width="0.9" fill="none"/>
<line x1="433.1" y1="528.7" x2="436.1" y2="528.7" stroke="#222" stroke-width="0.9" fill="none"/>
<text x="433.70000000000005" y="531.7" text-anchor="end" font-size="8.4" font-family="Liberation Sans, sans-serif">0.40</text>
<line x1="434.5" y1="541.4" x2="436.1" y2="541.4" stroke="#222" stroke-width="0.9" fill="none"/>
<line x1="433.1" y1="554.1" x2="436.1" y2="554.1" stroke="#222" stroke-width="0.9" fill="none"/>
<text x="433.70000000000005" y="557.1" text-anchor="end" font-size="8.4" font-family="Liberation Sans, sans-serif">0.36</text>
<line x1="434.5" y1="566.7" x2="436.1" y2="566.7" stroke="#222" stroke-width="0.9" fill="none"/>
<line x1="433.1" y1="579.4" x2="436.1" y2="579.4" stroke="#222" stroke-width="0.9" fill="none"/>
<text x="433.70000000000005" y="582.4" text-anchor="end" font-size="8.4" font-family="Liberation Sans, sans-serif">0.32</text>
<line x1="434.5" y1="592.1" x2="436.1" y2="592.1" stroke="#222" stroke-width="0.9" fill="none"/>
<line x1="433.1" y1="604.8" x2="436.1" y2="604.8" stroke="#222" stroke-width="0.9" fill="none"/>
<text x="433.70000000000005" y="607.8" text-anchor="end" font-size="8.4" font-family="Liberation Sans, sans-serif">0.28</text>
<line x1="436.8" y1="604.8" x2="436.8" y2="603.3" stroke="#222" stroke-width="0.9" fill="none"/>
<line x1="449.0" y1="604.8" x2="449.0" y2="603.3" stroke="#222" stroke-width="0.9" fill="none"/>
<line x1="459.3" y1="604.8" x2="459.3" y2="603.3" stroke="#222" stroke-width="0.9" fill="none"/>
<line x1="468.3" y1="604.8" x2="468.3" y2="603.3" stroke="#222" stroke-width="0.9" fill="none"/>
<line x1="476.2" y1="604.8" x2="476.2" y2="603.3" stroke="#222" stroke-width="0.9" fill="none"/>
<line x1="483.2" y1="604.8" x2="483.2" y2="602.2" stroke="#222" stroke-width="0.9" fill="none"/>
<line x1="529.6" y1="604.8" x2="529.6" y2="602.2" stroke="#222" stroke-width="0.9" fill="none"/>
<line x1="489.6" y1="604.8" x2="489.6" y2="603.3" stroke="#222" stroke-width="0.9" fill="none"/>
<line x1="495.4" y1="604.8" x2="495.4" y2="603.3" stroke="#222" stroke-width="0.9" fill="none"/>
<line x1="500.7" y1="604.8" x2="500.7" y2="603.3" stroke="#222" stroke-width="0.9" fill="none"/>
<line x1="505.7" y1="604.8" x2="505.7" y2="603.3" stroke="#222" stroke-width="0.9" fill="none"/>
<line x1="510.3" y1="604.8" x2="510.3" y2="603.3" stroke="#222" stroke-width="0.9" fill="none"/>
<line x1="514.6" y1="604.8" x2="514.6" y2="603.3" stroke="#222" stroke-width="0.9" fill="none"/>
<line x1="518.7" y1="604.8" x2="518.7" y2="603.3" stroke="#222" stroke-width="0.9" fill="none"/>
<line x1="522.5" y1="604.8" x2="522.5" y2="603.3" stroke="#222" stroke-width="0.9" fill="none"/>
<line x1="526.1" y1="604.8" x2="526.1" y2="603.3" stroke="#222" stroke-width="0.9" fill="none"/>
<text x="483.2" y="614" text-anchor="middle" font-size="8.6" font-family="Liberation Sans, sans-serif">1</text>
<text x="529.6" y="614" text-anchor="middle" font-size="8.6" font-family="Liberation Sans, sans-serif">2</text>
<text x="438.6" y="537.6" font-size="9.5" fill="#8a5aa8" font-family="Liberation Sans, sans-serif">235 µM</text>
<text x="438.6" y="549.6" font-size="9.5" fill="#8a5aa8" font-family="Liberation Sans, sans-serif">c-di-GMP</text>
<line x1="518.2" y1="549.2" x2="494" y2="549.2" stroke="#000" stroke-width="2.4"/>
<polygon points="481,549.2 498,543.8 496,549.2 498,554.6" fill="#000"/>
<text x="526.6" y="552.8" font-size="9.5" font-family="Liberation Sans, sans-serif">0 µM</text>
<text x="526.2" y="563.8" font-size="9.5" font-family="Liberation Sans, sans-serif">c-di-GMP</text>
<text x="3.3" y="846.4" font-size="21" font-weight="bold" font-family="Liberation Sans, sans-serif">d</text>
<line x1="93.8" y1="884.8" x2="545.8" y2="884.8" stroke="#4a4a4a" stroke-width="1.4"/>
<line x1="93.9" y1="884.8" x2="93.9" y2="878.3" stroke="#4a4a4a" stroke-width="1.3"/>
<line x1="122.8" y1="884.8" x2="122.8" y2="881.3" stroke="#4a4a4a" stroke-width="1.3"/>
<line x1="139.7" y1="884.8" x2="139.7" y2="881.3" stroke="#4a4a4a" stroke-width="1.3"/>
<line x1="151.7" y1="884.8" x2="151.7" y2="881.3" stroke="#4a4a4a" stroke-width="1.3"/>
<line x1="161.0" y1="884.8" x2="161.0" y2="881.3" stroke="#4a4a4a" stroke-width="1.3"/>
<line x1="168.6" y1="884.8" x2="168.6" y2="881.3" stroke="#4a4a4a" stroke-width="1.3"/>
<line x1="175.0" y1="884.8" x2="175.0" y2="881.3" stroke="#4a4a4a" stroke-width="1.3"/>
<line x1="180.6" y1="884.8" x2="180.6" y2="881.3" stroke="#4a4a4a" stroke-width="1.3"/>
<line x1="185.5" y1="884.8" x2="185.5" y2="881.3" stroke="#4a4a4a" stroke-width="1.3"/>
<line x1="189.9" y1="884.8" x2="189.9" y2="878.3" stroke="#4a4a4a" stroke-width="1.3"/>
<line x1="218.8" y1="884.8" x2="218.8" y2="881.3" stroke="#4a4a4a" stroke-width="1.3"/>
<line x1="235.7" y1="884.8" x2="235.7" y2="881.3" stroke="#4a4a4a" stroke-width="1.3"/>
<line x1="247.7" y1="884.8" x2="247.7" y2="881.3" stroke="#4a4a4a" stroke-width="1.3"/>
<line x1="257.0" y1="884.8" x2="257.0" y2="881.3" stroke="#4a4a4a" stroke-width="1.3"/>
<line x1="264.6" y1="884.8" x2="264.6" y2="881.3" stroke="#4a4a4a" stroke-width="1.3"/>
<line x1="271.0" y1="884.8" x2="271.0" y2="881.3" stroke="#4a4a4a" stroke-width="1.3"/>
<line x1="276.6" y1="884.8" x2="276.6" y2="881.3" stroke="#4a4a4a" stroke-width="1.3"/>
<line x1="281.5" y1="884.8" x2="281.5" y2="881.3" stroke="#4a4a4a" stroke-width="1.3"/>
<line x1="285.9" y1="884.8" x2="285.9" y2="878.3" stroke="#4a4a4a" stroke-width="1.3"/>
<line x1="314.8" y1="884.8" x2="314.8" y2="881.3" stroke="#4a4a4a" stroke-width="1.3"/>
<line x1="331.7" y1="884.8" x2="331.7" y2="881.3" stroke="#4a4a4a" stroke-width="1.3"/>
<line x1="343.7" y1="884.8" x2="343.7" y2="881.3" stroke="#4a4a4a" stroke-width="1.3"/>
<line x1="353.0" y1="884.8" x2="353.0" y2="881.3" stroke="#4a4a4a" stroke-width="1.3"/>
<line x1="360.6" y1="884.8" x2="360.6" y2="881.3" stroke="#4a4a4a" stroke-width="1.3"/>
<line x1="367.0" y1="884.8" x2="367.0" y2="881.3" stroke="#4a4a4a" stroke-width="1.3"/>
<line x1="372.6" y1="884.8" x2="372.6" y2="881.3" stroke="#4a4a4a" stroke-width="1.3"/>
<line x1="377.5" y1="884.8" x2="377.5" y2="881.3" stroke="#4a4a4a" stroke-width="1.3"/>
<line x1="381.9" y1="884.8" x2="381.9" y2="878.3" stroke="#4a4a4a" stroke-width="1.3"/>
<line x1="410.8" y1="884.8" x2="410.8" y2="881.3" stroke="#4a4a4a" stroke-width="1.3"/>
<line x1="427.7" y1="884.8" x2="427.7" y2="881.3" stroke="#4a4a4a" stroke-width="1.3"/>
<line x1="439.7" y1="884.8" x2="439.7" y2="881.3" stroke="#4a4a4a" stroke-width="1.3"/>
<line x1="449.0" y1="884.8" x2="449.0" y2="881.3" stroke="#4a4a4a" stroke-width="1.3"/>
<line x1="456.6" y1="884.8" x2="456.6" y2="881.3" stroke="#4a4a4a" stroke-width="1.3"/>
<line x1="463.0" y1="884.8" x2="463.0" y2="881.3" stroke="#4a4a4a" stroke-width="1.3"/>
<line x1="468.6" y1="884.8" x2="468.6" y2="881.3" stroke="#4a4a4a" stroke-width="1.3"/>
<line x1="473.5" y1="884.8" x2="473.5" y2="881.3" stroke="#4a4a4a" stroke-width="1.3"/>
<line x1="477.9" y1="884.8" x2="477.9" y2="878.3" stroke="#4a4a4a" stroke-width="1.3"/>
<line x1="506.8" y1="884.8" x2="506.8" y2="881.3" stroke="#4a4a4a" stroke-width="1.3"/>
<line x1="523.7" y1="884.8" x2="523.7" y2="881.3" stroke="#4a4a4a" stroke-width="1.3"/>
<line x1="535.7" y1="884.8" x2="535.7" y2="881.3" stroke="#4a4a4a" stroke-width="1.3"/>
<line x1="545.0" y1="884.8" x2="545.0" y2="881.3" stroke="#4a4a4a" stroke-width="1.3"/>
<line x1="506.8" y1="884.8" x2="506.8" y2="881.3" stroke="#4a4a4a" stroke-width="1.3"/>
<line x1="523.7" y1="884.8" x2="523.7" y2="881.3" stroke="#4a4a4a" stroke-width="1.3"/>
<line x1="535.7" y1="884.8" x2="535.7" y2="881.3" stroke="#4a4a4a" stroke-width="1.3"/>
<line x1="545.0" y1="884.8" x2="545.0" y2="881.3" stroke="#4a4a4a" stroke-width="1.3"/>
<line x1="545.8" y1="884.8" x2="545.8" y2="881.3" stroke="#4a4a4a" stroke-width="1.3"/>
<text x="92.4" y="870.6" text-anchor="middle" font-size="15" font-family="Liberation Sans, sans-serif">0.01</text>
<text x="188.4" y="870.6" text-anchor="middle" font-size="15" font-family="Liberation Sans, sans-serif">0.1</text>
<text x="284.4" y="870.6" text-anchor="middle" font-size="15" font-family="Liberation Sans, sans-serif">1</text>
<text x="380.4" y="870.6" text-anchor="middle" font-size="15" font-family="Liberation Sans, sans-serif">10</text>
<text x="476.4" y="870.6" text-anchor="middle" font-size="15" font-family="Liberation Sans, sans-serif">100</text>
<text x="279.6" y="842.2" font-size="15" font-family="Liberation Sans, sans-serif"><tspan font-style="italic">K</tspan><tspan font-size="10.5" dy="4.5">D,app</tspan><tspan dy="-4.5"> (µM)</tspan></text>
<line x1="545.8" y1="884.8" x2="545.8" y2="1230.4" stroke="#4a4a4a" stroke-width="1.4"/>
<line x1="545.8" y1="1230.6" x2="549.8" y2="1230.6" stroke="#4a4a4a" stroke-width="1.3"/>
<line x1="545.8" y1="1204.1" x2="549.8" y2="1204.1" stroke="#4a4a4a" stroke-width="1.3"/>
<line x1="545.8" y1="1185.3" x2="549.8" y2="1185.3" stroke="#4a4a4a" stroke-width="1.3"/>
<line x1="545.8" y1="1170.7" x2="549.8" y2="1170.7" stroke="#4a4a4a" stroke-width="1.3"/>
<line x1="545.8" y1="1158.8" x2="549.8" y2="1158.8" stroke="#4a4a4a" stroke-width="1.3"/>
<line x1="545.8" y1="1148.8" x2="549.8" y2="1148.8" stroke="#4a4a4a" stroke-width="1.3"/>
<line x1="545.8" y1="1140.1" x2="549.8" y2="1140.1" stroke="#4a4a4a" stroke-width="1.3"/>
<line x1="545.8" y1="1132.4" x2="549.8" y2="1132.4" stroke="#4a4a4a" stroke-width="1.3"/>
<line x1="545.8" y1="1125.5" x2="552.8" y2="1125.5" stroke="#4a4a4a" stroke-width="1.3"/>
<line x1="545.8" y1="1080.3" x2="549.8" y2="1080.3" stroke="#4a4a4a" stroke-width="1.3"/>
<line x1="545.8" y1="1053.8" x2="549.8" y2="1053.8" stroke="#4a4a4a" stroke-width="1.3"/>
<line x1="545.8" y1="1035.0" x2="549.8" y2="1035.0" stroke="#4a4a4a" stroke-width="1.3"/>
<line x1="545.8" y1="1020.4" x2="549.8" y2="1020.4" stroke="#4a4a4a" stroke-width="1.3"/>
<line x1="545.8" y1="1008.5" x2="549.8" y2="1008.5" stroke="#4a4a4a" stroke-width="1.3"/>
<line x1="545.8" y1="998.5" x2="549.8" y2="998.5" stroke="#4a4a4a" stroke-width="1.3"/>
<line x1="545.8" y1="989.8" x2="549.8" y2="989.8" stroke="#4a4a4a" stroke-width="1.3"/>
<line x1="545.8" y1="982.1" x2="549.8" y2="982.1" stroke="#4a4a4a" stroke-width="1.3"/>
<line x1="545.8" y1="975.2" x2="552.8" y2="975.2" stroke="#4a4a4a" stroke-width="1.3"/>
<line x1="545.8" y1="930.0" x2="549.8" y2="930.0" stroke="#4a4a4a" stroke-width="1.3"/>
<line x1="545.8" y1="903.5" x2="549.8" y2="903.5" stroke="#4a4a4a" stroke-width="1.3"/>
<line x1="545.8" y1="884.7" x2="549.8" y2="884.7" stroke="#4a4a4a" stroke-width="1.3"/>
<text x="559.8" y="980.4" font-size="15" font-family="Liberation Sans, sans-serif">10</text>
<text x="568.3" y="1130.8" font-size="15" font-family="Liberation Sans, sans-serif">1</text>
<text transform="translate(606.5,1059.5) rotate(-90)" text-anchor="middle" font-size="15" font-family="Liberation Sans, sans-serif">[Mg<tspan font-size="10.6" dy="-6">2+</tspan><tspan dy="6">] (mM)</tspan></text>
<line x1="93.8" y1="884.8" x2="93.8" y2="1230.4" stroke="#c93338" stroke-width="1.4"/>
<line x1="89.8" y1="1230.6" x2="93.8" y2="1230.6" stroke="#c93338" stroke-width="1.3"/>
<line x1="89.8" y1="1204.1" x2="93.8" y2="1204.1" stroke="#c93338" stroke-width="1.3"/>
<line x1="89.8" y1="1185.3" x2="93.8" y2="1185.3" stroke="#c93338" stroke-width="1.3"/>
<line x1="89.8" y1="1170.7" x2="93.8" y2="1170.7" stroke="#c93338" stroke-width="1.3"/>
<line x1="89.8" y1="1158.8" x2="93.8" y2="1158.8" stroke="#c93338" stroke-width="1.3"/>
<line x1="89.8" y1="1148.8" x2="93.8" y2="1148.8" stroke="#c93338" stroke-width="1.3"/>
<line x1="89.8" y1="1140.1" x2="93.8" y2="1140.1" stroke="#c93338" stroke-width="1.3"/>
<line x1="89.8" y1="1132.4" x2="93.8" y2="1132.4" stroke="#c93338" stroke-width="1.3"/>
<line x1="86.3" y1="1125.5" x2="93.8" y2="1125.5" stroke="#c93338" stroke-width="1.3"/>
<line x1="89.8" y1="1080.3" x2="93.8" y2="1080.3" stroke="#c93338" stroke-width="1.3"/>
<line x1="89.8" y1="1053.8" x2="93.8" y2="1053.8" stroke="#c93338" stroke-width="1.3"/>
<line x1="89.8" y1="1035.0" x2="93.8" y2="1035.0" stroke="#c93338" stroke-width="1.3"/>
<line x1="89.8" y1="1020.4" x2="93.8" y2="1020.4" stroke="#c93338" stroke-width="1.3"/>
<line x1="89.8" y1="1008.5" x2="93.8" y2="1008.5" stroke="#c93338" stroke-width="1.3"/>
<line x1="89.8" y1="998.5" x2="93.8" y2="998.5" stroke="#c93338" stroke-width="1.3"/>
<line x1="89.8" y1="989.8" x2="93.8" y2="989.8" stroke="#c93338" stroke-width="1.3"/>
<line x1="89.8" y1="982.1" x2="93.8" y2="982.1" stroke="#c93338" stroke-width="1.3"/>
<line x1="86.3" y1="975.2" x2="93.8" y2="975.2" stroke="#c93338" stroke-width="1.3"/>
<line x1="89.8" y1="930.0" x2="93.8" y2="930.0" stroke="#c93338" stroke-width="1.3"/>
<line x1="89.8" y1="903.5" x2="93.8" y2="903.5" stroke="#c93338" stroke-width="1.3"/>
<line x1="89.8" y1="884.7" x2="93.8" y2="884.7" stroke="#c93338" stroke-width="1.3"/>
<text x="77.2" y="980.4" text-anchor="end" font-size="15" fill="#c93338" font-family="Liberation Sans, sans-serif">10</text>
<text x="77.2" y="1130.6" text-anchor="end" font-size="15" fill="#c93338" font-family="Liberation Sans, sans-serif">1</text>
<text transform="translate(42.9,1093.7) rotate(-90)" font-size="17" fill="#c93338" font-family="Liberation Sans, sans-serif"><tspan font-style="italic">K</tspan><tspan font-size="11" dy="5">Mg</tspan><tspan dy="-5"> (µM)</tspan></text>
<line x1="93.8" y1="1230.4" x2="545.8" y2="1230.4" stroke="#c93338" stroke-width="1.4"/>
<line x1="93.9" y1="1230.4" x2="93.9" y2="1236.2" stroke="#c93338" stroke-width="1.3"/>
<line x1="122.8" y1="1230.4" x2="122.8" y2="1233.6" stroke="#c93338" stroke-width="1.3"/>
<line x1="139.7" y1="1230.4" x2="139.7" y2="1233.6" stroke="#c93338" stroke-width="1.3"/>
<line x1="151.7" y1="1230.4" x2="151.7" y2="1233.6" stroke="#c93338" stroke-width="1.3"/>
<line x1="161.0" y1="1230.4" x2="161.0" y2="1233.6" stroke="#c93338" stroke-width="1.3"/>
<line x1="168.6" y1="1230.4" x2="168.6" y2="1233.6" stroke="#c93338" stroke-width="1.3"/>
<line x1="175.0" y1="1230.4" x2="175.0" y2="1233.6" stroke="#c93338" stroke-width="1.3"/>
<line x1="180.6" y1="1230.4" x2="180.6" y2="1233.6" stroke="#c93338" stroke-width="1.3"/>
<line x1="185.5" y1="1230.4" x2="185.5" y2="1233.6" stroke="#c93338" stroke-width="1.3"/>
<line x1="189.9" y1="1230.4" x2="189.9" y2="1236.2" stroke="#c93338" stroke-width="1.3"/>
<line x1="218.8" y1="1230.4" x2="218.8" y2="1233.6" stroke="#c93338" stroke-width="1.3"/>
<line x1="235.7" y1="1230.4" x2="235.7" y2="1233.6" stroke="#c93338" stroke-width="1.3"/>
<line x1="247.7" y1="1230.4" x2="247.7" y2="1233.6" stroke="#c93338" stroke-width="1.3"/>
<line x1="257.0" y1="1230.4" x2="257.0" y2="1233.6" stroke="#c93338" stroke-width="1.3"/>
<line x1="264.6" y1="1230.4" x2="264.6" y2="1233.6" stroke="#c93338" stroke-width="1.3"/>
<line x1="271.0" y1="1230.4" x2="271.0" y2="1233.6" stroke="#c93338" stroke-width="1.3"/>
<line x1="276.6" y1="1230.4" x2="276.6" y2="1233.6" stroke="#c93338" stroke-width="1.3"/>
<line x1="281.5" y1="1230.4" x2="281.5" y2="1233.6" stroke="#c93338" stroke-width="1.3"/>
<line x1="285.9" y1="1230.4" x2="285.9" y2="1236.2" stroke="#c93338" stroke-width="1.3"/>
<line x1="314.8" y1="1230.4" x2="314.8" y2="1233.6" stroke="#c93338" stroke-width="1.3"/>
<line x1="331.7" y1="1230.4" x2="331.7" y2="1233.6" stroke="#c93338" stroke-width="1.3"/>
<line x1="343.7" y1="1230.4" x2="343.7" y2="1233.6" stroke="#c93338" stroke-width="1.3"/>
<line x1="353.0" y1="1230.4" x2="353.0" y2="1233.6" stroke="#c93338" stroke-width="1.3"/>
<line x1="360.6" y1="1230.4" x2="360.6" y2="1233.6" stroke="#c93338" stroke-width="1.3"/>
<line x1="367.0" y1="1230.4" x2="367.0" y2="1233.6" stroke="#c93338" stroke-width="1.3"/>
<line x1="372.6" y1="1230.4" x2="372.6" y2="1233.6" stroke="#c93338" stroke-width="1.3"/>
<line x1="377.5" y1="1230.4" x2="377.5" y2="1233.6" stroke="#c93338" stroke-width="1.3"/>
<line x1="381.9" y1="1230.4" x2="381.9" y2="1236.2" stroke="#c93338" stroke-width="1.3"/>
<line x1="410.8" y1="1230.4" x2="410.8" y2="1233.6" stroke="#c93338" stroke-width="1.3"/>
<line x1="427.7" y1="1230.4" x2="427.7" y2="1233.6" stroke="#c93338" stroke-width="1.3"/>
<line x1="439.7" y1="1230.4" x2="439.7" y2="1233.6" stroke="#c93338" stroke-width="1.3"/>
<line x1="449.0" y1="1230.4" x2="449.0" y2="1233.6" stroke="#c93338" stroke-width="1.3"/>
<line x1="456.6" y1="1230.4" x2="456.6" y2="1233.6" stroke="#c93338" stroke-width="1.3"/>
<line x1="463.0" y1="1230.4" x2="463.0" y2="1233.6" stroke="#c93338" stroke-width="1.3"/>
<line x1="468.6" y1="1230.4" x2="468.6" y2="1233.6" stroke="#c93338" stroke-width="1.3"/>
<line x1="473.5" y1="1230.4" x2="473.5" y2="1233.6" stroke="#c93338" stroke-width="1.3"/>
<line x1="477.9" y1="1230.4" x2="477.9" y2="1236.2" stroke="#c93338" stroke-width="1.3"/>
<line x1="506.8" y1="1230.4" x2="506.8" y2="1233.6" stroke="#c93338" stroke-width="1.3"/>
<line x1="523.7" y1="1230.4" x2="523.7" y2="1233.6" stroke="#c93338" stroke-width="1.3"/>
<line x1="535.7" y1="1230.4" x2="535.7" y2="1233.6" stroke="#c93338" stroke-width="1.3"/>
<line x1="545.0" y1="1230.4" x2="545.0" y2="1233.6" stroke="#c93338" stroke-width="1.3"/>
<line x1="506.8" y1="1230.4" x2="506.8" y2="1233.6" stroke="#c93338" stroke-width="1.3"/>
<line x1="523.7" y1="1230.4" x2="523.7" y2="1233.6" stroke="#c93338" stroke-width="1.3"/>
<line x1="535.7" y1="1230.4" x2="535.7" y2="1233.6" stroke="#c93338" stroke-width="1.3"/>
<line x1="545.0" y1="1230.4" x2="545.0" y2="1233.6" stroke="#c93338" stroke-width="1.3"/>
<text x="92.4" y="1259.6" text-anchor="middle" font-size="15" fill="#c93338" font-family="Liberation Sans, sans-serif">0.01</text>
<text x="188.4" y="1259.6" text-anchor="middle" font-size="15" fill="#c93338" font-family="Liberation Sans, sans-serif">0.1</text>
<text x="284.4" y="1259.6" text-anchor="middle" font-size="15" fill="#c93338" font-family="Liberation Sans, sans-serif">1</text>
<text x="380.4" y="1259.6" text-anchor="middle" font-size="15" fill="#c93338" font-family="Liberation Sans, sans-serif">10</text>
<text x="476.4" y="1259.6" text-anchor="middle" font-size="15" fill="#c93338" font-family="Liberation Sans, sans-serif">100</text>
<text x="315.5" y="1281.5" text-anchor="middle" font-size="15" fill="#c93338" font-family="Liberation Sans, sans-serif">[c-di-GMP] (µM)</text>
<circle cx="164.4" cy="927.4" r="12.8" fill="#fff" stroke="#222" stroke-width="1"/>
<text x="164.4" y="933.4" text-anchor="middle" font-size="17" font-family="Liberation Sans, sans-serif">3</text>
<text x="260.0" y="936.9" text-anchor="end" font-size="15.3" font-family="Liberation Sans, sans-serif">High [Mg<tspan font-size="10.6" dy="-6">2+</tspan><tspan dy="6">]</tspan></text>
<text x="260.0" y="955.0" text-anchor="end" font-size="15.3" font-family="Liberation Sans, sans-serif">Low [c-di-GMP]</text>
<circle cx="440.4" cy="928.3" r="12.8" fill="#fff" stroke="#222" stroke-width="1"/>
<text x="440.4" y="934.3" text-anchor="middle" font-size="17" font-family="Liberation Sans, sans-serif">4</text>
<text x="537.2" y="937.8" text-anchor="end" font-size="15.3" font-family="Liberation Sans, sans-serif">High [Mg<tspan font-size="10.6" dy="-6">2+</tspan><tspan dy="6">]</tspan></text>
<text x="537.2" y="955.9" text-anchor="end" font-size="15.3" font-family="Liberation Sans, sans-serif">High [c-di-GMP]</text>
<circle cx="164.4" cy="1184.6" r="12.8" fill="#fff" stroke="#222" stroke-width="1"/>
<text x="164.4" y="1190.6" text-anchor="middle" font-size="17" font-family="Liberation Sans, sans-serif">1</text>
<text x="260.3" y="1192.9" text-anchor="end" font-size="15.3" font-family="Liberation Sans, sans-serif">Low [Mg<tspan font-size="10.6" dy="-6">2+</tspan><tspan dy="6">]</tspan></text>
<text x="260.3" y="1211.0" text-anchor="end" font-size="15.3" font-family="Liberation Sans, sans-serif">Low [c-di-GMP]</text>
<circle cx="440.1" cy="1184.6" r="12.8" fill="#fff" stroke="#222" stroke-width="1"/>
<text x="440.1" y="1190.6" text-anchor="middle" font-size="17" font-family="Liberation Sans, sans-serif">2</text>
<text x="536.3" y="1192.9" text-anchor="end" font-size="15.3" font-family="Liberation Sans, sans-serif">Low [Mg<tspan font-size="10.6" dy="-6">2+</tspan><tspan dy="6">]</tspan></text>
<text x="536.3" y="1211.0" text-anchor="end" font-size="15.3" font-family="Liberation Sans, sans-serif">High [c-di-GMP]</text>
<text x="215.6" y="1020.2" font-size="15.3" font-family="Liberation Sans, sans-serif">Mg<tspan font-size="10.6" dy="-6">2+</tspan><tspan dy="6">-ligand</tspan></text>
<text x="215.6" y="1037.6" font-size="15.3" font-family="Liberation Sans, sans-serif">synergy</text>
<line x1="297.5" y1="1046.8" x2="349" y2="1090.4" stroke="#111" stroke-width="1.4"/>
<polygon points="354.7,1095.2 343.8,1091.9 349.9,1084.7" fill="#111"/>
<circle cx="286.2" cy="1037.9" r="12.8" fill="#fff" stroke="#222" stroke-width="1"/>
<text x="286.2" y="1043.9" text-anchor="middle" font-size="17" font-family="Liberation Sans, sans-serif">5</text>
<polyline points="138.9,1091.6 200,1092 260,1092.3 300,1093 331.2,1094.9 350.7,1097.8 371.1,1104.2 391.5,1109.4 412,1113.4 422.2,1114.6 442.6,1116.1 460,1117 490,1117.6 513.7,1117.9" fill="none" stroke="#c93338" stroke-width="2.6" stroke-linejoin="round"/>
<path d="M138.9,1084.8V1097.2M135.70000000000002,1084.8H142.1M135.70000000000002,1097.2H142.1" stroke="#e07070" stroke-width="0.9" fill="none"/>
<path d="M189.6,1088.0V1100.4M186.4,1088.0H192.79999999999998M186.4,1100.4H192.79999999999998" stroke="#e07070" stroke-width="0.9" fill="none"/>
<path d="M235.6,1081.3999999999999V1093.8M232.4,1081.3999999999999H238.79999999999998M232.4,1093.8H238.79999999999998" stroke="#e07070" stroke-width="0.9" fill="none"/>
<path d="M281,1085.8V1098.2M277.8,1085.8H284.2M277.8,1098.2H284.2" stroke="#e07070" stroke-width="0.9" fill="none"/>
<path d="M331.2,1088.0V1100.4M328.0,1088.0H334.4M328.0,1100.4H334.4" stroke="#e07070" stroke-width="0.9" fill="none"/>
<path d="M372.7,1098.2V1110.6000000000001M369.5,1098.2H375.9M369.5,1110.6000000000001H375.9" stroke="#e07070" stroke-width="0.9" fill="none"/>
<path d="M421.2,1105.3V1117.7M418.0,1105.3H424.4M418.0,1117.7H424.4" stroke="#e07070" stroke-width="0.9" fill="none"/>
<path d="M467.3,1111.3999999999999V1123.8M464.1,1111.3999999999999H470.5M464.1,1123.8H470.5" stroke="#e07070" stroke-width="0.9" fill="none"/>
<path d="M513.7,1112.3V1124.7M510.50000000000006,1112.3H516.9000000000001M510.50000000000006,1124.7H516.9000000000001" stroke="#e07070" stroke-width="0.9" fill="none"/>
<polyline points="353.6,915 353.5,980 353.5,1040 354.3,1060.4 356.4,1079.9 359.9,1091.1 363.9,1101.3 371.1,1111.5 379.3,1119.7 386.4,1125.4 397.7,1134 409.9,1143.2 421.2,1149.3 430.4,1158.5 438.5,1170.8" fill="none" stroke="#3d3d3d" stroke-width="2.3" stroke-linejoin="round"/>
<path d="M301.9,915.9H337.7M301.9,912.9V918.9M337.7,912.9V918.9" stroke="#8a8a8a" stroke-width="0.9" fill="none"/>
<path d="M340.8,975.1H372.3M340.8,972.1V978.1M372.3,972.1V978.1" stroke="#8a8a8a" stroke-width="0.9" fill="none"/>
<path d="M384.4,1020.6H395.5M384.4,1017.6V1023.6M395.5,1017.6V1023.6" stroke="#8a8a8a" stroke-width="0.9" fill="none"/>
<path d="M325.1,1053.7H351.7M325.1,1050.7V1056.7M351.7,1050.7V1056.7" stroke="#8a8a8a" stroke-width="0.9" fill="none"/>
<path d="M361.9,1103H392.6M361.9,1100V1106M392.6,1100V1106" stroke="#8a8a8a" stroke-width="0.9" fill="none"/>
<path d="M412,1148.3H428.7M412,1145.3V1151.3M428.7,1145.3V1151.3" stroke="#8a8a8a" stroke-width="0.9" fill="none"/>
<rect x="135.20000000000002" y="1087.3" width="7.4" height="7.4" fill="#c93338"/>
<rect x="185.9" y="1090.5" width="7.4" height="7.4" fill="#c93338"/>
<rect x="231.9" y="1083.8999999999999" width="7.4" height="7.4" fill="#c93338"/>
<rect x="277.3" y="1088.3" width="7.4" height="7.4" fill="#c93338"/>
<rect x="327.5" y="1090.5" width="7.4" height="7.4" fill="#c93338"/>
<rect x="369.0" y="1100.7" width="7.4" height="7.4" fill="#c93338"/>
<rect x="417.5" y="1107.8" width="7.4" height="7.4" fill="#c93338"/>
<rect x="463.6" y="1113.8999999999999" width="7.4" height="7.4" fill="#c93338"/>
<rect x="510.00000000000006" y="1114.8" width="7.4" height="7.4" fill="#c93338"/>
<circle cx="323.6" cy="915.9" r="3.9" fill="#3d3d3d"/>
<circle cx="359.2" cy="975.1" r="3.9" fill="#3d3d3d"/>
<circle cx="389.7" cy="1020.6" r="3.9" fill="#3d3d3d"/>
<circle cx="341.5" cy="1053.7" r="3.9" fill="#3d3d3d"/>
<circle cx="356.4" cy="1079.9" r="3.9" fill="#3d3d3d"/>
<circle cx="379.7" cy="1103" r="3.9" fill="#3d3d3d"/>
<circle cx="386.4" cy="1125.4" r="3.9" fill="#3d3d3d"/>
<circle cx="421.2" cy="1148.3" r="3.9" fill="#3d3d3d"/>
<circle cx="481.8" cy="1023.6" r="3.9" fill="#3d3d3d"/>
<text x="494" y="1030.9" font-size="15" font-family="Liberation Sans, sans-serif"><tspan font-style="italic">K</tspan><tspan font-size="10.5" dy="4.5">D,app</tspan></text>
<rect x="478.1" y="1079.7" width="7.4" height="7.4" fill="#c93338"/>
<text x="494" y="1090.7" font-size="15" font-family="Liberation Sans, sans-serif"><tspan font-style="italic">K</tspan><tspan font-size="10.5" dy="4.5">Mg</tspan></text>
</svg></body></html>
